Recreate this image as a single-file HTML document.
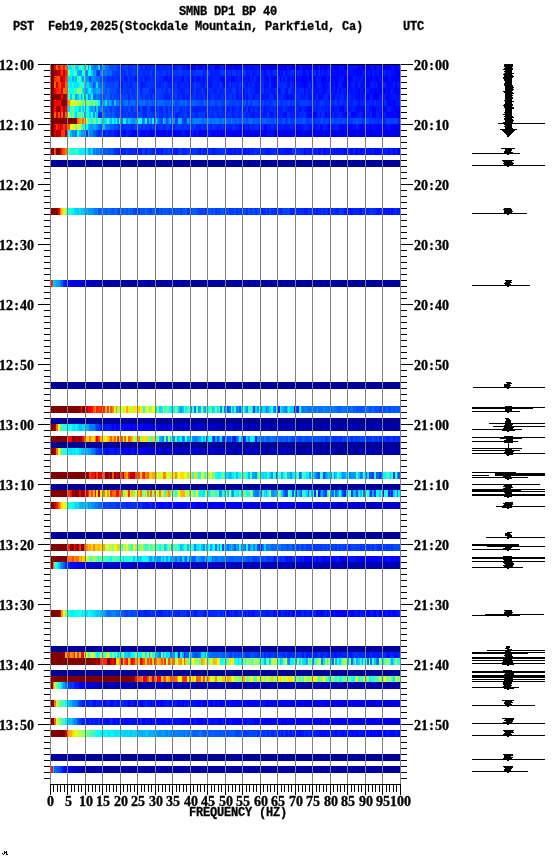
<!DOCTYPE html><html><head><meta charset="utf-8"><style>
html,body{margin:0;padding:0;background:#fff;width:552px;height:864px;overflow:hidden;position:relative}
.t{position:absolute;font-family:"Liberation Serif",serif;font-weight:bold;font-size:14px;line-height:13px;white-space:pre;color:#000;will-change:transform;-webkit-text-stroke:0.35px #000}
.t span{display:inline-block;width:7px;text-align:center}
.h{position:absolute;font-family:"Liberation Mono",monospace;font-weight:bold;font-size:12px;letter-spacing:-0.2px;line-height:13px;white-space:pre;color:#000;will-change:transform;-webkit-text-stroke:0.3px #000}
.r{position:absolute;left:51px;width:349px;height:7px}
.g{position:absolute;width:1px;background:#808080}
.k{position:absolute;height:1px;background:#000}
.v{position:absolute;width:1px;background:#000}
</style></head><body>
<div class="r" style="top:64px;background:linear-gradient(90deg,#800000 0 3.49px,#f10000 0 5.24px,#ff6300 0 6.98px,#ff0800 0 8.73px,#ff2a00 0 10.47px,#ff6600 0 12.21px,#ff0e00 0 13.96px,#ff6a00 0 15.71px,#f0ff0f 0 17.45px,#00f0ff 0 19.20px,#00ebff 0 20.94px,#24ffdb 0 22.69px,#69ff96 0 24.43px,#00d5ff 0 26.18px,#00dfff 0 27.92px,#26ffd9 0 29.67px,#5bffa4 0 31.41px,#09fff6 0 33.16px,#00dbff 0 34.90px,#43ffbc 0 36.65px,#0082ff 0 38.39px,#17ffe8 0 40.14px,#009cff 0 41.88px,#0076ff 0 43.62px,#0066ff 0 45.37px,#0081ff 0 47.12px,#00daff 0 48.86px,#0053ff 0 50.61px,#0098ff 0 52.35px,#009bff 0 54.10px,#0072ff 0 57.59px,#0055ff 0 59.33px,#004dff 0 61.08px,#004cff 0 62.82px,#0058ff 0 64.56px,#0045ff 0 66.31px,#0038ff 0 68.06px,#003cff 0 69.80px,#0035ff 0 71.55px,#002eff 0 73.29px,#0042ff 0 75.04px,#003dff 0 76.78px,#0028ff 0 78.53px,#0035ff 0 80.27px,#0032ff 0 82.02px,#0040ff 0 83.76px,#0039ff 0 85.51px,#0025ff 0 87.25px,#0042ff 0 89.00px,#001cff 0 90.74px,#0028ff 0 92.48px,#0035ff 0 94.23px,#001aff 0 95.98px,#0028ff 0 97.72px,#0014ff 0 99.47px,#002dff 0 101.21px,#0030ff 0 102.96px,#0027ff 0 104.70px,#0033ff 0 106.45px,#001aff 0 108.19px,#0029ff 0 109.94px,#0024ff 0 111.68px,#0023ff 0 113.43px,#001cff 0 115.17px,#002cff 0 116.92px,#002fff 0 118.66px,#001aff 0 120.41px,#0021ff 0 122.15px,#0006ff 0 123.90px,#0021ff 0 125.64px,#001dff 0 127.39px,#002bff 0 129.13px,#0023ff 0 130.88px,#000bff 0 132.62px,#000eff 0 134.37px,#0019ff 0 136.11px,#0000fc 0 137.86px,#000eff 0 139.60px,#0001ff 0 141.34px,#0000fd 0 143.09px,#0000f9 0 144.84px,#0017ff 0 146.58px,#0000fa 0 148.33px,#0000fe 0 150.07px,#0005ff 0 151.81px,#001aff 0 153.56px,#0000f7 0 155.31px,#0008ff 0 157.05px,#000cff 0 158.80px,#001aff 0 160.54px,#0017ff 0 162.28px,#0019ff 0 164.03px,#0000ff 0 165.78px,#0006ff 0 167.52px,#0003ff 0 169.27px,#0019ff 0 171.01px,#001cff 0 172.76px,#0000f9 0 174.50px,#0000fa 0 176.25px,#0000fc 0 179.74px,#0008ff 0 181.48px,#000cff 0 183.23px,#0000fd 0 184.97px,#0000f2 0 186.72px,#0005ff 0 188.46px,#0003ff 0 190.21px,#000bff 0 191.95px,#001bff 0 193.70px,#0010ff 0 195.44px,#0008ff 0 197.19px,#000dff 0 198.93px,#000fff 0 200.68px,#0000f4 0 202.42px,#0018ff 0 204.17px,#0013ff 0 205.91px,#0017ff 0 207.66px,#0014ff 0 209.40px,#0003ff 0 212.89px,#0000f5 0 214.64px,#000dff 0 216.38px,#0000f3 0 219.87px,#0000f9 0 221.62px,#0000f7 0 223.36px,#0000ff 0 225.11px,#0000f2 0 226.85px,#0000f0 0 228.60px,#0000f6 0 230.34px,#0000f4 0 232.09px,#0000ff 0 233.83px,#0000f1 0 235.58px,#0016ff 0 237.32px,#000aff 0 239.07px,#0000f6 0 240.81px,#0000fa 0 242.56px,#0000fe 0 244.30px,#0000ff 0 246.05px,#0000f4 0 247.79px,#0014ff 0 249.54px,#001aff 0 251.28px,#0003ff 0 253.03px,#0004ff 0 254.77px,#0000f2 0 256.52px,#0000f3 0 258.26px,#0000fd 0 260.00px,#0000fa 0 261.75px,#0012ff 0 263.50px,#0000f5 0 265.24px,#0000ef 0 266.99px,#0017ff 0 268.73px,#0005ff 0 270.48px,#0000f4 0 272.22px,#0006ff 0 273.97px,#0000ef 0 275.71px,#0005ff 0 277.46px,#0018ff 0 279.20px,#0013ff 0 280.94px,#000cff 0 282.69px,#0000f8 0 284.44px,#0000fd 0 286.18px,#0000f4 0 287.93px,#000fff 0 289.67px,#0004ff 0 291.42px,#000fff 0 293.16px,#0000fb 0 294.91px,#0000f6 0 296.65px,#0010ff 0 298.40px,#0017ff 0 300.14px,#0011ff 0 301.88px,#000fff 0 303.63px,#0010ff 0 305.38px,#000cff 0 307.12px,#0000f5 0 308.87px,#0003ff 0 310.61px,#0000fb 0 312.36px,#0000ed 0 315.85px,#0000f7 0 317.59px,#0000f6 0 319.34px,#000aff 0 321.08px,#0015ff 0 322.83px,#0000fe 0 324.57px,#0014ff 0 326.31px,#0016ff 0 328.06px,#0014ff 0 329.81px,#0000fa 0 331.55px,#0000f4 0 335.04px,#0000f3 0 338.53px,#0006ff 0 340.28px,#0011ff 0 342.02px,#000fff 0 343.77px,#0000fe 0 345.51px,#0007ff 0 347.25px,#000dff 0 349.00px)"></div>
<div class="r" style="top:70px;background:linear-gradient(90deg,#800000 0 3.49px,#8c0000 0 5.24px,#a90000 0 6.98px,#b40000 0 8.73px,#ee0000 0 10.47px,#ff2e00 0 12.21px,#ba0000 0 13.96px,#ff1900 0 15.71px,#ffcf00 0 17.45px,#83ff7c 0 19.20px,#09fff6 0 20.94px,#01fffe 0 22.69px,#62ff9d 0 24.43px,#2dffd2 0 26.18px,#00b6ff 0 27.92px,#00a4ff 0 29.67px,#009fff 0 31.41px,#2bffd4 0 33.16px,#0efff1 0 34.90px,#0082ff 0 36.65px,#00feff 0 38.39px,#14ffeb 0 40.14px,#00caff 0 41.88px,#0085ff 0 43.62px,#00a2ff 0 45.37px,#0047ff 0 47.12px,#0026ff 0 48.86px,#0090ff 0 50.61px,#007aff 0 52.35px,#006fff 0 54.10px,#007aff 0 55.84px,#005fff 0 57.59px,#006cff 0 59.33px,#0064ff 0 61.08px,#0044ff 0 62.82px,#0040ff 0 64.56px,#003bff 0 66.31px,#0033ff 0 68.06px,#003cff 0 69.80px,#002eff 0 71.55px,#0034ff 0 73.29px,#0028ff 0 75.04px,#0048ff 0 76.78px,#0030ff 0 78.53px,#0035ff 0 80.27px,#003aff 0 82.02px,#0047ff 0 83.76px,#0032ff 0 85.51px,#0047ff 0 87.25px,#0035ff 0 89.00px,#0036ff 0 90.74px,#0035ff 0 92.48px,#0020ff 0 94.23px,#0031ff 0 95.98px,#0026ff 0 97.72px,#001eff 0 99.47px,#0040ff 0 101.21px,#0025ff 0 102.96px,#0031ff 0 104.70px,#003cff 0 106.45px,#0034ff 0 108.19px,#002aff 0 109.94px,#0032ff 0 111.68px,#0033ff 0 113.43px,#003dff 0 115.17px,#0020ff 0 116.92px,#0033ff 0 118.66px,#0025ff 0 120.41px,#0026ff 0 122.15px,#003bff 0 123.90px,#002fff 0 125.64px,#0031ff 0 127.39px,#0039ff 0 129.13px,#0040ff 0 130.88px,#002bff 0 132.62px,#0032ff 0 134.37px,#002dff 0 137.86px,#0035ff 0 139.60px,#002aff 0 141.34px,#002eff 0 143.09px,#002bff 0 144.84px,#003eff 0 146.58px,#0034ff 0 148.33px,#003bff 0 150.07px,#003dff 0 151.81px,#0020ff 0 153.56px,#002dff 0 155.31px,#003dff 0 157.05px,#0038ff 0 158.80px,#001aff 0 160.54px,#0019ff 0 162.28px,#0026ff 0 164.03px,#0016ff 0 165.78px,#001dff 0 167.52px,#0016ff 0 169.27px,#002fff 0 171.01px,#0033ff 0 172.76px,#0038ff 0 174.50px,#0018ff 0 176.25px,#0030ff 0 177.99px,#002dff 0 179.74px,#0017ff 0 181.48px,#0036ff 0 183.23px,#0039ff 0 184.97px,#0019ff 0 186.72px,#0038ff 0 188.46px,#0020ff 0 190.21px,#0024ff 0 191.95px,#0039ff 0 193.70px,#0032ff 0 195.44px,#0015ff 0 197.19px,#0020ff 0 198.93px,#0023ff 0 200.68px,#001cff 0 202.42px,#0015ff 0 204.17px,#001aff 0 205.91px,#002bff 0 207.66px,#000dff 0 209.40px,#0023ff 0 211.15px,#001eff 0 212.89px,#000cff 0 214.64px,#0019ff 0 216.38px,#0025ff 0 218.12px,#0020ff 0 219.87px,#000dff 0 221.62px,#0034ff 0 223.36px,#002bff 0 225.11px,#0032ff 0 226.85px,#000dff 0 228.60px,#0014ff 0 230.34px,#000aff 0 232.09px,#0029ff 0 233.83px,#0013ff 0 235.58px,#000dff 0 237.32px,#0019ff 0 239.07px,#002eff 0 240.81px,#0029ff 0 242.56px,#0011ff 0 244.30px,#000cff 0 246.05px,#002dff 0 247.79px,#001eff 0 249.54px,#0023ff 0 251.28px,#0009ff 0 253.03px,#0007ff 0 254.77px,#0021ff 0 256.52px,#0016ff 0 258.26px,#0007ff 0 260.00px,#002bff 0 261.75px,#001eff 0 263.50px,#0025ff 0 265.24px,#0006ff 0 266.99px,#0027ff 0 268.73px,#0005ff 0 270.48px,#0026ff 0 272.22px,#0015ff 0 273.97px,#0010ff 0 275.71px,#0018ff 0 277.46px,#0028ff 0 279.20px,#000cff 0 280.94px,#0005ff 0 282.69px,#0016ff 0 284.44px,#000aff 0 286.18px,#0004ff 0 287.93px,#0006ff 0 289.67px,#0001ff 0 291.42px,#0007ff 0 293.16px,#000bff 0 296.65px,#001eff 0 298.40px,#0009ff 0 300.14px,#0012ff 0 301.88px,#0004ff 0 303.63px,#000bff 0 305.38px,#0000fc 0 307.12px,#0006ff 0 308.87px,#0000fb 0 310.61px,#001aff 0 312.36px,#0012ff 0 314.10px,#0003ff 0 315.85px,#000eff 0 317.59px,#0022ff 0 319.34px,#0000fd 0 321.08px,#001cff 0 322.83px,#000bff 0 324.57px,#000eff 0 326.31px,#001cff 0 328.06px,#0009ff 0 329.81px,#000dff 0 331.55px,#0015ff 0 333.30px,#0021ff 0 335.04px,#0006ff 0 336.79px,#001aff 0 338.53px,#0015ff 0 340.28px,#0011ff 0 342.02px,#0007ff 0 343.77px,#0004ff 0 345.51px,#0000f7 0 347.25px,#0000fa 0 349.00px)"></div>
<div class="r" style="top:76px;background:linear-gradient(90deg,#800000 0 3.49px,#ff2b00 0 5.24px,#ff4000 0 6.98px,#ff5300 0 8.73px,#c10000 0 10.47px,#be0000 0 12.21px,#e80000 0 13.96px,#ff3800 0 15.71px,#a1ff5e 0 17.45px,#00d7ff 0 19.20px,#00f1ff 0 20.94px,#00b0ff 0 22.69px,#00e2ff 0 24.43px,#00b8ff 0 26.18px,#3bffc4 0 27.92px,#37ffc8 0 29.67px,#00ddff 0 31.41px,#009bff 0 33.16px,#23ffdc 0 34.90px,#0096ff 0 36.65px,#0094ff 0 38.39px,#0042ff 0 40.14px,#0081ff 0 41.88px,#0088ff 0 43.62px,#0082ff 0 45.37px,#0069ff 0 47.12px,#006bff 0 48.86px,#004aff 0 50.61px,#004bff 0 52.35px,#003fff 0 54.10px,#0047ff 0 55.84px,#0033ff 0 57.59px,#002dff 0 59.33px,#0034ff 0 61.08px,#002cff 0 62.82px,#0036ff 0 64.56px,#002fff 0 66.31px,#0033ff 0 68.06px,#002bff 0 69.80px,#002dff 0 71.55px,#0033ff 0 73.29px,#001eff 0 75.04px,#001bff 0 76.78px,#0037ff 0 78.53px,#0014ff 0 80.27px,#002cff 0 82.02px,#0028ff 0 83.76px,#000eff 0 85.51px,#0030ff 0 87.25px,#0032ff 0 89.00px,#0026ff 0 90.74px,#002bff 0 92.48px,#002eff 0 94.23px,#0011ff 0 95.98px,#0021ff 0 97.72px,#0020ff 0 99.47px,#002eff 0 101.21px,#002cff 0 102.96px,#002dff 0 104.70px,#0023ff 0 106.45px,#002fff 0 108.19px,#0026ff 0 109.94px,#0027ff 0 111.68px,#0013ff 0 113.43px,#000aff 0 115.17px,#000eff 0 116.92px,#0018ff 0 118.66px,#000cff 0 120.41px,#002bff 0 122.15px,#001fff 0 123.90px,#0022ff 0 127.39px,#0024ff 0 129.13px,#001bff 0 130.88px,#0007ff 0 132.62px,#0028ff 0 134.37px,#0026ff 0 136.11px,#001bff 0 137.86px,#001cff 0 139.60px,#0021ff 0 141.34px,#0008ff 0 143.09px,#0024ff 0 144.84px,#000fff 0 146.58px,#0008ff 0 148.33px,#0010ff 0 150.07px,#0023ff 0 151.81px,#000dff 0 153.56px,#0023ff 0 155.31px,#002dff 0 157.05px,#0018ff 0 158.80px,#0013ff 0 160.54px,#0017ff 0 162.28px,#001fff 0 164.03px,#0023ff 0 165.78px,#001cff 0 167.52px,#001dff 0 169.27px,#0005ff 0 171.01px,#0008ff 0 172.76px,#000cff 0 174.50px,#0020ff 0 176.25px,#000eff 0 177.99px,#0019ff 0 179.74px,#0001ff 0 181.48px,#0003ff 0 183.23px,#000bff 0 184.97px,#001cff 0 186.72px,#001dff 0 188.46px,#001cff 0 190.21px,#000bff 0 191.95px,#0015ff 0 193.70px,#0012ff 0 197.19px,#0003ff 0 198.93px,#0024ff 0 200.68px,#0006ff 0 202.42px,#0027ff 0 204.17px,#0025ff 0 205.91px,#0000fd 0 207.66px,#0010ff 0 209.40px,#001fff 0 211.15px,#0025ff 0 212.89px,#000fff 0 214.64px,#0007ff 0 216.38px,#0004ff 0 218.12px,#0023ff 0 219.87px,#0004ff 0 221.62px,#0014ff 0 223.36px,#0001ff 0 225.11px,#0011ff 0 226.85px,#0023ff 0 228.60px,#0000ff 0 230.34px,#001dff 0 232.09px,#000fff 0 233.83px,#001fff 0 235.58px,#0017ff 0 237.32px,#0003ff 0 239.07px,#001fff 0 240.81px,#000dff 0 242.56px,#0000f8 0 244.30px,#0000f7 0 246.05px,#000dff 0 247.79px,#000bff 0 249.54px,#0004ff 0 251.28px,#0000fc 0 253.03px,#0006ff 0 254.77px,#0004ff 0 256.52px,#001aff 0 258.26px,#0000f5 0 260.00px,#0016ff 0 261.75px,#0019ff 0 263.50px,#0000fa 0 265.24px,#001dff 0 266.99px,#0013ff 0 268.73px,#001bff 0 270.48px,#0001ff 0 272.22px,#0004ff 0 273.97px,#0005ff 0 275.71px,#001eff 0 277.46px,#000dff 0 279.20px,#0003ff 0 280.94px,#0006ff 0 282.69px,#0000fe 0 284.44px,#0000f4 0 286.18px,#0000f6 0 287.93px,#0016ff 0 289.67px,#0000fd 0 291.42px,#001aff 0 293.16px,#0000fb 0 294.91px,#0000fc 0 296.65px,#0007ff 0 298.40px,#0000f8 0 300.14px,#0001ff 0 301.88px,#0019ff 0 303.63px,#0016ff 0 305.38px,#0013ff 0 307.12px,#000bff 0 308.87px,#0017ff 0 312.36px,#0007ff 0 314.10px,#000eff 0 315.85px,#0000f0 0 317.59px,#000eff 0 319.34px,#0002ff 0 321.08px,#000eff 0 322.83px,#0009ff 0 324.57px,#0000f9 0 326.31px,#0000ef 0 328.06px,#0015ff 0 329.81px,#0000f2 0 331.55px,#0001ff 0 333.30px,#0000fa 0 335.04px,#0000f8 0 336.79px,#000cff 0 338.53px,#0015ff 0 340.28px,#0000f6 0 342.02px,#0007ff 0 343.77px,#0000f7 0 345.51px,#0003ff 0 347.25px,#0000fb 0 349.00px)"></div>
<div class="r" style="top:82px;background:linear-gradient(90deg,#800000 0 3.49px,#ff5f00 0 5.24px,#de0000 0 6.98px,#ff3800 0 8.73px,#ff7700 0 10.47px,#f90000 0 12.21px,#f00000 0 13.96px,#ff6500 0 15.71px,#94ff6b 0 17.45px,#09fff6 0 19.20px,#00ebff 0 20.94px,#14ffeb 0 22.69px,#00d8ff 0 24.43px,#00ecff 0 26.18px,#00e6ff 0 27.92px,#1affe5 0 29.67px,#4fffb0 0 31.41px,#2bffd4 0 33.16px,#00deff 0 34.90px,#00d0ff 0 36.65px,#00d7ff 0 38.39px,#00abff 0 40.14px,#0095ff 0 41.88px,#0050ff 0 43.62px,#006cff 0 45.37px,#00e4ff 0 47.12px,#006aff 0 48.86px,#006cff 0 50.61px,#0065ff 0 52.35px,#006aff 0 54.10px,#004aff 0 55.84px,#0047ff 0 57.59px,#0041ff 0 59.33px,#0043ff 0 61.08px,#0040ff 0 62.82px,#0050ff 0 64.56px,#0047ff 0 66.31px,#0043ff 0 68.06px,#001aff 0 71.55px,#0036ff 0 73.29px,#003eff 0 75.04px,#002cff 0 76.78px,#0030ff 0 78.53px,#0017ff 0 80.27px,#0028ff 0 82.02px,#003eff 0 83.76px,#003aff 0 85.51px,#003bff 0 87.25px,#0040ff 0 89.00px,#0021ff 0 90.74px,#001aff 0 92.48px,#001cff 0 94.23px,#002cff 0 95.98px,#0032ff 0 97.72px,#003dff 0 99.47px,#0033ff 0 101.21px,#0030ff 0 102.96px,#0035ff 0 104.70px,#0027ff 0 106.45px,#002bff 0 108.19px,#0015ff 0 109.94px,#0035ff 0 111.68px,#001dff 0 113.43px,#003aff 0 115.17px,#002eff 0 116.92px,#001fff 0 118.66px,#0018ff 0 120.41px,#001dff 0 122.15px,#002dff 0 123.90px,#002fff 0 125.64px,#0016ff 0 127.39px,#0014ff 0 129.13px,#0027ff 0 130.88px,#0029ff 0 132.62px,#0021ff 0 134.37px,#001aff 0 136.11px,#002aff 0 137.86px,#0010ff 0 139.60px,#001cff 0 141.34px,#0023ff 0 143.09px,#0038ff 0 144.84px,#002aff 0 146.58px,#0034ff 0 148.33px,#0023ff 0 150.07px,#0018ff 0 153.56px,#0037ff 0 155.31px,#002bff 0 157.05px,#001aff 0 158.80px,#000eff 0 160.54px,#0022ff 0 162.28px,#0029ff 0 164.03px,#001eff 0 165.78px,#0017ff 0 167.52px,#0028ff 0 169.27px,#0033ff 0 171.01px,#0015ff 0 172.76px,#000dff 0 174.50px,#0019ff 0 176.25px,#001dff 0 177.99px,#0028ff 0 179.74px,#0013ff 0 181.48px,#002cff 0 183.23px,#0029ff 0 184.97px,#001fff 0 186.72px,#0012ff 0 188.46px,#0032ff 0 190.21px,#0016ff 0 191.95px,#002cff 0 193.70px,#0012ff 0 197.19px,#0028ff 0 198.93px,#0015ff 0 200.68px,#0030ff 0 202.42px,#001dff 0 204.17px,#000fff 0 205.91px,#0011ff 0 207.66px,#0019ff 0 209.40px,#0023ff 0 211.15px,#002fff 0 212.89px,#000cff 0 214.64px,#0017ff 0 216.38px,#000fff 0 218.12px,#002fff 0 219.87px,#000bff 0 221.62px,#0007ff 0 225.11px,#0015ff 0 226.85px,#002bff 0 228.60px,#002aff 0 230.34px,#0023ff 0 232.09px,#002eff 0 233.83px,#002bff 0 235.58px,#0011ff 0 237.32px,#000bff 0 239.07px,#002bff 0 240.81px,#0022ff 0 242.56px,#0004ff 0 244.30px,#001eff 0 246.05px,#0012ff 0 249.54px,#0010ff 0 251.28px,#0009ff 0 253.03px,#0001ff 0 254.77px,#000dff 0 256.52px,#0010ff 0 258.26px,#0029ff 0 260.00px,#0005ff 0 261.75px,#0029ff 0 263.50px,#0009ff 0 265.24px,#000fff 0 266.99px,#0022ff 0 270.48px,#0011ff 0 272.22px,#0001ff 0 273.97px,#0013ff 0 275.71px,#000eff 0 277.46px,#0025ff 0 279.20px,#0006ff 0 280.94px,#000dff 0 282.69px,#0023ff 0 284.44px,#0000fd 0 286.18px,#000eff 0 287.93px,#001fff 0 289.67px,#001dff 0 291.42px,#0000fd 0 293.16px,#0000fc 0 294.91px,#0000fd 0 296.65px,#0023ff 0 298.40px,#0006ff 0 300.14px,#001bff 0 301.88px,#0021ff 0 303.63px,#0009ff 0 305.38px,#0006ff 0 307.12px,#0023ff 0 308.87px,#0014ff 0 310.61px,#0005ff 0 312.36px,#0018ff 0 314.10px,#0007ff 0 315.85px,#0005ff 0 317.59px,#0000f8 0 319.34px,#0019ff 0 321.08px,#001fff 0 322.83px,#0013ff 0 324.57px,#0020ff 0 326.31px,#0000f8 0 328.06px,#0001ff 0 329.81px,#000bff 0 331.55px,#0020ff 0 333.30px,#001fff 0 335.04px,#0007ff 0 336.79px,#0001ff 0 338.53px,#0008ff 0 340.28px,#000bff 0 342.02px,#001dff 0 343.77px,#0000fc 0 345.51px,#0017ff 0 347.25px,#0014ff 0 349.00px)"></div>
<div class="r" style="top:88px;background:linear-gradient(90deg,#800000 0 3.49px,#e60000 0 5.24px,#ff2400 0 6.98px,#ff2b00 0 8.73px,#ff2900 0 10.47px,#dc0000 0 12.21px,#ff6c00 0 13.96px,#ff5b00 0 15.71px,#ffba00 0 17.45px,#44ffbb 0 19.20px,#14ffeb 0 20.94px,#02fffd 0 22.69px,#5bffa4 0 24.43px,#22ffdd 0 26.18px,#95ff6a 0 27.92px,#76ff89 0 29.67px,#7eff81 0 31.41px,#00e2ff 0 33.16px,#00b2ff 0 34.90px,#00a5ff 0 36.65px,#00e4ff 0 38.39px,#00feff 0 40.14px,#00bbff 0 41.88px,#0081ff 0 43.62px,#0095ff 0 45.37px,#00adff 0 47.12px,#00a8ff 0 48.86px,#0081ff 0 50.61px,#0078ff 0 52.35px,#006cff 0 54.10px,#0050ff 0 55.84px,#0069ff 0 57.59px,#004dff 0 59.33px,#0054ff 0 61.08px,#0047ff 0 62.82px,#0051ff 0 64.56px,#0035ff 0 66.31px,#0033ff 0 68.06px,#002dff 0 69.80px,#0029ff 0 71.55px,#0048ff 0 73.29px,#003bff 0 75.04px,#0030ff 0 76.78px,#0032ff 0 78.53px,#004bff 0 80.27px,#0036ff 0 82.02px,#002aff 0 83.76px,#0043ff 0 85.51px,#003cff 0 87.25px,#004aff 0 89.00px,#0024ff 0 90.74px,#0033ff 0 92.48px,#0042ff 0 95.98px,#0045ff 0 97.72px,#0020ff 0 99.47px,#002aff 0 101.21px,#0023ff 0 102.96px,#0025ff 0 104.70px,#0046ff 0 106.45px,#0035ff 0 108.19px,#0044ff 0 109.94px,#002cff 0 111.68px,#0040ff 0 113.43px,#002fff 0 115.17px,#0026ff 0 116.92px,#003cff 0 118.66px,#0043ff 0 120.41px,#001fff 0 122.15px,#0033ff 0 123.90px,#0034ff 0 125.64px,#0023ff 0 127.39px,#0029ff 0 129.13px,#001fff 0 130.88px,#0021ff 0 132.62px,#0023ff 0 134.37px,#0031ff 0 136.11px,#0033ff 0 137.86px,#0020ff 0 139.60px,#0018ff 0 141.34px,#0025ff 0 143.09px,#0033ff 0 144.84px,#001eff 0 146.58px,#0023ff 0 148.33px,#001eff 0 150.07px,#0037ff 0 151.81px,#002cff 0 153.56px,#0018ff 0 155.31px,#0019ff 0 157.05px,#0025ff 0 158.80px,#002bff 0 160.54px,#002fff 0 162.28px,#0017ff 0 164.03px,#001aff 0 165.78px,#0030ff 0 167.52px,#0024ff 0 169.27px,#001eff 0 171.01px,#001fff 0 172.76px,#003aff 0 174.50px,#001fff 0 176.25px,#0029ff 0 177.99px,#0020ff 0 179.74px,#0022ff 0 181.48px,#0035ff 0 183.23px,#003aff 0 184.97px,#001fff 0 186.72px,#0018ff 0 188.46px,#002eff 0 190.21px,#0018ff 0 191.95px,#000fff 0 193.70px,#0035ff 0 195.44px,#0020ff 0 197.19px,#0031ff 0 198.93px,#001fff 0 200.68px,#0033ff 0 202.42px,#0020ff 0 204.17px,#0013ff 0 205.91px,#000dff 0 207.66px,#0023ff 0 209.40px,#0027ff 0 211.15px,#0032ff 0 212.89px,#000fff 0 214.64px,#0025ff 0 216.38px,#001aff 0 218.12px,#0020ff 0 219.87px,#0010ff 0 221.62px,#0016ff 0 223.36px,#0020ff 0 225.11px,#0030ff 0 226.85px,#000dff 0 228.60px,#001dff 0 230.34px,#002aff 0 232.09px,#0031ff 0 233.83px,#0010ff 0 235.58px,#000dff 0 237.32px,#002fff 0 239.07px,#0030ff 0 240.81px,#001bff 0 242.56px,#0009ff 0 244.30px,#002dff 0 246.05px,#0016ff 0 247.79px,#002cff 0 249.54px,#001fff 0 251.28px,#0028ff 0 253.03px,#000bff 0 254.77px,#0026ff 0 256.52px,#000dff 0 258.26px,#0015ff 0 260.00px,#0027ff 0 261.75px,#0026ff 0 263.50px,#000bff 0 265.24px,#000cff 0 266.99px,#0013ff 0 268.73px,#0018ff 0 270.48px,#0012ff 0 272.22px,#0007ff 0 273.97px,#000cff 0 275.71px,#0020ff 0 277.46px,#0027ff 0 279.20px,#0002ff 0 280.94px,#0018ff 0 282.69px,#0020ff 0 284.44px,#0001ff 0 286.18px,#0023ff 0 287.93px,#0004ff 0 289.67px,#0018ff 0 291.42px,#0016ff 0 293.16px,#0019ff 0 294.91px,#000bff 0 296.65px,#000fff 0 298.40px,#0016ff 0 300.14px,#000fff 0 301.88px,#0019ff 0 303.63px,#000fff 0 307.12px,#0000fc 0 308.87px,#0016ff 0 310.61px,#0010ff 0 312.36px,#0005ff 0 314.10px,#001bff 0 317.59px,#000dff 0 319.34px,#0001ff 0 321.08px,#000dff 0 322.83px,#0000fd 0 326.31px,#000bff 0 328.06px,#0000fb 0 329.81px,#000bff 0 331.55px,#000dff 0 333.30px,#0000f8 0 335.04px,#0012ff 0 336.79px,#0000f9 0 338.53px,#0016ff 0 340.28px,#0017ff 0 342.02px,#000cff 0 343.77px,#0000f7 0 345.51px,#000bff 0 347.25px,#0005ff 0 349.00px)"></div>
<div class="r" style="top:94px;background:linear-gradient(90deg,#800000 0 6.98px,#880000 0 8.73px,#800000 0 10.47px,#f50000 0 12.21px,#800000 0 13.96px,#bd0000 0 15.71px,#ffa200 0 17.45px,#65ff9a 0 19.20px,#00caff 0 20.94px,#3effc1 0 22.69px,#52ffad 0 24.43px,#00a1ff 0 26.18px,#00d1ff 0 27.92px,#1affe5 0 29.67px,#009dff 0 31.41px,#27ffd8 0 33.16px,#00a5ff 0 34.90px,#04fffb 0 36.65px,#0074ff 0 38.39px,#00afff 0 40.14px,#00f5ff 0 41.88px,#005eff 0 43.62px,#005dff 0 45.37px,#0081ff 0 47.12px,#006dff 0 48.86px,#0056ff 0 50.61px,#0052ff 0 52.35px,#004dff 0 54.10px,#006aff 0 55.84px,#005cff 0 57.59px,#0061ff 0 59.33px,#003eff 0 61.08px,#0054ff 0 62.82px,#0034ff 0 64.56px,#0041ff 0 66.31px,#0042ff 0 68.06px,#0032ff 0 69.80px,#0048ff 0 71.55px,#003aff 0 73.29px,#003bff 0 75.04px,#0047ff 0 76.78px,#0026ff 0 78.53px,#004bff 0 80.27px,#003cff 0 82.02px,#0031ff 0 83.76px,#0042ff 0 85.51px,#002bff 0 87.25px,#004aff 0 89.00px,#0038ff 0 90.74px,#002eff 0 92.48px,#003fff 0 94.23px,#0031ff 0 95.98px,#0026ff 0 97.72px,#003eff 0 99.47px,#0020ff 0 101.21px,#0040ff 0 102.96px,#0028ff 0 104.70px,#0038ff 0 106.45px,#0046ff 0 108.19px,#0035ff 0 109.94px,#0038ff 0 111.68px,#0029ff 0 113.43px,#001cff 0 115.17px,#001dff 0 116.92px,#0021ff 0 118.66px,#0035ff 0 120.41px,#002dff 0 122.15px,#0030ff 0 123.90px,#0040ff 0 125.64px,#001fff 0 127.39px,#0023ff 0 129.13px,#0035ff 0 130.88px,#001aff 0 132.62px,#0018ff 0 134.37px,#0027ff 0 136.11px,#001cff 0 137.86px,#0027ff 0 139.60px,#0021ff 0 141.34px,#0030ff 0 144.84px,#001fff 0 146.58px,#0030ff 0 148.33px,#002aff 0 150.07px,#001bff 0 151.81px,#003dff 0 153.56px,#001fff 0 155.31px,#001bff 0 157.05px,#0018ff 0 158.80px,#002fff 0 160.54px,#0039ff 0 162.28px,#0035ff 0 164.03px,#0024ff 0 165.78px,#001eff 0 167.52px,#0013ff 0 169.27px,#002eff 0 171.01px,#002aff 0 172.76px,#0021ff 0 174.50px,#002dff 0 176.25px,#0024ff 0 177.99px,#0039ff 0 179.74px,#0030ff 0 181.48px,#001bff 0 183.23px,#0036ff 0 184.97px,#0012ff 0 186.72px,#0026ff 0 188.46px,#0020ff 0 190.21px,#0019ff 0 191.95px,#0011ff 0 193.70px,#002fff 0 195.44px,#000fff 0 197.19px,#0025ff 0 198.93px,#0035ff 0 200.68px,#0013ff 0 202.42px,#0015ff 0 204.17px,#0026ff 0 205.91px,#0022ff 0 207.66px,#0027ff 0 209.40px,#002eff 0 211.15px,#0013ff 0 212.89px,#0018ff 0 216.38px,#000dff 0 218.12px,#0030ff 0 219.87px,#002bff 0 221.62px,#0028ff 0 223.36px,#000aff 0 225.11px,#002dff 0 226.85px,#0028ff 0 228.60px,#001cff 0 230.34px,#0028ff 0 232.09px,#001bff 0 233.83px,#0011ff 0 235.58px,#000cff 0 237.32px,#0011ff 0 239.07px,#0009ff 0 240.81px,#0015ff 0 242.56px,#0026ff 0 244.30px,#0023ff 0 246.05px,#002aff 0 247.79px,#0024ff 0 249.54px,#0010ff 0 251.28px,#001cff 0 253.03px,#0017ff 0 254.77px,#0026ff 0 256.52px,#001aff 0 258.26px,#000fff 0 260.00px,#001fff 0 261.75px,#002cff 0 263.50px,#000cff 0 265.24px,#0028ff 0 266.99px,#0003ff 0 268.73px,#000dff 0 270.48px,#000cff 0 272.22px,#0021ff 0 273.97px,#0029ff 0 275.71px,#0021ff 0 277.46px,#000eff 0 279.20px,#0026ff 0 280.94px,#000eff 0 282.69px,#000aff 0 284.44px,#0026ff 0 286.18px,#001aff 0 287.93px,#001cff 0 289.67px,#001bff 0 291.42px,#0028ff 0 293.16px,#0012ff 0 294.91px,#0021ff 0 296.65px,#001bff 0 298.40px,#0022ff 0 300.14px,#000fff 0 301.88px,#001bff 0 303.63px,#0014ff 0 305.38px,#0009ff 0 307.12px,#0005ff 0 308.87px,#0016ff 0 310.61px,#0000fd 0 312.36px,#0021ff 0 314.10px,#0001ff 0 315.85px,#0000fa 0 317.59px,#0000fe 0 319.34px,#0021ff 0 321.08px,#0008ff 0 322.83px,#0000fe 0 324.57px,#0000f9 0 328.06px,#0016ff 0 329.81px,#0013ff 0 331.55px,#0015ff 0 333.30px,#0017ff 0 335.04px,#0000f9 0 336.79px,#0010ff 0 338.53px,#0006ff 0 340.28px,#0019ff 0 343.77px,#001cff 0 345.51px,#0000f7 0 347.25px,#001aff 0 349.00px)"></div>
<div class="r" style="top:100px;background:linear-gradient(90deg,#800000 0 3.49px,#ff0000 0 5.24px,#ec0000 0 6.98px,#fe0000 0 8.73px,#ff0f00 0 10.47px,#800000 0 13.96px,#980000 0 15.71px,#e90000 0 17.45px,#ff8300 0 19.20px,#ffec00 0 20.94px,#c7ff38 0 22.69px,#a0ff5f 0 24.43px,#ffed00 0 26.18px,#9cff63 0 27.92px,#aaff55 0 29.67px,#b5ff4a 0 31.41px,#5dffa2 0 33.16px,#83ff7c 0 34.90px,#76ff89 0 36.65px,#b9ff46 0 38.39px,#61ff9e 0 40.14px,#3cffc3 0 41.88px,#9eff61 0 43.62px,#27ffd8 0 45.37px,#4fffb0 0 47.12px,#06fff9 0 48.86px,#0075ff 0 50.61px,#00a9ff 0 52.35px,#00a6ff 0 54.10px,#00e0ff 0 55.84px,#0085ff 0 57.59px,#00c3ff 0 59.33px,#009aff 0 61.08px,#0054ff 0 62.82px,#00caff 0 64.56px,#006aff 0 66.31px,#0081ff 0 68.06px,#005dff 0 69.80px,#0055ff 0 71.55px,#005dff 0 73.29px,#0075ff 0 75.04px,#007dff 0 76.78px,#0053ff 0 78.53px,#0067ff 0 82.02px,#0073ff 0 83.76px,#0059ff 0 85.51px,#0065ff 0 87.25px,#005fff 0 89.00px,#0073ff 0 90.74px,#005aff 0 92.48px,#0076ff 0 94.23px,#005aff 0 95.98px,#0056ff 0 97.72px,#006aff 0 99.47px,#0061ff 0 101.21px,#0050ff 0 102.96px,#0066ff 0 104.70px,#004eff 0 106.45px,#006bff 0 108.19px,#0067ff 0 109.94px,#006aff 0 111.68px,#0063ff 0 113.43px,#0057ff 0 115.17px,#0058ff 0 118.66px,#006cff 0 120.41px,#0049ff 0 122.15px,#006bff 0 123.90px,#0046ff 0 125.64px,#004dff 0 127.39px,#004fff 0 129.13px,#0069ff 0 130.88px,#0058ff 0 132.62px,#0052ff 0 134.37px,#0067ff 0 136.11px,#004bff 0 137.86px,#0054ff 0 139.60px,#0056ff 0 141.34px,#005fff 0 144.84px,#005aff 0 146.58px,#004cff 0 148.33px,#004bff 0 150.07px,#0043ff 0 151.81px,#0060ff 0 153.56px,#0058ff 0 155.31px,#005aff 0 157.05px,#0042ff 0 158.80px,#004cff 0 160.54px,#005aff 0 162.28px,#0051ff 0 164.03px,#003eff 0 165.78px,#004bff 0 167.52px,#005dff 0 169.27px,#0041ff 0 171.01px,#003eff 0 172.76px,#0042ff 0 174.50px,#0053ff 0 176.25px,#0058ff 0 177.99px,#003aff 0 181.48px,#003dff 0 183.23px,#0040ff 0 184.97px,#0048ff 0 186.72px,#0038ff 0 188.46px,#003fff 0 190.21px,#0038ff 0 191.95px,#0059ff 0 193.70px,#004eff 0 195.44px,#0033ff 0 197.19px,#0057ff 0 198.93px,#0032ff 0 200.68px,#003dff 0 202.42px,#0056ff 0 204.17px,#004dff 0 205.91px,#004aff 0 207.66px,#003dff 0 209.40px,#0032ff 0 211.15px,#0045ff 0 212.89px,#002eff 0 214.64px,#0031ff 0 216.38px,#0038ff 0 218.12px,#0029ff 0 219.87px,#0038ff 0 221.62px,#0048ff 0 223.36px,#0043ff 0 225.11px,#003bff 0 226.85px,#0040ff 0 228.60px,#0038ff 0 230.34px,#002aff 0 232.09px,#003dff 0 233.83px,#0034ff 0 235.58px,#0041ff 0 237.32px,#0048ff 0 239.07px,#0033ff 0 240.81px,#0039ff 0 242.56px,#0040ff 0 244.30px,#0031ff 0 246.05px,#0028ff 0 247.79px,#003dff 0 249.54px,#0043ff 0 251.28px,#003eff 0 253.03px,#003aff 0 254.77px,#0040ff 0 256.52px,#0038ff 0 258.26px,#0036ff 0 260.00px,#002eff 0 261.75px,#0027ff 0 263.50px,#0034ff 0 265.24px,#001dff 0 266.99px,#002aff 0 268.73px,#0039ff 0 270.48px,#0035ff 0 272.22px,#0031ff 0 273.97px,#0021ff 0 275.71px,#0028ff 0 279.20px,#002fff 0 280.94px,#0025ff 0 282.69px,#0030ff 0 284.44px,#003aff 0 286.18px,#001aff 0 287.93px,#002eff 0 289.67px,#0032ff 0 291.42px,#0021ff 0 293.16px,#0025ff 0 294.91px,#0039ff 0 296.65px,#0011ff 0 298.40px,#0026ff 0 300.14px,#0015ff 0 301.88px,#002fff 0 303.63px,#0035ff 0 305.38px,#0022ff 0 307.12px,#0010ff 0 308.87px,#0024ff 0 310.61px,#0022ff 0 312.36px,#0029ff 0 314.10px,#001fff 0 315.85px,#0024ff 0 317.59px,#002cff 0 319.34px,#001eff 0 321.08px,#0019ff 0 322.83px,#002fff 0 324.57px,#000fff 0 326.31px,#0023ff 0 328.06px,#0016ff 0 329.81px,#0025ff 0 331.55px,#000aff 0 333.30px,#002eff 0 335.04px,#0012ff 0 336.79px,#0005ff 0 338.53px,#000eff 0 340.28px,#0013ff 0 342.02px,#0002ff 0 343.77px,#0012ff 0 347.25px,#001dff 0 349.00px)"></div>
<div class="r" style="top:106px;background:linear-gradient(90deg,#800000 0 3.49px,#ff1200 0 5.24px,#ac0000 0 6.98px,#850000 0 8.73px,#d60000 0 10.47px,#ff1300 0 12.21px,#a00000 0 13.96px,#f00000 0 15.71px,#c9ff36 0 17.45px,#00dfff 0 19.20px,#57ffa8 0 20.94px,#56ffa9 0 22.69px,#2dffd2 0 24.43px,#05fffa 0 26.18px,#10ffef 0 27.92px,#00c6ff 0 29.67px,#50ffaf 0 31.41px,#00d0ff 0 33.16px,#01fffe 0 34.90px,#18ffe7 0 36.65px,#0bfff4 0 38.39px,#00b9ff 0 40.14px,#008bff 0 41.88px,#00b0ff 0 43.62px,#0051ff 0 45.37px,#00cfff 0 47.12px,#0064ff 0 48.86px,#0083ff 0 50.61px,#0060ff 0 54.10px,#0055ff 0 55.84px,#0058ff 0 57.59px,#0049ff 0 59.33px,#003cff 0 61.08px,#0055ff 0 62.82px,#003eff 0 64.56px,#0037ff 0 66.31px,#0035ff 0 68.06px,#0037ff 0 69.80px,#0035ff 0 71.55px,#003dff 0 73.29px,#003eff 0 75.04px,#0031ff 0 76.78px,#0049ff 0 78.53px,#0045ff 0 80.27px,#0023ff 0 82.02px,#0044ff 0 83.76px,#0047ff 0 85.51px,#0041ff 0 87.25px,#0026ff 0 89.00px,#0043ff 0 90.74px,#003aff 0 92.48px,#0020ff 0 94.23px,#001fff 0 95.98px,#0047ff 0 97.72px,#003aff 0 99.47px,#0028ff 0 101.21px,#0022ff 0 102.96px,#0023ff 0 104.70px,#0027ff 0 106.45px,#003eff 0 108.19px,#002bff 0 109.94px,#0023ff 0 111.68px,#0042ff 0 113.43px,#003dff 0 115.17px,#0022ff 0 116.92px,#0041ff 0 118.66px,#0034ff 0 120.41px,#003bff 0 122.15px,#0036ff 0 123.90px,#0040ff 0 125.64px,#003bff 0 127.39px,#003dff 0 129.13px,#0021ff 0 130.88px,#0036ff 0 132.62px,#002fff 0 134.37px,#0038ff 0 136.11px,#002aff 0 137.86px,#003dff 0 139.60px,#002fff 0 141.34px,#0022ff 0 143.09px,#0021ff 0 144.84px,#001cff 0 146.58px,#002bff 0 148.33px,#0018ff 0 150.07px,#0029ff 0 151.81px,#001bff 0 153.56px,#002aff 0 157.05px,#002bff 0 158.80px,#0039ff 0 160.54px,#0014ff 0 162.28px,#0037ff 0 164.03px,#0027ff 0 165.78px,#002bff 0 167.52px,#002fff 0 169.27px,#0036ff 0 171.01px,#0022ff 0 172.76px,#0024ff 0 174.50px,#003aff 0 176.25px,#0014ff 0 177.99px,#002cff 0 181.48px,#0012ff 0 183.23px,#002aff 0 184.97px,#002dff 0 186.72px,#0037ff 0 188.46px,#001dff 0 190.21px,#0039ff 0 191.95px,#0024ff 0 193.70px,#0023ff 0 195.44px,#0034ff 0 197.19px,#000fff 0 198.93px,#002cff 0 200.68px,#0028ff 0 202.42px,#001bff 0 204.17px,#0031ff 0 205.91px,#001cff 0 207.66px,#0020ff 0 209.40px,#0022ff 0 211.15px,#002cff 0 212.89px,#0014ff 0 214.64px,#001dff 0 218.12px,#0022ff 0 219.87px,#002dff 0 221.62px,#0016ff 0 223.36px,#002dff 0 225.11px,#001aff 0 226.85px,#001eff 0 228.60px,#0014ff 0 230.34px,#001eff 0 232.09px,#0031ff 0 233.83px,#0023ff 0 235.58px,#0029ff 0 237.32px,#0015ff 0 239.07px,#0014ff 0 240.81px,#0013ff 0 242.56px,#001fff 0 244.30px,#0021ff 0 246.05px,#0027ff 0 247.79px,#0007ff 0 249.54px,#0024ff 0 251.28px,#002aff 0 253.03px,#001cff 0 254.77px,#0006ff 0 256.52px,#0011ff 0 258.26px,#0004ff 0 260.00px,#000bff 0 261.75px,#002aff 0 263.50px,#001dff 0 265.24px,#001eff 0 266.99px,#0024ff 0 268.73px,#0029ff 0 270.48px,#001cff 0 275.71px,#001eff 0 277.46px,#001aff 0 279.20px,#001dff 0 280.94px,#0009ff 0 282.69px,#001cff 0 284.44px,#0013ff 0 286.18px,#0020ff 0 287.93px,#0003ff 0 289.67px,#0006ff 0 291.42px,#0000ff 0 293.16px,#001fff 0 294.91px,#0024ff 0 296.65px,#0019ff 0 298.40px,#000dff 0 300.14px,#0020ff 0 301.88px,#001eff 0 303.63px,#0014ff 0 305.38px,#0007ff 0 307.12px,#0009ff 0 308.87px,#000dff 0 310.61px,#0009ff 0 312.36px,#000dff 0 314.10px,#0016ff 0 315.85px,#0022ff 0 317.59px,#0000fb 0 319.34px,#0012ff 0 321.08px,#0000fa 0 322.83px,#0000fd 0 324.57px,#001bff 0 326.31px,#0011ff 0 328.06px,#001fff 0 329.81px,#000bff 0 331.55px,#0000f7 0 333.30px,#0008ff 0 335.04px,#0010ff 0 336.79px,#001fff 0 338.53px,#0020ff 0 340.28px,#000aff 0 342.02px,#0007ff 0 343.77px,#0000f9 0 345.51px,#0011ff 0 347.25px,#0000fd 0 349.00px)"></div>
<div class="r" style="top:112px;background:linear-gradient(90deg,#800000 0 3.49px,#ff5c00 0 5.24px,#d90000 0 6.98px,#ff4c00 0 8.73px,#a80000 0 10.47px,#ff5800 0 12.21px,#c10000 0 13.96px,#ff5600 0 15.71px,#daff25 0 17.45px,#bcff43 0 19.20px,#32ffcd 0 20.94px,#76ff89 0 22.69px,#01fffe 0 24.43px,#00dcff 0 26.18px,#61ff9e 0 27.92px,#4cffb3 0 29.67px,#5effa1 0 31.41px,#3cffc3 0 33.16px,#00b2ff 0 34.90px,#0ffff0 0 36.65px,#11ffee 0 38.39px,#00d0ff 0 40.14px,#1fffe0 0 41.88px,#008aff 0 43.62px,#08fff7 0 45.37px,#00c8ff 0 47.12px,#002fff 0 48.86px,#0021ff 0 50.61px,#007aff 0 52.35px,#007bff 0 54.10px,#0056ff 0 55.84px,#005aff 0 57.59px,#0066ff 0 59.33px,#0048ff 0 61.08px,#005fff 0 62.82px,#004aff 0 64.56px,#0032ff 0 66.31px,#0039ff 0 68.06px,#003cff 0 69.80px,#0035ff 0 71.55px,#003fff 0 73.29px,#0028ff 0 75.04px,#0044ff 0 76.78px,#0031ff 0 78.53px,#003dff 0 80.27px,#003cff 0 82.02px,#0032ff 0 83.76px,#0031ff 0 85.51px,#0041ff 0 87.25px,#0048ff 0 89.00px,#0041ff 0 90.74px,#0037ff 0 92.48px,#002bff 0 94.23px,#0021ff 0 95.98px,#0048ff 0 97.72px,#003cff 0 99.47px,#0041ff 0 101.21px,#002cff 0 102.96px,#0037ff 0 104.70px,#0046ff 0 106.45px,#0040ff 0 108.19px,#0036ff 0 109.94px,#0029ff 0 111.68px,#002eff 0 113.43px,#0041ff 0 115.17px,#002bff 0 116.92px,#0038ff 0 118.66px,#0034ff 0 120.41px,#0040ff 0 122.15px,#003cff 0 123.90px,#0026ff 0 125.64px,#001aff 0 127.39px,#0024ff 0 129.13px,#002bff 0 130.88px,#0031ff 0 132.62px,#003bff 0 134.37px,#003eff 0 136.11px,#001aff 0 137.86px,#003bff 0 139.60px,#003aff 0 141.34px,#003cff 0 143.09px,#002fff 0 144.84px,#0022ff 0 146.58px,#003aff 0 148.33px,#0038ff 0 150.07px,#0033ff 0 151.81px,#003cff 0 153.56px,#0024ff 0 155.31px,#0018ff 0 157.05px,#002cff 0 158.80px,#0036ff 0 160.54px,#001cff 0 162.28px,#0033ff 0 164.03px,#003bff 0 165.78px,#001dff 0 167.52px,#002cff 0 169.27px,#002fff 0 171.01px,#0026ff 0 172.76px,#001aff 0 174.50px,#001cff 0 176.25px,#0031ff 0 177.99px,#0032ff 0 179.74px,#0024ff 0 181.48px,#0014ff 0 183.23px,#0032ff 0 184.97px,#0030ff 0 186.72px,#0019ff 0 188.46px,#0028ff 0 190.21px,#0035ff 0 191.95px,#0034ff 0 193.70px,#0024ff 0 195.44px,#0022ff 0 197.19px,#0027ff 0 198.93px,#0015ff 0 204.17px,#002aff 0 205.91px,#001cff 0 207.66px,#0024ff 0 209.40px,#001dff 0 211.15px,#0021ff 0 212.89px,#0011ff 0 214.64px,#000dff 0 216.38px,#0035ff 0 218.12px,#001aff 0 219.87px,#000fff 0 221.62px,#0025ff 0 223.36px,#002bff 0 225.11px,#0010ff 0 226.85px,#0022ff 0 228.60px,#0017ff 0 230.34px,#001eff 0 232.09px,#0009ff 0 235.58px,#0031ff 0 237.32px,#002cff 0 239.07px,#001bff 0 240.81px,#001fff 0 242.56px,#0011ff 0 244.30px,#0027ff 0 246.05px,#0018ff 0 247.79px,#002eff 0 249.54px,#0026ff 0 251.28px,#0028ff 0 253.03px,#002dff 0 254.77px,#000fff 0 256.52px,#0006ff 0 258.26px,#000cff 0 260.00px,#000bff 0 261.75px,#0007ff 0 263.50px,#0005ff 0 265.24px,#001aff 0 266.99px,#0027ff 0 268.73px,#0015ff 0 270.48px,#002aff 0 272.22px,#0028ff 0 273.97px,#0004ff 0 275.71px,#001aff 0 277.46px,#0011ff 0 279.20px,#0005ff 0 280.94px,#0029ff 0 282.69px,#000bff 0 284.44px,#0017ff 0 286.18px,#001aff 0 287.93px,#0027ff 0 289.67px,#001bff 0 291.42px,#000fff 0 293.16px,#0011ff 0 294.91px,#0004ff 0 296.65px,#0026ff 0 298.40px,#0027ff 0 300.14px,#0006ff 0 301.88px,#0000fd 0 303.63px,#0007ff 0 305.38px,#000bff 0 307.12px,#0022ff 0 310.61px,#001fff 0 312.36px,#0000fc 0 314.10px,#001cff 0 315.85px,#0018ff 0 317.59px,#0015ff 0 319.34px,#0024ff 0 321.08px,#0000fb 0 322.83px,#0000fe 0 324.57px,#0019ff 0 326.31px,#0020ff 0 328.06px,#0015ff 0 329.81px,#0005ff 0 331.55px,#0011ff 0 333.30px,#0018ff 0 335.04px,#0000fb 0 336.79px,#0005ff 0 338.53px,#0001ff 0 340.28px,#0000fb 0 342.02px,#000aff 0 343.77px,#0000fc 0 345.51px,#0000ff 0 347.25px,#0000fa 0 349.00px)"></div>
<div class="r" style="top:118px;background:linear-gradient(90deg,#800000 0 26.18px,#ff6700 0 27.92px,#ff9600 0 29.67px,#ffb900 0 31.41px,#ff6700 0 33.16px,#ffbc00 0 34.90px,#a8ff57 0 36.65px,#3cffc3 0 38.39px,#3fffc0 0 40.14px,#13ffec 0 41.88px,#87ff78 0 43.62px,#5cffa3 0 45.37px,#00feff 0 47.12px,#81ff7e 0 48.86px,#00feff 0 50.61px,#11ffee 0 52.35px,#00d6ff 0 54.10px,#00e6ff 0 55.84px,#50ffaf 0 57.59px,#00e5ff 0 59.33px,#00bdff 0 61.08px,#00f6ff 0 62.82px,#00cdff 0 64.56px,#39ffc6 0 66.31px,#0097ff 0 68.06px,#3affc5 0 69.80px,#0082ff 0 71.55px,#25ffda 0 73.29px,#00f5ff 0 75.04px,#0098ff 0 76.78px,#00caff 0 78.53px,#00a2ff 0 80.27px,#009aff 0 82.02px,#008cff 0 83.76px,#00aaff 0 85.51px,#23ffdc 0 87.25px,#21ffde 0 89.00px,#11ffee 0 90.74px,#006bff 0 92.48px,#008eff 0 94.23px,#03fffc 0 95.98px,#005bff 0 97.72px,#00dcff 0 99.47px,#0084ff 0 101.21px,#09fff6 0 102.96px,#0049ff 0 104.70px,#00e1ff 0 106.45px,#0083ff 0 108.19px,#0059ff 0 109.94px,#003cff 0 111.68px,#00dcff 0 113.43px,#009dff 0 115.17px,#0058ff 0 116.92px,#0086ff 0 118.66px,#00e1ff 0 120.41px,#0057ff 0 122.15px,#0099ff 0 123.90px,#0042ff 0 125.64px,#004aff 0 127.39px,#00bcff 0 129.13px,#00b0ff 0 130.88px,#004aff 0 132.62px,#0032ff 0 136.11px,#0097ff 0 137.86px,#0080ff 0 139.60px,#0054ff 0 141.34px,#0073ff 0 143.09px,#0083ff 0 144.84px,#0086ff 0 146.58px,#0089ff 0 148.33px,#007fff 0 150.07px,#006dff 0 151.81px,#0067ff 0 153.56px,#0082ff 0 155.31px,#0073ff 0 157.05px,#007fff 0 158.80px,#0062ff 0 160.54px,#0081ff 0 162.28px,#006cff 0 164.03px,#0080ff 0 167.52px,#0070ff 0 169.27px,#005aff 0 171.01px,#007fff 0 172.76px,#006cff 0 174.50px,#007cff 0 176.25px,#0061ff 0 177.99px,#005cff 0 179.74px,#0077ff 0 181.48px,#0062ff 0 183.23px,#0058ff 0 184.97px,#0060ff 0 186.72px,#0069ff 0 188.46px,#004fff 0 190.21px,#0063ff 0 191.95px,#005fff 0 193.70px,#0061ff 0 195.44px,#004fff 0 197.19px,#0068ff 0 198.93px,#006bff 0 200.68px,#006cff 0 202.42px,#0054ff 0 204.17px,#0063ff 0 205.91px,#0054ff 0 207.66px,#0063ff 0 209.40px,#0045ff 0 211.15px,#0066ff 0 212.89px,#0069ff 0 214.64px,#0054ff 0 219.87px,#0053ff 0 221.62px,#003cff 0 223.36px,#0063ff 0 225.11px,#0043ff 0 226.85px,#0040ff 0 228.60px,#003cff 0 230.34px,#0041ff 0 232.09px,#0059ff 0 233.83px,#0037ff 0 235.58px,#003aff 0 237.32px,#0053ff 0 239.07px,#003dff 0 240.81px,#0035ff 0 242.56px,#004eff 0 244.30px,#004cff 0 246.05px,#004aff 0 247.79px,#0051ff 0 249.54px,#0037ff 0 251.28px,#0057ff 0 253.03px,#0050ff 0 254.77px,#0034ff 0 256.52px,#0036ff 0 258.26px,#0046ff 0 261.75px,#003cff 0 263.50px,#0035ff 0 265.24px,#0041ff 0 266.99px,#0035ff 0 268.73px,#0048ff 0 270.48px,#0053ff 0 272.22px,#0034ff 0 273.97px,#0046ff 0 275.71px,#004dff 0 277.46px,#0034ff 0 279.20px,#004fff 0 280.94px,#0054ff 0 282.69px,#003cff 0 284.44px,#003dff 0 286.18px,#004fff 0 287.93px,#0041ff 0 289.67px,#003bff 0 291.42px,#0052ff 0 293.16px,#004aff 0 294.91px,#0037ff 0 296.65px,#0033ff 0 298.40px,#0037ff 0 300.14px,#003aff 0 301.88px,#0051ff 0 303.63px,#0049ff 0 305.38px,#004eff 0 307.12px,#0049ff 0 308.87px,#004aff 0 310.61px,#0028ff 0 312.36px,#003bff 0 314.10px,#004eff 0 315.85px,#004cff 0 317.59px,#002fff 0 319.34px,#0036ff 0 321.08px,#003eff 0 322.83px,#0033ff 0 324.57px,#0039ff 0 326.31px,#0025ff 0 328.06px,#0034ff 0 329.81px,#0037ff 0 331.55px,#0022ff 0 333.30px,#0027ff 0 335.04px,#004aff 0 336.79px,#0041ff 0 338.53px,#0048ff 0 340.28px,#003aff 0 342.02px,#0041ff 0 343.77px,#0044ff 0 347.25px,#001fff 0 349.00px)"></div>
<div class="r" style="top:124px;background:linear-gradient(90deg,#800000 0 3.49px,#d80000 0 5.24px,#ff2b00 0 6.98px,#f80000 0 8.73px,#b00000 0 10.47px,#ef0000 0 12.21px,#ff3b00 0 13.96px,#ff0900 0 15.71px,#ff6f00 0 17.45px,#ff5d00 0 19.20px,#fffd00 0 20.94px,#e6ff19 0 22.69px,#fff400 0 24.43px,#81ff7e 0 26.18px,#baff45 0 27.92px,#ddff22 0 29.67px,#63ff9c 0 31.41px,#0ffff0 0 33.16px,#13ffec 0 34.90px,#11ffee 0 36.65px,#00b6ff 0 38.39px,#00a3ff 0 40.14px,#0095ff 0 41.88px,#00a7ff 0 43.62px,#00aeff 0 45.37px,#0088ff 0 47.12px,#0071ff 0 48.86px,#0044ff 0 50.61px,#0091ff 0 52.35px,#00c2ff 0 54.10px,#007cff 0 55.84px,#0073ff 0 57.59px,#006eff 0 59.33px,#0053ff 0 61.08px,#0061ff 0 62.82px,#004fff 0 64.56px,#004aff 0 66.31px,#0045ff 0 68.06px,#0037ff 0 69.80px,#0030ff 0 71.55px,#002cff 0 73.29px,#002bff 0 75.04px,#0037ff 0 76.78px,#0031ff 0 78.53px,#003aff 0 80.27px,#0021ff 0 82.02px,#002fff 0 83.76px,#0044ff 0 85.51px,#002aff 0 87.25px,#0037ff 0 89.00px,#0034ff 0 90.74px,#002aff 0 92.48px,#0048ff 0 94.23px,#002aff 0 95.98px,#003eff 0 97.72px,#0024ff 0 99.47px,#001fff 0 101.21px,#0041ff 0 102.96px,#002fff 0 104.70px,#001eff 0 106.45px,#002cff 0 108.19px,#002eff 0 109.94px,#003aff 0 111.68px,#001fff 0 113.43px,#0023ff 0 115.17px,#0042ff 0 116.92px,#0038ff 0 118.66px,#001fff 0 120.41px,#0027ff 0 123.90px,#0034ff 0 125.64px,#0032ff 0 127.39px,#003bff 0 129.13px,#003aff 0 130.88px,#002cff 0 132.62px,#0035ff 0 137.86px,#0029ff 0 139.60px,#0036ff 0 141.34px,#0032ff 0 143.09px,#003bff 0 144.84px,#0019ff 0 146.58px,#0038ff 0 148.33px,#0013ff 0 150.07px,#0033ff 0 151.81px,#002bff 0 153.56px,#0027ff 0 155.31px,#003aff 0 157.05px,#0029ff 0 158.80px,#0022ff 0 160.54px,#0032ff 0 162.28px,#0035ff 0 164.03px,#0029ff 0 165.78px,#001fff 0 167.52px,#0022ff 0 171.01px,#002dff 0 172.76px,#001aff 0 174.50px,#001eff 0 176.25px,#0025ff 0 177.99px,#001dff 0 179.74px,#001aff 0 181.48px,#002eff 0 183.23px,#0030ff 0 184.97px,#0021ff 0 186.72px,#001eff 0 188.46px,#0013ff 0 190.21px,#0017ff 0 191.95px,#0010ff 0 193.70px,#0022ff 0 197.19px,#000dff 0 198.93px,#0030ff 0 200.68px,#0016ff 0 202.42px,#002cff 0 204.17px,#002bff 0 205.91px,#0030ff 0 207.66px,#0010ff 0 209.40px,#0019ff 0 211.15px,#002dff 0 212.89px,#0006ff 0 214.64px,#0008ff 0 216.38px,#001dff 0 218.12px,#001aff 0 219.87px,#002cff 0 221.62px,#0025ff 0 223.36px,#001bff 0 225.11px,#002eff 0 226.85px,#0019ff 0 230.34px,#001fff 0 232.09px,#0013ff 0 233.83px,#0011ff 0 235.58px,#001bff 0 237.32px,#0010ff 0 239.07px,#0029ff 0 240.81px,#001dff 0 242.56px,#0016ff 0 244.30px,#0004ff 0 246.05px,#000fff 0 247.79px,#0010ff 0 249.54px,#0016ff 0 251.28px,#0017ff 0 253.03px,#0023ff 0 254.77px,#0026ff 0 256.52px,#0012ff 0 258.26px,#000fff 0 260.00px,#0017ff 0 261.75px,#0026ff 0 263.50px,#000aff 0 265.24px,#0012ff 0 266.99px,#001eff 0 268.73px,#0002ff 0 270.48px,#0008ff 0 272.22px,#0024ff 0 273.97px,#001dff 0 275.71px,#000fff 0 277.46px,#0000fd 0 279.20px,#001fff 0 280.94px,#0016ff 0 282.69px,#001bff 0 284.44px,#0022ff 0 286.18px,#001dff 0 287.93px,#0009ff 0 289.67px,#0000fc 0 291.42px,#0002ff 0 293.16px,#000cff 0 294.91px,#000bff 0 296.65px,#0000fc 0 298.40px,#0000fb 0 300.14px,#000fff 0 301.88px,#000eff 0 303.63px,#0003ff 0 305.38px,#001eff 0 307.12px,#000eff 0 308.87px,#0000f3 0 310.61px,#0004ff 0 312.36px,#0013ff 0 314.10px,#0000fe 0 315.85px,#000fff 0 317.59px,#0000f0 0 319.34px,#0000fc 0 321.08px,#0014ff 0 322.83px,#0009ff 0 324.57px,#000cff 0 326.31px,#0000f6 0 328.06px,#0004ff 0 329.81px,#0006ff 0 331.55px,#0000f8 0 333.30px,#0009ff 0 335.04px,#0004ff 0 336.79px,#0017ff 0 338.53px,#0005ff 0 340.28px,#0000fd 0 342.02px,#0000f0 0 343.77px,#0000f1 0 345.51px,#000cff 0 347.25px,#0000ee 0 349.00px)"></div>
<div class="r" style="top:130px;background:linear-gradient(90deg,#800000 0 3.49px,#d70000 0 5.24px,#9c0000 0 6.98px,#c50000 0 8.73px,#9f0000 0 10.47px,#ff3200 0 12.21px,#ff3c00 0 13.96px,#a60000 0 15.71px,#b5ff4a 0 17.45px,#0bfff4 0 19.20px,#00bcff 0 20.94px,#0091ff 0 22.69px,#009cff 0 24.43px,#0074ff 0 26.18px,#0bfff4 0 27.92px,#00c4ff 0 29.67px,#008fff 0 31.41px,#009bff 0 33.16px,#0088ff 0 34.90px,#003aff 0 36.65px,#00d1ff 0 38.39px,#007cff 0 40.14px,#007fff 0 41.88px,#005dff 0 43.62px,#0058ff 0 45.37px,#003bff 0 47.12px,#0026ff 0 48.86px,#003fff 0 50.61px,#0032ff 0 52.35px,#0019ff 0 54.10px,#0030ff 0 55.84px,#002bff 0 57.59px,#0013ff 0 59.33px,#001eff 0 61.08px,#002bff 0 62.82px,#0015ff 0 64.56px,#0026ff 0 66.31px,#0006ff 0 68.06px,#000bff 0 69.80px,#0018ff 0 71.55px,#0003ff 0 73.29px,#0007ff 0 75.04px,#001eff 0 76.78px,#000eff 0 78.53px,#001aff 0 80.27px,#0003ff 0 82.02px,#0000ff 0 83.76px,#0007ff 0 85.51px,#0000ff 0 87.25px,#0021ff 0 89.00px,#0004ff 0 90.74px,#000fff 0 92.48px,#0000fb 0 94.23px,#000dff 0 95.98px,#0007ff 0 99.47px,#0000f8 0 101.21px,#0000fa 0 102.96px,#0019ff 0 104.70px,#0004ff 0 106.45px,#0000ff 0 108.19px,#0000fc 0 109.94px,#0001ff 0 111.68px,#0000fe 0 113.43px,#0000f5 0 115.17px,#0010ff 0 116.92px,#0002ff 0 118.66px,#0000f9 0 120.41px,#0011ff 0 122.15px,#0000f6 0 123.90px,#0000fd 0 125.64px,#0016ff 0 127.39px,#0000f7 0 129.13px,#0005ff 0 130.88px,#0016ff 0 132.62px,#0014ff 0 134.37px,#0000f7 0 136.11px,#0000ff 0 137.86px,#0010ff 0 139.60px,#0001ff 0 141.34px,#0019ff 0 143.09px,#0000f8 0 144.84px,#0019ff 0 146.58px,#0006ff 0 148.33px,#0000f9 0 150.07px,#0003ff 0 151.81px,#0000f4 0 153.56px,#000dff 0 155.31px,#0000f9 0 157.05px,#0015ff 0 158.80px,#0007ff 0 160.54px,#0000fd 0 162.28px,#0000f8 0 164.03px,#0008ff 0 165.78px,#0000f6 0 167.52px,#0012ff 0 169.27px,#0000f1 0 171.01px,#0003ff 0 172.76px,#0004ff 0 174.50px,#0000f7 0 176.25px,#000dff 0 177.99px,#0000fb 0 179.74px,#0008ff 0 181.48px,#0004ff 0 183.23px,#0000f8 0 184.97px,#0000fb 0 186.72px,#0000ee 0 188.46px,#0000f1 0 190.21px,#000fff 0 191.95px,#0000f7 0 193.70px,#0006ff 0 195.44px,#0000ed 0 197.19px,#0001ff 0 198.93px,#0000f8 0 200.68px,#0000fd 0 202.42px,#0000f5 0 204.17px,#0000eb 0 205.91px,#0000f5 0 207.66px,#0000f1 0 209.40px,#0000ec 0 211.15px,#0006ff 0 212.89px,#0000f3 0 214.64px,#0000f8 0 216.38px,#000eff 0 218.12px,#0008ff 0 219.87px,#000cff 0 221.62px,#000bff 0 223.36px,#0000eb 0 225.11px,#0000f1 0 226.85px,#0000e6 0 228.60px,#0002ff 0 232.09px,#0000f3 0 233.83px,#0000f5 0 235.58px,#0001ff 0 237.32px,#0002ff 0 239.07px,#0000ee 0 240.81px,#0008ff 0 242.56px,#0000f2 0 244.30px,#0000fd 0 246.05px,#0000ea 0 247.79px,#0000e7 0 249.54px,#000aff 0 251.28px,#0002ff 0 253.03px,#0001ff 0 254.77px,#0000e3 0 258.26px,#0000e8 0 260.00px,#0000e9 0 261.75px,#0000ed 0 263.50px,#0000f0 0 265.24px,#0000e2 0 266.99px,#0000ed 0 268.73px,#0000fb 0 270.48px,#0000e7 0 272.22px,#0004ff 0 273.97px,#0000f7 0 275.71px,#0000fd 0 277.46px,#0000e9 0 279.20px,#0000f1 0 280.94px,#0000fb 0 282.69px,#0000ed 0 284.44px,#0000de 0 286.18px,#0002ff 0 287.93px,#0000fe 0 289.67px,#0000e9 0 291.42px,#0000de 0 293.16px,#0002ff 0 294.91px,#0000f6 0 296.65px,#0000de 0 298.40px,#0000e6 0 300.14px,#0000e0 0 301.88px,#0000fd 0 303.63px,#0000e4 0 305.38px,#0003ff 0 307.12px,#0000fa 0 308.87px,#0000de 0 310.61px,#0000f8 0 312.36px,#0000eb 0 314.10px,#0000f9 0 315.85px,#0000fd 0 317.59px,#0000e5 0 319.34px,#0000dd 0 321.08px,#0002ff 0 322.83px,#0000eb 0 324.57px,#0001ff 0 326.31px,#0000f6 0 328.06px,#0000f7 0 329.81px,#0000fb 0 331.55px,#0000f2 0 333.30px,#0000ea 0 335.04px,#0000d9 0 336.79px,#0000f4 0 338.53px,#0000e9 0 340.28px,#0000ec 0 342.02px,#0000fe 0 343.77px,#0000db 0 345.51px,#0000f6 0 347.25px,#0000d7 0 349.00px)"></div>
<div class="r" style="top:148px;background:linear-gradient(90deg,#800000 0 3.49px,#ff3a00 0 5.24px,#800000 0 8.73px,#cd0000 0 10.47px,#ff2300 0 12.21px,#ff5200 0 13.96px,#ff7600 0 15.71px,#68ff97 0 17.45px,#4fffb0 0 19.20px,#28ffd7 0 20.94px,#27ffd8 0 22.69px,#0afff5 0 24.43px,#36ffc9 0 26.18px,#26ffd9 0 27.92px,#00efff 0 29.67px,#00e4ff 0 31.41px,#00f3ff 0 33.16px,#00e0ff 0 34.90px,#03fffc 0 36.65px,#00bcff 0 38.39px,#00a9ff 0 40.14px,#00d5ff 0 41.88px,#007eff 0 43.62px,#009aff 0 45.37px,#0076ff 0 47.12px,#0086ff 0 48.86px,#006dff 0 50.61px,#006bff 0 52.35px,#004dff 0 54.10px,#005dff 0 55.84px,#0055ff 0 57.59px,#004aff 0 59.33px,#0052ff 0 61.08px,#0050ff 0 62.82px,#002dff 0 64.56px,#002fff 0 66.31px,#002dff 0 68.06px,#0022ff 0 69.80px,#001bff 0 71.55px,#0024ff 0 73.29px,#0020ff 0 75.04px,#0036ff 0 76.78px,#002bff 0 78.53px,#001cff 0 80.27px,#0025ff 0 82.02px,#002bff 0 83.76px,#0026ff 0 85.51px,#001eff 0 87.25px,#001aff 0 89.00px,#0017ff 0 90.74px,#0040ff 0 92.48px,#0036ff 0 94.23px,#0019ff 0 95.98px,#0034ff 0 97.72px,#003fff 0 99.47px,#002dff 0 101.21px,#001aff 0 102.96px,#002aff 0 104.70px,#0027ff 0 106.45px,#001dff 0 108.19px,#002bff 0 109.94px,#0014ff 0 111.68px,#003bff 0 113.43px,#002fff 0 115.17px,#002eff 0 116.92px,#003bff 0 118.66px,#002fff 0 120.41px,#001eff 0 122.15px,#001dff 0 123.90px,#0018ff 0 125.64px,#0014ff 0 127.39px,#0033ff 0 129.13px,#0036ff 0 130.88px,#001eff 0 132.62px,#001aff 0 134.37px,#002dff 0 136.11px,#0035ff 0 137.86px,#0038ff 0 139.60px,#0018ff 0 141.34px,#0032ff 0 143.09px,#0034ff 0 144.84px,#0030ff 0 146.58px,#001eff 0 148.33px,#0018ff 0 150.07px,#0033ff 0 151.81px,#001dff 0 153.56px,#001fff 0 155.31px,#0027ff 0 157.05px,#001fff 0 158.80px,#0032ff 0 160.54px,#0019ff 0 162.28px,#0010ff 0 164.03px,#0026ff 0 165.78px,#0029ff 0 167.52px,#0031ff 0 169.27px,#002cff 0 171.01px,#0034ff 0 172.76px,#0035ff 0 174.50px,#0022ff 0 177.99px,#0013ff 0 179.74px,#0019ff 0 181.48px,#0025ff 0 183.23px,#0010ff 0 184.97px,#0029ff 0 186.72px,#0013ff 0 188.46px,#001eff 0 190.21px,#0034ff 0 191.95px,#000fff 0 193.70px,#000dff 0 195.44px,#001dff 0 197.19px,#0013ff 0 198.93px,#0029ff 0 200.68px,#000aff 0 202.42px,#002eff 0 205.91px,#002bff 0 207.66px,#001bff 0 209.40px,#0015ff 0 211.15px,#0025ff 0 212.89px,#001fff 0 214.64px,#001bff 0 216.38px,#0017ff 0 218.12px,#001bff 0 219.87px,#0024ff 0 221.62px,#002bff 0 223.36px,#002eff 0 225.11px,#000fff 0 226.85px,#0014ff 0 228.60px,#001aff 0 230.34px,#001fff 0 232.09px,#0016ff 0 233.83px,#000fff 0 235.58px,#000aff 0 237.32px,#0014ff 0 239.07px,#001aff 0 240.81px,#002fff 0 242.56px,#002cff 0 244.30px,#002aff 0 246.05px,#002fff 0 247.79px,#002eff 0 249.54px,#001fff 0 251.28px,#0027ff 0 253.03px,#0007ff 0 254.77px,#0021ff 0 256.52px,#001eff 0 258.26px,#0011ff 0 260.00px,#001cff 0 261.75px,#002cff 0 263.50px,#0018ff 0 265.24px,#001fff 0 266.99px,#0010ff 0 268.73px,#0011ff 0 270.48px,#0028ff 0 272.22px,#0004ff 0 273.97px,#000aff 0 275.71px,#001fff 0 277.46px,#0015ff 0 279.20px,#0005ff 0 280.94px,#001dff 0 282.69px,#0011ff 0 284.44px,#001aff 0 286.18px,#0013ff 0 287.93px,#0017ff 0 289.67px,#0018ff 0 291.42px,#0011ff 0 293.16px,#0005ff 0 294.91px,#0008ff 0 296.65px,#0025ff 0 298.40px,#0017ff 0 300.14px,#0004ff 0 301.88px,#0024ff 0 303.63px,#000aff 0 305.38px,#0003ff 0 307.12px,#0015ff 0 308.87px,#0009ff 0 310.61px,#0013ff 0 312.36px,#0016ff 0 314.10px,#0007ff 0 315.85px,#0016ff 0 317.59px,#0002ff 0 319.34px,#0013ff 0 321.08px,#0016ff 0 322.83px,#0000ff 0 324.57px,#000eff 0 326.31px,#0000ff 0 328.06px,#000fff 0 329.81px,#0021ff 0 331.55px,#0013ff 0 333.30px,#001aff 0 335.04px,#001cff 0 336.79px,#0000ff 0 338.53px,#0025ff 0 340.28px,#001aff 0 342.02px,#0000fe 0 343.77px,#001eff 0 345.51px,#000bff 0 347.25px,#0001ff 0 349.00px)"></div>
<div class="r" style="top:160px;background:linear-gradient(90deg,#0000a1 0 1.75px,#00009a 0 3.49px,#00009d 0 5.24px,#000093 0 6.98px,#00009e 0 8.73px,#000092 0 10.47px,#000095 0 12.21px,#000097 0 13.96px,#000091 0 15.71px,#00009b 0 17.45px,#000094 0 19.20px,#000096 0 20.94px,#00009c 0 22.69px,#000098 0 24.43px,#00009f 0 26.18px,#00009b 0 27.92px,#00009f 0 29.67px,#00009a 0 31.41px,#0000a0 0 33.16px,#00009f 0 34.90px,#000094 0 36.65px,#00009d 0 38.39px,#000096 0 40.14px,#00009d 0 41.88px,#00009c 0 43.62px,#00009e 0 45.37px,#000093 0 47.12px,#000097 0 48.86px,#00009d 0 50.61px,#0000a0 0 52.35px,#00009d 0 54.10px,#000092 0 55.84px,#00009b 0 57.59px,#000092 0 59.33px,#00009a 0 61.08px,#00009e 0 62.82px,#000093 0 64.56px,#0000a0 0 66.31px,#00009c 0 68.06px,#000095 0 69.80px,#000094 0 71.55px,#000098 0 73.29px,#00009f 0 75.04px,#00009a 0 76.78px,#000093 0 78.53px,#000091 0 80.27px,#000093 0 82.02px,#00009e 0 83.76px,#000094 0 85.51px,#00009a 0 87.25px,#000096 0 89.00px,#00009c 0 90.74px,#000097 0 92.48px,#000093 0 94.23px,#00009f 0 95.98px,#00009a 0 97.72px,#00009c 0 99.47px,#00009e 0 101.21px,#0000a0 0 102.96px,#000091 0 104.70px,#000096 0 106.45px,#000093 0 108.19px,#000099 0 109.94px,#00009f 0 111.68px,#00009e 0 113.43px,#000091 0 115.17px,#000094 0 116.92px,#00009e 0 118.66px,#00009c 0 120.41px,#000097 0 122.15px,#000099 0 123.90px,#000093 0 125.64px,#00009f 0 127.39px,#000097 0 129.13px,#00009f 0 130.88px,#00009b 0 132.62px,#000092 0 134.37px,#000096 0 136.11px,#000094 0 137.86px,#00009f 0 139.60px,#00009a 0 141.34px,#000092 0 143.09px,#000094 0 144.84px,#000097 0 146.58px,#000098 0 148.33px,#00009a 0 150.07px,#000097 0 153.56px,#000091 0 155.31px,#00009a 0 157.05px,#000096 0 158.80px,#000091 0 160.54px,#000098 0 162.28px,#0000a1 0 164.03px,#000092 0 165.78px,#000093 0 167.52px,#00009c 0 169.27px,#000095 0 172.76px,#000099 0 174.50px,#000095 0 176.25px,#00009a 0 177.99px,#000099 0 179.74px,#0000a0 0 181.48px,#0000a1 0 183.23px,#000091 0 184.97px,#00009a 0 186.72px,#00009d 0 188.46px,#00009f 0 190.21px,#00009d 0 191.95px,#00009b 0 195.44px,#000097 0 197.19px,#000095 0 198.93px,#00009e 0 200.68px,#00009f 0 202.42px,#0000a0 0 204.17px,#00009c 0 205.91px,#000096 0 207.66px,#00009d 0 211.15px,#000099 0 212.89px,#00009b 0 214.64px,#000097 0 216.38px,#00009a 0 218.12px,#000097 0 219.87px,#000092 0 221.62px,#000096 0 225.11px,#0000a1 0 226.85px,#000099 0 228.60px,#000097 0 230.34px,#000095 0 233.83px,#000097 0 235.58px,#000093 0 237.32px,#000091 0 239.07px,#00009f 0 240.81px,#000098 0 244.30px,#00009a 0 246.05px,#000096 0 247.79px,#000094 0 249.54px,#000092 0 251.28px,#000096 0 254.77px,#00009d 0 256.52px,#00009a 0 258.26px,#0000a0 0 260.00px,#000096 0 261.75px,#0000a0 0 263.50px,#00009a 0 265.24px,#000092 0 266.99px,#000094 0 268.73px,#00009a 0 270.48px,#0000a1 0 272.22px,#000097 0 273.97px,#00009d 0 275.71px,#000098 0 277.46px,#00009f 0 279.20px,#000092 0 280.94px,#000099 0 282.69px,#0000a0 0 284.44px,#000095 0 287.93px,#000091 0 289.67px,#000094 0 291.42px,#000095 0 293.16px,#00009c 0 294.91px,#000094 0 296.65px,#000097 0 298.40px,#000094 0 300.14px,#00009b 0 301.88px,#00009f 0 303.63px,#00009b 0 305.38px,#000094 0 307.12px,#00009d 0 308.87px,#0000a1 0 310.61px,#00009b 0 312.36px,#000092 0 314.10px,#00009e 0 315.85px,#00009f 0 317.59px,#000096 0 319.34px,#000093 0 321.08px,#000094 0 322.83px,#00009a 0 324.57px,#00009f 0 326.31px,#00009b 0 328.06px,#0000a0 0 329.81px,#000094 0 331.55px,#000096 0 333.30px,#00009d 0 335.04px,#00009b 0 336.79px,#000097 0 338.53px,#00009c 0 340.28px,#000096 0 342.02px,#000092 0 343.77px,#000098 0 345.51px,#000092 0 347.25px,#00009b 0 349.00px)"></div>
<div class="r" style="top:208px;background:linear-gradient(90deg,#800000 0 6.98px,#f20000 0 8.73px,#ff7f00 0 10.47px,#ffc400 0 12.21px,#d1ff2e 0 13.96px,#9eff61 0 15.71px,#19ffe6 0 17.45px,#17ffe8 0 19.20px,#12ffed 0 20.94px,#00f4ff 0 22.69px,#00deff 0 24.43px,#00d6ff 0 26.18px,#00cbff 0 27.92px,#00dfff 0 29.67px,#00b4ff 0 31.41px,#00ceff 0 33.16px,#00b1ff 0 34.90px,#00adff 0 36.65px,#00a6ff 0 38.39px,#009aff 0 40.14px,#0095ff 0 41.88px,#0089ff 0 43.62px,#0073ff 0 45.37px,#007bff 0 47.12px,#005cff 0 48.86px,#006aff 0 50.61px,#006bff 0 52.35px,#006cff 0 54.10px,#0057ff 0 55.84px,#006bff 0 57.59px,#0073ff 0 59.33px,#005cff 0 61.08px,#0054ff 0 62.82px,#005eff 0 64.56px,#0070ff 0 66.31px,#004dff 0 68.06px,#0047ff 0 69.80px,#005bff 0 71.55px,#0062ff 0 73.29px,#0067ff 0 75.04px,#0055ff 0 76.78px,#006fff 0 78.53px,#004eff 0 80.27px,#0064ff 0 82.02px,#0047ff 0 83.76px,#0044ff 0 85.51px,#0048ff 0 87.25px,#0045ff 0 89.00px,#0057ff 0 90.74px,#0059ff 0 92.48px,#0049ff 0 94.23px,#0069ff 0 95.98px,#0050ff 0 97.72px,#0046ff 0 99.47px,#0047ff 0 101.21px,#005eff 0 102.96px,#0066ff 0 104.70px,#0045ff 0 106.45px,#003fff 0 108.19px,#005eff 0 109.94px,#0047ff 0 111.68px,#0066ff 0 113.43px,#0051ff 0 115.17px,#0057ff 0 116.92px,#004aff 0 118.66px,#005dff 0 120.41px,#004eff 0 122.15px,#0048ff 0 123.90px,#0060ff 0 125.64px,#003eff 0 127.39px,#0058ff 0 129.13px,#003bff 0 130.88px,#0053ff 0 132.62px,#0049ff 0 134.37px,#005cff 0 136.11px,#0039ff 0 137.86px,#004eff 0 139.60px,#0047ff 0 141.34px,#005cff 0 143.09px,#005dff 0 144.84px,#004fff 0 146.58px,#003eff 0 148.33px,#003fff 0 151.81px,#0045ff 0 153.56px,#003cff 0 155.31px,#003bff 0 157.05px,#0052ff 0 158.80px,#004dff 0 160.54px,#003eff 0 162.28px,#005bff 0 164.03px,#0039ff 0 165.78px,#0048ff 0 167.52px,#0036ff 0 169.27px,#0053ff 0 172.76px,#0039ff 0 174.50px,#004dff 0 176.25px,#0050ff 0 177.99px,#0039ff 0 179.74px,#003aff 0 181.48px,#0041ff 0 183.23px,#0051ff 0 184.97px,#0032ff 0 186.72px,#0048ff 0 188.46px,#0044ff 0 190.21px,#003dff 0 191.95px,#0042ff 0 193.70px,#004fff 0 195.44px,#0032ff 0 197.19px,#004eff 0 198.93px,#0037ff 0 200.68px,#0048ff 0 202.42px,#004cff 0 204.17px,#002eff 0 205.91px,#004bff 0 207.66px,#0050ff 0 209.40px,#0032ff 0 211.15px,#0026ff 0 212.89px,#0029ff 0 214.64px,#004dff 0 216.38px,#0024ff 0 218.12px,#004aff 0 219.87px,#0029ff 0 221.62px,#0042ff 0 223.36px,#0026ff 0 225.11px,#0029ff 0 226.85px,#003eff 0 228.60px,#0025ff 0 230.34px,#002fff 0 232.09px,#0047ff 0 233.83px,#003eff 0 235.58px,#0044ff 0 237.32px,#0048ff 0 239.07px,#0020ff 0 240.81px,#0028ff 0 242.56px,#003fff 0 244.30px,#003aff 0 246.05px,#001eff 0 247.79px,#0032ff 0 249.54px,#0026ff 0 251.28px,#002eff 0 253.03px,#001fff 0 254.77px,#001bff 0 256.52px,#0044ff 0 258.26px,#0027ff 0 260.00px,#003fff 0 261.75px,#001eff 0 263.50px,#002dff 0 265.24px,#001eff 0 266.99px,#002aff 0 268.73px,#001fff 0 270.48px,#0034ff 0 272.22px,#001dff 0 273.97px,#0035ff 0 275.71px,#002bff 0 277.46px,#001aff 0 279.20px,#0024ff 0 280.94px,#0029ff 0 282.69px,#003bff 0 284.44px,#0022ff 0 286.18px,#001cff 0 287.93px,#003cff 0 289.67px,#0038ff 0 291.42px,#0031ff 0 293.16px,#001dff 0 294.91px,#0018ff 0 296.65px,#001cff 0 298.40px,#0013ff 0 300.14px,#0012ff 0 301.88px,#0025ff 0 303.63px,#0020ff 0 305.38px,#0026ff 0 307.12px,#001dff 0 308.87px,#000eff 0 310.61px,#002aff 0 312.36px,#0029ff 0 314.10px,#0023ff 0 317.59px,#0029ff 0 319.34px,#0035ff 0 321.08px,#0030ff 0 322.83px,#0029ff 0 324.57px,#001bff 0 326.31px,#0017ff 0 328.06px,#001bff 0 329.81px,#0032ff 0 331.55px,#0019ff 0 333.30px,#0018ff 0 335.04px,#0019ff 0 336.79px,#000dff 0 338.53px,#0031ff 0 340.28px,#0006ff 0 342.02px,#0020ff 0 343.77px,#002dff 0 345.51px,#0010ff 0 347.25px,#001eff 0 349.00px)"></div>
<div class="r" style="top:280px;background:linear-gradient(90deg,#ff1e00 0 1.75px,#00d4ff 0 3.49px,#00b9ff 0 5.24px,#009dff 0 6.98px,#009bff 0 8.73px,#007dff 0 10.47px,#0060ff 0 12.21px,#0023ff 0 13.96px,#0017ff 0 15.71px,#0000f3 0 17.45px,#0000f9 0 19.20px,#0000f1 0 20.94px,#0000e6 0 22.69px,#0000f7 0 24.43px,#0000d3 0 26.18px,#0000e7 0 27.92px,#0000e6 0 29.67px,#0000d6 0 31.41px,#0000d5 0 33.16px,#0000dd 0 34.90px,#0000c0 0 36.65px,#0000c9 0 38.39px,#0000c8 0 40.14px,#0000b8 0 41.88px,#0000bf 0 43.62px,#0000b0 0 47.12px,#0000ae 0 50.61px,#0000a2 0 52.35px,#0000ac 0 54.10px,#0000aa 0 55.84px,#00009f 0 57.59px,#0000ac 0 59.33px,#0000a0 0 61.08px,#0000b5 0 62.82px,#0000a7 0 64.56px,#0000af 0 66.31px,#0000a8 0 68.06px,#0000a7 0 69.80px,#00009e 0 71.55px,#00009c 0 73.29px,#0000b5 0 75.04px,#0000a8 0 80.27px,#0000b1 0 82.02px,#00009f 0 83.76px,#00009c 0 85.51px,#0000b2 0 87.25px,#0000a6 0 89.00px,#0000ab 0 90.74px,#0000b2 0 92.48px,#0000b4 0 94.23px,#0000b3 0 95.98px,#000098 0 97.72px,#0000a3 0 99.47px,#0000b1 0 102.96px,#00009a 0 104.70px,#00009b 0 106.45px,#00009e 0 108.19px,#000099 0 109.94px,#0000a2 0 111.68px,#0000b0 0 113.43px,#0000a7 0 115.17px,#0000a4 0 116.92px,#000099 0 118.66px,#0000a2 0 120.41px,#0000b6 0 122.15px,#0000ac 0 123.90px,#0000a4 0 125.64px,#0000a5 0 127.39px,#0000af 0 129.13px,#0000ae 0 130.88px,#00009a 0 132.62px,#0000ab 0 134.37px,#0000a1 0 136.11px,#0000a6 0 137.86px,#00009d 0 139.60px,#0000a1 0 141.34px,#0000a0 0 143.09px,#0000a1 0 144.84px,#000095 0 146.58px,#00009b 0 148.33px,#0000a7 0 150.07px,#000096 0 151.81px,#00009a 0 153.56px,#0000ac 0 155.31px,#00009d 0 157.05px,#00009f 0 158.80px,#00009c 0 160.54px,#0000af 0 162.28px,#000097 0 164.03px,#0000a9 0 165.78px,#0000b0 0 167.52px,#00009b 0 169.27px,#0000a2 0 171.01px,#0000ae 0 172.76px,#0000a8 0 174.50px,#0000a0 0 176.25px,#000095 0 177.99px,#0000a2 0 179.74px,#00009f 0 181.48px,#0000ab 0 183.23px,#00009d 0 184.97px,#0000a1 0 186.72px,#0000a8 0 188.46px,#0000ae 0 190.21px,#00009f 0 191.95px,#0000a0 0 193.70px,#0000a6 0 195.44px,#0000b1 0 197.19px,#000099 0 198.93px,#0000b3 0 200.68px,#0000aa 0 202.42px,#00009f 0 204.17px,#0000a8 0 205.91px,#00009d 0 207.66px,#000095 0 209.40px,#0000ab 0 211.15px,#00009f 0 212.89px,#0000a4 0 214.64px,#0000a3 0 216.38px,#0000b0 0 218.12px,#0000ab 0 219.87px,#000093 0 221.62px,#0000a5 0 223.36px,#0000a1 0 226.85px,#0000ad 0 228.60px,#00009f 0 230.34px,#0000a1 0 232.09px,#0000af 0 233.83px,#0000a0 0 235.58px,#0000a2 0 239.07px,#0000ac 0 240.81px,#0000a7 0 242.56px,#0000aa 0 244.30px,#00009e 0 246.05px,#000093 0 247.79px,#0000a7 0 249.54px,#0000a3 0 251.28px,#0000aa 0 254.77px,#000095 0 256.52px,#000098 0 258.26px,#000093 0 260.00px,#0000ab 0 261.75px,#000094 0 265.24px,#0000a9 0 266.99px,#0000a3 0 268.73px,#000092 0 270.48px,#0000a7 0 272.22px,#0000a8 0 273.97px,#0000a0 0 275.71px,#000092 0 277.46px,#0000a7 0 279.20px,#00009e 0 280.94px,#0000a3 0 282.69px,#0000b1 0 284.44px,#0000ab 0 286.18px,#0000ac 0 287.93px,#000095 0 289.67px,#00009b 0 291.42px,#0000a1 0 293.16px,#000090 0 294.91px,#0000b0 0 296.65px,#000098 0 300.14px,#00009a 0 301.88px,#000098 0 303.63px,#0000ab 0 305.38px,#0000a1 0 307.12px,#0000a0 0 308.87px,#00009d 0 310.61px,#000091 0 312.36px,#000099 0 314.10px,#0000ab 0 315.85px,#0000a9 0 317.59px,#0000ab 0 319.34px,#000097 0 321.08px,#000095 0 322.83px,#000090 0 324.57px,#0000a0 0 326.31px,#00009b 0 328.06px,#00009e 0 331.55px,#0000a1 0 333.30px,#00009a 0 335.04px,#0000a8 0 336.79px,#000095 0 338.53px,#0000ac 0 340.28px,#0000a0 0 342.02px,#000090 0 343.77px,#000098 0 345.51px,#00009f 0 347.25px,#00009b 0 349.00px)"></div>
<div class="r" style="top:382px;background:linear-gradient(90deg,#00009a 0 1.75px,#000096 0 3.49px,#000095 0 5.24px,#00009e 0 6.98px,#000096 0 8.73px,#00009c 0 10.47px,#00009e 0 12.21px,#00009b 0 13.96px,#000098 0 15.71px,#0000a0 0 17.45px,#000098 0 19.20px,#00009f 0 20.94px,#000092 0 22.69px,#000098 0 24.43px,#00009b 0 26.18px,#000092 0 27.92px,#00009f 0 29.67px,#000092 0 31.41px,#00009b 0 33.16px,#000094 0 34.90px,#0000a0 0 36.65px,#00009a 0 38.39px,#00009e 0 40.14px,#000099 0 41.88px,#00009c 0 45.37px,#000096 0 47.12px,#000094 0 48.86px,#00009f 0 50.61px,#000093 0 52.35px,#0000a0 0 54.10px,#000094 0 55.84px,#000092 0 59.33px,#00009e 0 61.08px,#0000a0 0 62.82px,#000098 0 64.56px,#00009c 0 66.31px,#000095 0 68.06px,#0000a0 0 69.80px,#00009c 0 71.55px,#000093 0 73.29px,#000092 0 75.04px,#00009c 0 76.78px,#000092 0 78.53px,#00009e 0 80.27px,#000096 0 82.02px,#000095 0 83.76px,#00009a 0 85.51px,#000096 0 87.25px,#00009a 0 89.00px,#000093 0 90.74px,#0000a0 0 92.48px,#000096 0 94.23px,#00009f 0 95.98px,#000093 0 97.72px,#00009e 0 99.47px,#0000a1 0 101.21px,#000097 0 102.96px,#000091 0 104.70px,#000097 0 106.45px,#00009b 0 108.19px,#000094 0 109.94px,#00009a 0 111.68px,#000092 0 113.43px,#000098 0 115.17px,#00009d 0 116.92px,#000098 0 118.66px,#00009c 0 120.41px,#000093 0 122.15px,#00009e 0 123.90px,#000093 0 125.64px,#0000a0 0 127.39px,#0000a1 0 129.13px,#0000a0 0 130.88px,#000099 0 132.62px,#000096 0 134.37px,#000097 0 136.11px,#00009d 0 137.86px,#000099 0 139.60px,#0000a0 0 141.34px,#000092 0 143.09px,#000099 0 144.84px,#00009f 0 146.58px,#00009b 0 148.33px,#00009a 0 150.07px,#000092 0 151.81px,#000093 0 153.56px,#000095 0 155.31px,#00009f 0 158.80px,#000095 0 160.54px,#0000a0 0 162.28px,#000091 0 164.03px,#00009b 0 165.78px,#0000a1 0 167.52px,#000096 0 169.27px,#0000a0 0 171.01px,#00009c 0 172.76px,#000092 0 174.50px,#000096 0 176.25px,#000098 0 177.99px,#000095 0 179.74px,#00009d 0 181.48px,#000094 0 183.23px,#00009e 0 184.97px,#000096 0 186.72px,#000092 0 188.46px,#00009a 0 190.21px,#000092 0 191.95px,#00009a 0 193.70px,#00009e 0 195.44px,#00009b 0 197.19px,#000098 0 198.93px,#000091 0 200.68px,#000099 0 202.42px,#000092 0 204.17px,#00009b 0 205.91px,#000093 0 207.66px,#00009a 0 209.40px,#000097 0 212.89px,#00009c 0 214.64px,#000094 0 218.12px,#0000a0 0 219.87px,#000096 0 221.62px,#00009f 0 225.11px,#000099 0 226.85px,#000093 0 228.60px,#000092 0 230.34px,#00009f 0 232.09px,#000093 0 233.83px,#000099 0 235.58px,#00009a 0 237.32px,#000093 0 239.07px,#000098 0 240.81px,#000094 0 242.56px,#00009a 0 244.30px,#000099 0 246.05px,#000097 0 247.79px,#000094 0 249.54px,#000097 0 251.28px,#000094 0 253.03px,#000093 0 254.77px,#000095 0 256.52px,#00009f 0 258.26px,#000099 0 260.00px,#00009f 0 261.75px,#000091 0 263.50px,#0000a0 0 265.24px,#000099 0 266.99px,#00009e 0 268.73px,#00009a 0 270.48px,#00009c 0 272.22px,#000095 0 273.97px,#00009d 0 275.71px,#000093 0 277.46px,#000095 0 279.20px,#000091 0 280.94px,#000097 0 282.69px,#000099 0 284.44px,#000096 0 286.18px,#00009f 0 287.93px,#000092 0 289.67px,#00009a 0 291.42px,#000095 0 293.16px,#00009b 0 294.91px,#00009e 0 296.65px,#00009c 0 298.40px,#000092 0 300.14px,#000095 0 301.88px,#00009b 0 303.63px,#0000a1 0 305.38px,#000092 0 307.12px,#00009b 0 308.87px,#00009c 0 310.61px,#00009e 0 312.36px,#000096 0 314.10px,#00009e 0 315.85px,#000098 0 317.59px,#0000a0 0 319.34px,#000091 0 321.08px,#0000a0 0 322.83px,#000098 0 324.57px,#000097 0 326.31px,#000092 0 328.06px,#000095 0 329.81px,#00009d 0 331.55px,#00009c 0 333.30px,#000093 0 335.04px,#000096 0 336.79px,#000093 0 338.53px,#000094 0 342.02px,#000096 0 343.77px,#0000a1 0 347.25px,#00009e 0 349.00px)"></div>
<div class="r" style="top:406px;background:linear-gradient(90deg,#800000 0 26.18px,#860000 0 27.92px,#910000 0 29.67px,#ff0900 0 31.41px,#800000 0 34.90px,#c50000 0 36.65px,#ff0000 0 38.39px,#f10000 0 40.14px,#ff0600 0 41.88px,#ff4f00 0 43.62px,#ff8800 0 45.37px,#ff2000 0 47.12px,#ff3700 0 48.86px,#ff2900 0 50.61px,#ffdc00 0 52.35px,#ff2300 0 54.10px,#ffab00 0 55.84px,#ff3b00 0 57.59px,#c5ff3a 0 59.33px,#ff4900 0 61.08px,#ff8800 0 62.82px,#cfff30 0 64.56px,#ff8d00 0 66.31px,#b5ff4a 0 68.06px,#a2ff5d 0 69.80px,#e8ff17 0 71.55px,#a1ff5e 0 73.29px,#e6ff19 0 75.04px,#ffa400 0 76.78px,#ffec00 0 78.53px,#ffeb00 0 80.27px,#b0ff4f 0 82.02px,#ffe100 0 83.76px,#ffe500 0 85.51px,#f3ff0c 0 87.25px,#ffc500 0 89.00px,#ffed00 0 90.74px,#8fff70 0 92.48px,#2bffd4 0 94.23px,#cbff34 0 95.98px,#fbff04 0 97.72px,#63ff9c 0 99.47px,#a8ff57 0 101.21px,#e9ff16 0 102.96px,#d6ff29 0 104.70px,#00e5ff 0 106.45px,#6bff94 0 108.19px,#00d7ff 0 109.94px,#00e9ff 0 111.68px,#b0ff4f 0 113.43px,#33ffcc 0 115.17px,#61ff9e 0 116.92px,#2dffd2 0 118.66px,#00ffff 0 120.41px,#00d2ff 0 122.15px,#00f3ff 0 123.90px,#7eff81 0 125.64px,#39ffc6 0 127.39px,#00d6ff 0 129.13px,#0098ff 0 130.88px,#00ccff 0 132.62px,#49ffb6 0 134.37px,#00faff 0 136.11px,#39ffc6 0 137.86px,#62ff9d 0 139.60px,#0095ff 0 141.34px,#39ffc6 0 143.09px,#0079ff 0 144.84px,#5effa1 0 146.58px,#009fff 0 148.33px,#00b7ff 0 150.07px,#7fff80 0 151.81px,#00cdff 0 153.56px,#00a2ff 0 155.31px,#65ff9a 0 157.05px,#10ffef 0 158.80px,#62ff9d 0 160.54px,#00ccff 0 162.28px,#00e8ff 0 164.03px,#6dff92 0 165.78px,#00e6ff 0 167.52px,#73ff8c 0 169.27px,#0085ff 0 171.01px,#40ffbf 0 172.76px,#0079ff 0 174.50px,#00e2ff 0 176.25px,#0045ff 0 177.99px,#0076ff 0 179.74px,#57ffa8 0 181.48px,#00c4ff 0 183.23px,#2bffd4 0 184.97px,#0084ff 0 186.72px,#009fff 0 188.46px,#0053ff 0 190.21px,#00d6ff 0 191.95px,#30ffcf 0 193.70px,#00c6ff 0 195.44px,#009cff 0 197.19px,#3dffc2 0 198.93px,#30ffcf 0 200.68px,#00eaff 0 202.42px,#003bff 0 204.17px,#00daff 0 205.91px,#00a3ff 0 207.66px,#39ffc6 0 209.40px,#0086ff 0 211.15px,#00dcff 0 212.89px,#00d1ff 0 214.64px,#0084ff 0 216.38px,#00adff 0 218.12px,#00d8ff 0 219.87px,#1bffe4 0 221.62px,#009fff 0 223.36px,#0076ff 0 225.11px,#29ffd6 0 226.85px,#0017ff 0 228.60px,#00faff 0 230.34px,#00cbff 0 232.09px,#00a4ff 0 233.83px,#0082ff 0 235.58px,#00d9ff 0 237.32px,#01fffe 0 239.07px,#00ceff 0 240.81px,#00d2ff 0 242.56px,#0000fd 0 244.30px,#0051ff 0 246.05px,#0017ff 0 247.79px,#06fff9 0 249.54px,#008fff 0 251.28px,#006fff 0 253.03px,#0081ff 0 254.77px,#007fff 0 256.52px,#0068ff 0 258.26px,#0076ff 0 260.00px,#0084ff 0 261.75px,#007fff 0 263.50px,#006eff 0 265.24px,#0082ff 0 266.99px,#006dff 0 268.73px,#0077ff 0 270.48px,#0071ff 0 272.22px,#0088ff 0 273.97px,#0079ff 0 275.71px,#007eff 0 277.46px,#0078ff 0 279.20px,#006bff 0 280.94px,#0082ff 0 282.69px,#0077ff 0 284.44px,#0075ff 0 286.18px,#0063ff 0 287.93px,#005dff 0 289.67px,#006eff 0 291.42px,#0077ff 0 293.16px,#0075ff 0 294.91px,#0061ff 0 296.65px,#0057ff 0 298.40px,#0067ff 0 300.14px,#0075ff 0 301.88px,#0056ff 0 303.63px,#006dff 0 305.38px,#0054ff 0 307.12px,#0059ff 0 308.87px,#004eff 0 310.61px,#0057ff 0 312.36px,#005aff 0 314.10px,#0072ff 0 315.85px,#0071ff 0 317.59px,#004fff 0 319.34px,#0053ff 0 321.08px,#006dff 0 322.83px,#004dff 0 324.57px,#0051ff 0 326.31px,#0055ff 0 328.06px,#0046ff 0 329.81px,#004cff 0 331.55px,#0050ff 0 333.30px,#004fff 0 335.04px,#0067ff 0 336.79px,#0048ff 0 338.53px,#0045ff 0 340.28px,#0062ff 0 342.02px,#004eff 0 343.77px,#005dff 0 345.51px,#0054ff 0 347.25px,#0059ff 0 349.00px)"></div>
<div class="r" style="top:418px;background:linear-gradient(90deg,#000096 0 1.75px,#000093 0 3.49px,#00009d 0 5.24px,#000099 0 6.98px,#00009a 0 8.73px,#00009c 0 10.47px,#00009d 0 12.21px,#000095 0 13.96px,#000097 0 15.71px,#0000a0 0 17.45px,#000099 0 19.20px,#000096 0 20.94px,#00009b 0 22.69px,#000095 0 24.43px,#00009d 0 26.18px,#000092 0 27.92px,#00009e 0 29.67px,#00009a 0 31.41px,#000097 0 33.16px,#0000a0 0 34.90px,#000095 0 38.39px,#000092 0 40.14px,#00009a 0 41.88px,#00009d 0 43.62px,#00009c 0 45.37px,#000098 0 47.12px,#00009e 0 48.86px,#000093 0 50.61px,#000096 0 52.35px,#00009b 0 54.10px,#0000a1 0 55.84px,#00009b 0 57.59px,#00009c 0 59.33px,#00009d 0 61.08px,#000097 0 62.82px,#0000a0 0 64.56px,#00009d 0 66.31px,#000096 0 68.06px,#000097 0 69.80px,#00009e 0 71.55px,#000097 0 73.29px,#000094 0 75.04px,#00009f 0 76.78px,#00009a 0 78.53px,#000099 0 80.27px,#00009c 0 82.02px,#0000a0 0 83.76px,#000093 0 85.51px,#000096 0 87.25px,#000092 0 89.00px,#000098 0 90.74px,#000099 0 92.48px,#00009f 0 94.23px,#00009c 0 95.98px,#00009a 0 97.72px,#000097 0 99.47px,#00009a 0 101.21px,#000095 0 102.96px,#00009f 0 104.70px,#00009e 0 106.45px,#00009f 0 108.19px,#000093 0 109.94px,#00009c 0 111.68px,#00009d 0 113.43px,#000099 0 115.17px,#0000a0 0 118.66px,#00009d 0 120.41px,#00009e 0 122.15px,#00009b 0 123.90px,#00009f 0 125.64px,#000093 0 127.39px,#00009c 0 130.88px,#00009b 0 132.62px,#000095 0 134.37px,#000092 0 136.11px,#00009b 0 137.86px,#00009e 0 139.60px,#000095 0 141.34px,#000094 0 144.84px,#000092 0 146.58px,#00009c 0 148.33px,#0000a1 0 150.07px,#00009e 0 151.81px,#000097 0 153.56px,#00009c 0 155.31px,#000092 0 157.05px,#00009f 0 158.80px,#000096 0 160.54px,#000091 0 162.28px,#00009b 0 164.03px,#000093 0 165.78px,#000095 0 167.52px,#000092 0 169.27px,#000098 0 171.01px,#00009a 0 172.76px,#00009e 0 174.50px,#000091 0 176.25px,#00009e 0 177.99px,#000093 0 179.74px,#000095 0 181.48px,#00009b 0 183.23px,#000096 0 186.72px,#00009a 0 188.46px,#000094 0 190.21px,#00009e 0 191.95px,#000094 0 193.70px,#00009f 0 195.44px,#00009e 0 197.19px,#00009a 0 198.93px,#000091 0 200.68px,#00009e 0 202.42px,#000091 0 204.17px,#000099 0 205.91px,#000098 0 207.66px,#000092 0 209.40px,#00009b 0 211.15px,#00009d 0 212.89px,#00009a 0 214.64px,#000097 0 216.38px,#000099 0 218.12px,#00009a 0 219.87px,#000095 0 221.62px,#00009f 0 223.36px,#0000a1 0 225.11px,#00009e 0 226.85px,#0000a1 0 228.60px,#000096 0 230.34px,#0000a1 0 232.09px,#000092 0 233.83px,#000099 0 235.58px,#000093 0 237.32px,#000098 0 239.07px,#00009c 0 242.56px,#000098 0 244.30px,#000096 0 246.05px,#000094 0 247.79px,#000097 0 249.54px,#000095 0 251.28px,#000094 0 253.03px,#00009d 0 254.77px,#000099 0 256.52px,#000098 0 258.26px,#000094 0 260.00px,#00009c 0 261.75px,#000094 0 263.50px,#000095 0 265.24px,#00009a 0 266.99px,#00009c 0 268.73px,#0000a1 0 270.48px,#00009d 0 272.22px,#0000a0 0 275.71px,#00009d 0 279.20px,#000092 0 280.94px,#000094 0 282.69px,#000091 0 284.44px,#00009f 0 286.18px,#00009d 0 287.93px,#00009b 0 289.67px,#000095 0 291.42px,#000097 0 293.16px,#000094 0 294.91px,#00009b 0 296.65px,#0000a1 0 298.40px,#000096 0 300.14px,#000092 0 301.88px,#000094 0 303.63px,#000097 0 305.38px,#0000a0 0 307.12px,#00009e 0 308.87px,#000098 0 310.61px,#000093 0 315.85px,#00009e 0 317.59px,#000099 0 319.34px,#0000a1 0 321.08px,#0000a0 0 322.83px,#00009e 0 324.57px,#000099 0 326.31px,#00009e 0 328.06px,#000093 0 331.55px,#00009a 0 333.30px,#000099 0 335.04px,#000094 0 336.79px,#000095 0 338.53px,#000091 0 340.28px,#0000a0 0 342.02px,#00009c 0 343.77px,#0000a0 0 345.51px,#0000a1 0 347.25px,#000098 0 349.00px)"></div>
<div class="r" style="top:424px;background:linear-gradient(90deg,#800000 0 3.49px,#9b0000 0 5.24px,#ff6b00 0 6.98px,#d5ff2a 0 8.73px,#74ff8b 0 10.47px,#36ffc9 0 12.21px,#39ffc6 0 13.96px,#17ffe8 0 15.71px,#00e9ff 0 17.45px,#16ffe9 0 19.20px,#0dfff2 0 20.94px,#00f0ff 0 22.69px,#00cfff 0 24.43px,#01fffe 0 26.18px,#00e2ff 0 27.92px,#00beff 0 29.67px,#00c8ff 0 31.41px,#00d5ff 0 33.16px,#00e0ff 0 34.90px,#00b4ff 0 36.65px,#00acff 0 38.39px,#007eff 0 40.14px,#0075ff 0 41.88px,#007fff 0 43.62px,#0057ff 0 45.37px,#0039ff 0 47.12px,#003cff 0 48.86px,#0017ff 0 50.61px,#000cff 0 52.35px,#0015ff 0 54.10px,#0019ff 0 55.84px,#001aff 0 57.59px,#001bff 0 59.33px,#000eff 0 61.08px,#0000fb 0 62.82px,#0017ff 0 64.56px,#0000f7 0 66.31px,#0008ff 0 68.06px,#0004ff 0 69.80px,#000eff 0 73.29px,#0000f7 0 75.04px,#0007ff 0 76.78px,#0008ff 0 78.53px,#0000fc 0 80.27px,#0000ec 0 82.02px,#000cff 0 83.76px,#0000fc 0 85.51px,#0000e3 0 87.25px,#0000e9 0 89.00px,#0008ff 0 90.74px,#0000e5 0 92.48px,#0000eb 0 94.23px,#0000fa 0 95.98px,#0000f9 0 97.72px,#0000f0 0 99.47px,#0000f2 0 101.21px,#0000d3 0 102.96px,#0000d4 0 104.70px,#0000f7 0 106.45px,#0000ee 0 108.19px,#0000cc 0 109.94px,#0000cb 0 111.68px,#0000d1 0 113.43px,#0000ed 0 115.17px,#0000cd 0 116.92px,#0000de 0 118.66px,#0000e8 0 120.41px,#0000da 0 122.15px,#0000e4 0 123.90px,#0000c7 0 125.64px,#0000c2 0 127.39px,#0000bb 0 129.13px,#0000da 0 130.88px,#0000be 0 132.62px,#0000e2 0 134.37px,#0000d7 0 136.11px,#0000c0 0 137.86px,#0000da 0 139.60px,#0000be 0 141.34px,#0000cc 0 143.09px,#0000bb 0 144.84px,#0000d7 0 146.58px,#0000db 0 148.33px,#0000dc 0 150.07px,#0000b4 0 151.81px,#0000d8 0 153.56px,#0000cb 0 155.31px,#0000d6 0 157.05px,#0000c8 0 158.80px,#0000cc 0 160.54px,#0000ca 0 162.28px,#0000d3 0 164.03px,#0000b3 0 165.78px,#0000b2 0 167.52px,#0000c6 0 169.27px,#0000bb 0 171.01px,#0000bf 0 172.76px,#0000ae 0 174.50px,#0000cd 0 176.25px,#0000ae 0 177.99px,#0000cf 0 179.74px,#0000ce 0 181.48px,#0000bf 0 183.23px,#0000b0 0 184.97px,#0000c6 0 186.72px,#0000b3 0 188.46px,#0000bb 0 190.21px,#0000ad 0 191.95px,#0000d2 0 193.70px,#0000bf 0 195.44px,#0000b6 0 197.19px,#0000ab 0 198.93px,#0000c5 0 200.68px,#0000ca 0 202.42px,#0000c9 0 204.17px,#0000a9 0 205.91px,#0000b4 0 207.66px,#0000b1 0 209.40px,#0000c4 0 211.15px,#0000a9 0 212.89px,#0000bc 0 214.64px,#0000cb 0 216.38px,#0000c2 0 218.12px,#0000a1 0 219.87px,#0000a3 0 221.62px,#0000a5 0 223.36px,#0000bd 0 225.11px,#0000b8 0 226.85px,#0000b4 0 228.60px,#0000b1 0 230.34px,#0000af 0 232.09px,#0000b7 0 233.83px,#0000b8 0 235.58px,#0000c3 0 237.32px,#0000ba 0 239.07px,#0000bd 0 240.81px,#0000c1 0 242.56px,#0000bd 0 244.30px,#0000b8 0 246.05px,#00009a 0 247.79px,#0000b5 0 249.54px,#0000bc 0 251.28px,#0000aa 0 253.03px,#0000bd 0 254.77px,#00009f 0 256.52px,#0000c0 0 258.26px,#0000aa 0 260.00px,#0000b6 0 261.75px,#0000a2 0 263.50px,#0000a4 0 265.24px,#0000a6 0 266.99px,#0000a5 0 268.73px,#00009b 0 270.48px,#0000aa 0 272.22px,#0000c1 0 273.97px,#0000b3 0 275.71px,#0000be 0 277.46px,#0000b7 0 279.20px,#0000ba 0 280.94px,#0000c1 0 282.69px,#0000b6 0 284.44px,#0000a2 0 286.18px,#0000a1 0 287.93px,#0000a8 0 289.67px,#000097 0 291.42px,#0000a0 0 293.16px,#0000bb 0 294.91px,#0000bd 0 296.65px,#0000a4 0 298.40px,#0000b6 0 301.88px,#0000bb 0 303.63px,#0000b7 0 305.38px,#0000ac 0 307.12px,#00009a 0 308.87px,#0000b8 0 310.61px,#0000a2 0 312.36px,#0000b0 0 314.10px,#0000a4 0 315.85px,#0000ac 0 317.59px,#0000be 0 319.34px,#00009b 0 321.08px,#0000ab 0 322.83px,#0000b0 0 324.57px,#0000ab 0 326.31px,#0000bc 0 328.06px,#0000a5 0 329.81px,#0000bb 0 331.55px,#0000b1 0 333.30px,#0000bd 0 335.04px,#000098 0 336.79px,#00009d 0 338.53px,#0000a0 0 340.28px,#0000ba 0 342.02px,#000094 0 343.77px,#00009e 0 345.51px,#0000b2 0 347.25px,#0000bd 0 349.00px)"></div>
<div class="r" style="top:436px;background:linear-gradient(90deg,#800000 0 17.45px,#ff0b00 0 19.20px,#ff0000 0 20.94px,#800000 0 22.69px,#940000 0 24.43px,#a70000 0 26.18px,#970000 0 27.92px,#ab0000 0 29.67px,#920000 0 31.41px,#ff0900 0 33.16px,#ff5600 0 34.90px,#ffce00 0 36.65px,#ffe300 0 38.39px,#ff8200 0 40.14px,#ffc800 0 41.88px,#ffd500 0 43.62px,#ff6b00 0 45.37px,#e30000 0 47.12px,#ff3c00 0 48.86px,#ffbb00 0 50.61px,#ff2f00 0 52.35px,#ffe200 0 54.10px,#fffe00 0 55.84px,#ffc700 0 57.59px,#ffae00 0 59.33px,#ff6000 0 61.08px,#ffae00 0 62.82px,#ff6000 0 64.56px,#dfff20 0 66.31px,#ff2e00 0 68.06px,#ffe100 0 69.80px,#ff5700 0 71.55px,#b6ff49 0 73.29px,#ff6300 0 75.04px,#e4ff1b 0 76.78px,#ff6800 0 78.53px,#ff7d00 0 80.27px,#ffaa00 0 82.02px,#dbff24 0 83.76px,#86ff79 0 85.51px,#b5ff4a 0 87.25px,#ff7d00 0 89.00px,#a0ff5f 0 90.74px,#ffd100 0 92.48px,#ffec00 0 94.23px,#ffdc00 0 95.98px,#8fff70 0 97.72px,#7eff81 0 99.47px,#54ffab 0 101.21px,#ffca00 0 102.96px,#61ff9e 0 104.70px,#8cff73 0 106.45px,#50ffaf 0 108.19px,#00c7ff 0 109.94px,#0095ff 0 111.68px,#0084ff 0 113.43px,#78ff87 0 115.17px,#00a0ff 0 116.92px,#92ff6d 0 118.66px,#00deff 0 120.41px,#45ffba 0 122.15px,#0096ff 0 123.90px,#53ffac 0 125.64px,#00b1ff 0 127.39px,#00d0ff 0 129.13px,#00fbff 0 130.88px,#007fff 0 132.62px,#00a4ff 0 134.37px,#43ffbc 0 136.11px,#00a8ff 0 137.86px,#00c1ff 0 139.60px,#30ffcf 0 141.34px,#008dff 0 143.09px,#0081ff 0 144.84px,#0086ff 0 146.58px,#00b3ff 0 148.33px,#00abff 0 150.07px,#00f9ff 0 151.81px,#00c4ff 0 153.56px,#37ffc8 0 155.31px,#0042ff 0 157.05px,#00f3ff 0 158.80px,#24ffdb 0 160.54px,#006fff 0 162.28px,#0030ff 0 164.03px,#00a5ff 0 165.78px,#0043ff 0 167.52px,#00a5ff 0 169.27px,#00ecff 0 171.01px,#0033ff 0 172.76px,#0037ff 0 174.50px,#009eff 0 176.25px,#0042ff 0 177.99px,#004fff 0 179.74px,#008bff 0 181.48px,#002aff 0 183.23px,#0019ff 0 184.97px,#006dff 0 186.72px,#008bff 0 188.46px,#13ffec 0 190.21px,#00a0ff 0 191.95px,#0010ff 0 193.70px,#003aff 0 195.44px,#00d2ff 0 197.19px,#009aff 0 198.93px,#00f3ff 0 200.68px,#0dfff2 0 202.42px,#00ebff 0 204.17px,#000dff 0 205.91px,#0091ff 0 207.66px,#007dff 0 209.40px,#006fff 0 211.15px,#006aff 0 212.89px,#0085ff 0 214.64px,#0067ff 0 216.38px,#0060ff 0 218.12px,#0066ff 0 219.87px,#007fff 0 221.62px,#006aff 0 223.36px,#0073ff 0 225.11px,#0055ff 0 226.85px,#0063ff 0 228.60px,#005cff 0 230.34px,#0055ff 0 232.09px,#0066ff 0 233.83px,#0057ff 0 235.58px,#004bff 0 237.32px,#006eff 0 239.07px,#0056ff 0 240.81px,#0047ff 0 242.56px,#003eff 0 244.30px,#0057ff 0 246.05px,#0050ff 0 247.79px,#0039ff 0 249.54px,#004bff 0 251.28px,#0056ff 0 253.03px,#004dff 0 254.77px,#003fff 0 256.52px,#004aff 0 258.26px,#004eff 0 260.00px,#004fff 0 261.75px,#0039ff 0 263.50px,#0055ff 0 265.24px,#005aff 0 266.99px,#0051ff 0 268.73px,#0055ff 0 270.48px,#0040ff 0 272.22px,#0056ff 0 273.97px,#0037ff 0 275.71px,#0038ff 0 277.46px,#0048ff 0 279.20px,#0054ff 0 280.94px,#0031ff 0 282.69px,#0036ff 0 284.44px,#002eff 0 286.18px,#003eff 0 287.93px,#0031ff 0 289.67px,#0033ff 0 291.42px,#004aff 0 293.16px,#0042ff 0 294.91px,#0051ff 0 296.65px,#0039ff 0 298.40px,#0045ff 0 300.14px,#0028ff 0 301.88px,#004fff 0 303.63px,#0030ff 0 305.38px,#003aff 0 307.12px,#003bff 0 308.87px,#004dff 0 310.61px,#0039ff 0 312.36px,#004eff 0 314.10px,#003dff 0 315.85px,#002cff 0 317.59px,#0045ff 0 319.34px,#002aff 0 321.08px,#004bff 0 322.83px,#0034ff 0 324.57px,#0029ff 0 326.31px,#0048ff 0 328.06px,#002cff 0 329.81px,#0030ff 0 331.55px,#002cff 0 333.30px,#003aff 0 335.04px,#001eff 0 336.79px,#002cff 0 338.53px,#0022ff 0 340.28px,#003eff 0 342.02px,#001bff 0 343.77px,#0034ff 0 345.51px,#0024ff 0 347.25px,#002cff 0 349.00px)"></div>
<div class="r" style="top:442px;background:linear-gradient(90deg,#00009a 0 1.75px,#00009c 0 3.49px,#000093 0 5.24px,#000095 0 6.98px,#000093 0 8.73px,#0000a1 0 10.47px,#000093 0 13.96px,#000099 0 15.71px,#00009a 0 17.45px,#00009f 0 19.20px,#000092 0 20.94px,#000095 0 22.69px,#000094 0 24.43px,#00009a 0 26.18px,#000098 0 29.67px,#00009f 0 31.41px,#00009c 0 33.16px,#00009f 0 34.90px,#0000a0 0 36.65px,#000095 0 38.39px,#0000a0 0 40.14px,#000097 0 41.88px,#000092 0 43.62px,#0000a0 0 45.37px,#000093 0 47.12px,#000091 0 48.86px,#000096 0 52.35px,#0000a1 0 54.10px,#00009f 0 55.84px,#000098 0 57.59px,#000099 0 59.33px,#00009f 0 61.08px,#00009e 0 62.82px,#00009c 0 64.56px,#000099 0 66.31px,#000093 0 68.06px,#000095 0 69.80px,#00009c 0 71.55px,#00009a 0 73.29px,#00009e 0 75.04px,#0000a0 0 76.78px,#0000a1 0 78.53px,#000094 0 80.27px,#000092 0 82.02px,#00009f 0 83.76px,#00009a 0 85.51px,#000094 0 87.25px,#00009c 0 89.00px,#000095 0 92.48px,#000097 0 94.23px,#000099 0 95.98px,#00009c 0 97.72px,#000092 0 99.47px,#00009d 0 101.21px,#00009b 0 102.96px,#000099 0 104.70px,#00009c 0 106.45px,#00009e 0 108.19px,#000091 0 109.94px,#000099 0 111.68px,#00009c 0 115.17px,#00009b 0 116.92px,#000094 0 118.66px,#0000a0 0 120.41px,#00009e 0 122.15px,#000095 0 123.90px,#000098 0 125.64px,#0000a0 0 127.39px,#000094 0 129.13px,#000098 0 130.88px,#0000a1 0 132.62px,#0000a0 0 134.37px,#000095 0 136.11px,#00009d 0 137.86px,#000097 0 139.60px,#00009c 0 141.34px,#00009d 0 143.09px,#000093 0 144.84px,#000094 0 148.33px,#000095 0 150.07px,#000091 0 151.81px,#000093 0 153.56px,#000097 0 155.31px,#000098 0 157.05px,#000092 0 158.80px,#00009a 0 160.54px,#0000a0 0 162.28px,#00009a 0 164.03px,#000097 0 165.78px,#00009c 0 167.52px,#000098 0 169.27px,#000094 0 171.01px,#000099 0 172.76px,#000091 0 174.50px,#00009c 0 176.25px,#000093 0 177.99px,#000097 0 179.74px,#0000a1 0 181.48px,#00009d 0 183.23px,#00009e 0 184.97px,#00009b 0 188.46px,#00009c 0 190.21px,#0000a1 0 191.95px,#000094 0 193.70px,#00009d 0 195.44px,#000096 0 197.19px,#000095 0 198.93px,#00009e 0 200.68px,#00009b 0 202.42px,#00009f 0 205.91px,#00009a 0 207.66px,#000094 0 209.40px,#000091 0 211.15px,#00009a 0 212.89px,#00009d 0 214.64px,#000095 0 216.38px,#000092 0 218.12px,#000091 0 219.87px,#000094 0 221.62px,#00009c 0 223.36px,#000091 0 225.11px,#000095 0 228.60px,#00009c 0 230.34px,#0000a1 0 232.09px,#000091 0 233.83px,#000093 0 235.58px,#0000a0 0 237.32px,#0000a1 0 239.07px,#000093 0 240.81px,#000096 0 242.56px,#000099 0 244.30px,#000096 0 246.05px,#000098 0 247.79px,#000099 0 249.54px,#000095 0 251.28px,#000092 0 254.77px,#000093 0 256.52px,#000092 0 258.26px,#00009b 0 260.00px,#00009c 0 261.75px,#000095 0 263.50px,#00009e 0 265.24px,#00009d 0 266.99px,#000096 0 268.73px,#000099 0 270.48px,#000094 0 272.22px,#0000a0 0 273.97px,#00009a 0 275.71px,#000092 0 277.46px,#000093 0 279.20px,#00009c 0 280.94px,#000097 0 282.69px,#00009d 0 284.44px,#000095 0 286.18px,#00009e 0 289.67px,#000092 0 291.42px,#00009a 0 293.16px,#000094 0 294.91px,#00009c 0 296.65px,#00009e 0 300.14px,#000095 0 301.88px,#000092 0 303.63px,#00009c 0 305.38px,#00009a 0 307.12px,#000093 0 308.87px,#000094 0 310.61px,#00009a 0 312.36px,#000093 0 314.10px,#00009b 0 315.85px,#000095 0 319.34px,#000098 0 321.08px,#00009a 0 322.83px,#00009d 0 324.57px,#000091 0 326.31px,#00009d 0 328.06px,#000094 0 329.81px,#000096 0 331.55px,#00009b 0 333.30px,#00009c 0 335.04px,#00009b 0 336.79px,#0000a0 0 338.53px,#000094 0 340.28px,#000096 0 342.02px,#00009c 0 343.77px,#000095 0 345.51px,#000093 0 347.25px,#000095 0 349.00px)"></div>
<div class="r" style="top:448px;background:linear-gradient(90deg,#800000 0 3.49px,#a50000 0 5.24px,#ff6b00 0 6.98px,#fbff04 0 8.73px,#8bff74 0 10.47px,#3fffc0 0 12.21px,#3effc1 0 13.96px,#09fff6 0 15.71px,#0ffff0 0 17.45px,#00ebff 0 19.20px,#00e3ff 0 20.94px,#00f3ff 0 22.69px,#00dbff 0 24.43px,#00fbff 0 26.18px,#00f2ff 0 27.92px,#00d8ff 0 29.67px,#00c5ff 0 31.41px,#00baff 0 33.16px,#00c7ff 0 34.90px,#00b6ff 0 36.65px,#009cff 0 40.14px,#0081ff 0 41.88px,#0079ff 0 43.62px,#004bff 0 45.37px,#0038ff 0 47.12px,#0033ff 0 48.86px,#0026ff 0 50.61px,#000fff 0 52.35px,#001eff 0 54.10px,#000aff 0 55.84px,#000cff 0 57.59px,#0011ff 0 59.33px,#001aff 0 62.82px,#0008ff 0 64.56px,#0009ff 0 66.31px,#001cff 0 68.06px,#001aff 0 69.80px,#000bff 0 71.55px,#0000f3 0 73.29px,#0001ff 0 75.04px,#0007ff 0 76.78px,#0000f5 0 78.53px,#0000e9 0 80.27px,#0010ff 0 82.02px,#000cff 0 83.76px,#0000e8 0 85.51px,#0000f4 0 87.25px,#0000f9 0 89.00px,#0000ea 0 90.74px,#0000de 0 92.48px,#0000fa 0 94.23px,#0000f9 0 95.98px,#0000e9 0 97.72px,#0000d8 0 99.47px,#0000e4 0 101.21px,#0000d5 0 102.96px,#0000f8 0 104.70px,#0000d0 0 106.45px,#0000d8 0 108.19px,#0000eb 0 109.94px,#0000cf 0 111.68px,#0000cc 0 113.43px,#0000c8 0 115.17px,#0000cb 0 116.92px,#0000d9 0 118.66px,#0000e4 0 120.41px,#0000c6 0 122.15px,#0000c4 0 123.90px,#0000dc 0 125.64px,#0000cd 0 127.39px,#0000c9 0 129.13px,#0000bf 0 130.88px,#0000c4 0 132.62px,#0000e2 0 134.37px,#0000be 0 136.11px,#0000c3 0 137.86px,#0000d7 0 139.60px,#0000dd 0 143.09px,#0000ca 0 144.84px,#0000de 0 146.58px,#0000cf 0 148.33px,#0000c1 0 150.07px,#0000c8 0 151.81px,#0000d2 0 155.31px,#0000b8 0 157.05px,#0000ba 0 158.80px,#0000da 0 160.54px,#0000b6 0 162.28px,#0000d3 0 164.03px,#0000bf 0 165.78px,#0000ba 0 169.27px,#0000c3 0 171.01px,#0000d8 0 172.76px,#0000b4 0 174.50px,#0000d1 0 176.25px,#0000ba 0 177.99px,#0000b4 0 179.74px,#0000cb 0 181.48px,#0000ba 0 183.23px,#0000b3 0 184.97px,#0000bc 0 186.72px,#0000cd 0 188.46px,#0000ce 0 190.21px,#0000c1 0 191.95px,#0000a9 0 193.70px,#0000c8 0 195.44px,#0000c1 0 197.19px,#0000cd 0 198.93px,#0000cf 0 200.68px,#0000b4 0 202.42px,#0000c9 0 204.17px,#0000c7 0 205.91px,#0000b0 0 207.66px,#0000b3 0 211.15px,#0000b2 0 214.64px,#0000a6 0 216.38px,#0000ab 0 218.12px,#0000c7 0 219.87px,#0000b2 0 221.62px,#0000bb 0 223.36px,#0000c5 0 225.11px,#0000bf 0 226.85px,#0000a9 0 228.60px,#0000c5 0 230.34px,#0000bf 0 232.09px,#0000c7 0 233.83px,#0000bb 0 235.58px,#0000bc 0 237.32px,#0000be 0 239.07px,#0000a6 0 240.81px,#0000b6 0 242.56px,#0000aa 0 244.30px,#0000bd 0 246.05px,#00009e 0 247.79px,#0000af 0 249.54px,#0000a6 0 251.28px,#0000bb 0 253.03px,#0000a7 0 254.77px,#0000bc 0 258.26px,#0000bd 0 260.00px,#00009d 0 261.75px,#0000bf 0 263.50px,#0000b7 0 265.24px,#0000b4 0 266.99px,#0000b3 0 268.73px,#000099 0 270.48px,#0000bc 0 272.22px,#0000ae 0 273.97px,#0000aa 0 275.71px,#0000a5 0 277.46px,#0000b8 0 280.94px,#0000bb 0 282.69px,#0000a0 0 284.44px,#0000a5 0 286.18px,#0000a1 0 287.93px,#00009a 0 289.67px,#0000a4 0 291.42px,#000097 0 293.16px,#0000b8 0 294.91px,#00009f 0 296.65px,#000099 0 298.40px,#000098 0 300.14px,#0000b5 0 301.88px,#00009e 0 303.63px,#0000a9 0 305.38px,#0000a6 0 307.12px,#0000b7 0 308.87px,#0000be 0 310.61px,#0000a2 0 312.36px,#0000b0 0 314.10px,#0000bb 0 315.85px,#0000a9 0 317.59px,#0000bb 0 319.34px,#0000b4 0 321.08px,#0000a2 0 322.83px,#0000b9 0 324.57px,#0000ad 0 326.31px,#000099 0 328.06px,#0000ad 0 329.81px,#0000b7 0 331.55px,#0000aa 0 333.30px,#0000a8 0 335.04px,#0000a5 0 336.79px,#0000b9 0 338.53px,#0000b0 0 340.28px,#00009c 0 342.02px,#0000a3 0 345.51px,#0000bc 0 347.25px,#0000b1 0 349.00px)"></div>
<div class="r" style="top:472px;background:linear-gradient(90deg,#800000 0 33.16px,#820000 0 34.90px,#940000 0 36.65px,#800000 0 38.39px,#ff2f00 0 40.14px,#ff1400 0 41.88px,#ff0e00 0 43.62px,#980000 0 45.37px,#ff3c00 0 47.12px,#d30000 0 48.86px,#e30000 0 50.61px,#b30000 0 52.35px,#ff5100 0 54.10px,#800000 0 57.59px,#db0000 0 59.33px,#990000 0 61.08px,#ff4f00 0 62.82px,#800000 0 64.56px,#e70000 0 66.31px,#ab0000 0 68.06px,#8e0000 0 69.80px,#ff2b00 0 71.55px,#8d0000 0 73.29px,#ff6900 0 75.04px,#ffa700 0 76.78px,#ff2300 0 78.53px,#b50000 0 80.27px,#bd0000 0 82.02px,#b50000 0 83.76px,#ff4100 0 85.51px,#cc0000 0 87.25px,#ff4200 0 89.00px,#ffc500 0 90.74px,#ff3e00 0 92.48px,#ff1300 0 94.23px,#ff8b00 0 95.98px,#ff5f00 0 97.72px,#ffcc00 0 99.47px,#ffcf00 0 101.21px,#ffad00 0 102.96px,#ff9900 0 104.70px,#ffaf00 0 106.45px,#d8ff27 0 108.19px,#b6ff49 0 109.94px,#ffef00 0 111.68px,#ff8900 0 113.43px,#ff8800 0 115.17px,#d7ff28 0 116.92px,#d4ff2b 0 118.66px,#ffe600 0 120.41px,#abff54 0 122.15px,#ffde00 0 123.90px,#ff8e00 0 125.64px,#99ff66 0 127.39px,#fffd00 0 129.13px,#ffde00 0 132.62px,#fff200 0 134.37px,#fffb00 0 136.11px,#7aff85 0 137.86px,#ffe700 0 139.60px,#ffd400 0 141.34px,#24ffdb 0 143.09px,#ffd900 0 144.84px,#8bff74 0 146.58px,#1dffe2 0 148.33px,#12ffed 0 150.07px,#e2ff1d 0 151.81px,#b9ff46 0 153.56px,#16ffe9 0 155.31px,#6eff91 0 157.05px,#9dff62 0 158.80px,#fffe00 0 160.54px,#38ffc7 0 162.28px,#b1ff4e 0 164.03px,#12ffed 0 165.78px,#00fdff 0 167.52px,#00edff 0 169.27px,#31ffce 0 171.01px,#68ff97 0 172.76px,#06fff9 0 174.50px,#00d6ff 0 176.25px,#00e0ff 0 177.99px,#00b3ff 0 179.74px,#00d1ff 0 181.48px,#00f2ff 0 183.23px,#29ffd6 0 184.97px,#00c7ff 0 186.72px,#1dffe2 0 188.46px,#0ffff0 0 190.21px,#a9ff56 0 191.95px,#18ffe7 0 193.70px,#9cff63 0 195.44px,#0ffff0 0 197.19px,#00bbff 0 198.93px,#2effd1 0 200.68px,#00a7ff 0 202.42px,#00acff 0 204.17px,#008dff 0 205.91px,#45ffba 0 207.66px,#90ff6f 0 209.40px,#00e8ff 0 211.15px,#00d7ff 0 212.89px,#00e9ff 0 214.64px,#00d2ff 0 216.38px,#34ffcb 0 218.12px,#00d9ff 0 219.87px,#0090ff 0 221.62px,#60ff9f 0 223.36px,#08fff7 0 225.11px,#005eff 0 226.85px,#55ffaa 0 228.60px,#2fffd0 0 230.34px,#00beff 0 232.09px,#0dfff2 0 233.83px,#60ff9f 0 235.58px,#00c5ff 0 237.32px,#00cbff 0 239.07px,#00a2ff 0 240.81px,#00ebff 0 242.56px,#09fff6 0 244.30px,#1cffe3 0 246.05px,#59ffa6 0 247.79px,#0069ff 0 249.54px,#00a9ff 0 251.28px,#38ffc7 0 253.03px,#26ffd9 0 254.77px,#00eaff 0 256.52px,#04fffb 0 258.26px,#009fff 0 260.00px,#51ffae 0 261.75px,#00dbff 0 263.50px,#00b0ff 0 265.24px,#006fff 0 266.99px,#005aff 0 268.73px,#41ffbe 0 270.48px,#24ffdb 0 272.22px,#003fff 0 273.97px,#0095ff 0 275.71px,#00c3ff 0 277.46px,#00c7ff 0 279.20px,#009fff 0 280.94px,#3cffc3 0 282.69px,#009aff 0 284.44px,#00cfff 0 286.18px,#45ffba 0 287.93px,#00eeff 0 289.67px,#00beff 0 291.42px,#0093ff 0 293.16px,#00a2ff 0 294.91px,#00e3ff 0 296.65px,#17ffe8 0 298.40px,#007bff 0 300.14px,#009bff 0 301.88px,#00a0ff 0 303.63px,#0098ff 0 305.38px,#3affc5 0 307.12px,#00caff 0 308.87px,#007dff 0 310.61px,#008dff 0 312.36px,#1dffe2 0 314.10px,#0059ff 0 315.85px,#00f4ff 0 317.59px,#002fff 0 319.34px,#0061ff 0 321.08px,#0039ff 0 322.83px,#15ffea 0 324.57px,#0052ff 0 326.31px,#0069ff 0 328.06px,#0037ff 0 329.81px,#0073ff 0 331.55px,#00fcff 0 333.30px,#00f8ff 0 335.04px,#30ffcf 0 336.79px,#3affc5 0 338.53px,#00c4ff 0 340.28px,#32ffcd 0 342.02px,#003cff 0 343.77px,#32ffcd 0 345.51px,#00a0ff 0 347.25px,#0059ff 0 349.00px)"></div>
<div class="r" style="top:484px;background:linear-gradient(90deg,#00009d 0 1.75px,#00009f 0 3.49px,#000097 0 5.24px,#000092 0 6.98px,#00009f 0 8.73px,#00009d 0 10.47px,#00009b 0 12.21px,#0000a1 0 13.96px,#000091 0 15.71px,#000092 0 17.45px,#000093 0 19.20px,#000091 0 20.94px,#00009c 0 22.69px,#00009b 0 24.43px,#000093 0 27.92px,#000094 0 29.67px,#00009b 0 31.41px,#00009c 0 33.16px,#0000a1 0 34.90px,#000097 0 36.65px,#0000a1 0 38.39px,#000098 0 40.14px,#000097 0 41.88px,#000095 0 45.37px,#0000a1 0 48.86px,#00009c 0 50.61px,#000094 0 54.10px,#000093 0 55.84px,#000097 0 57.59px,#00009d 0 59.33px,#000092 0 61.08px,#000099 0 62.82px,#00009c 0 64.56px,#000091 0 66.31px,#000098 0 68.06px,#00009e 0 69.80px,#00009a 0 71.55px,#000098 0 73.29px,#00009f 0 75.04px,#00009b 0 76.78px,#000096 0 78.53px,#000097 0 80.27px,#0000a0 0 82.02px,#00009f 0 83.76px,#0000a0 0 85.51px,#00009a 0 87.25px,#000093 0 89.00px,#000094 0 90.74px,#000097 0 92.48px,#00009c 0 94.23px,#000091 0 95.98px,#00009e 0 99.47px,#000099 0 101.21px,#000091 0 102.96px,#00009e 0 104.70px,#000098 0 106.45px,#00009c 0 108.19px,#00009a 0 109.94px,#00009d 0 111.68px,#000098 0 113.43px,#0000a1 0 115.17px,#0000a0 0 118.66px,#00009b 0 120.41px,#000096 0 122.15px,#000097 0 123.90px,#000095 0 125.64px,#0000a0 0 127.39px,#00009e 0 132.62px,#0000a1 0 134.37px,#00009c 0 136.11px,#000096 0 137.86px,#00009d 0 139.60px,#000095 0 141.34px,#00009b 0 143.09px,#000093 0 144.84px,#00009f 0 146.58px,#000099 0 148.33px,#000095 0 150.07px,#0000a0 0 151.81px,#000092 0 153.56px,#0000a0 0 155.31px,#00009d 0 157.05px,#000093 0 158.80px,#00009d 0 160.54px,#00009a 0 162.28px,#0000a0 0 164.03px,#00009a 0 165.78px,#000098 0 167.52px,#0000a0 0 169.27px,#000092 0 171.01px,#00009e 0 172.76px,#000093 0 174.50px,#000095 0 176.25px,#000093 0 177.99px,#00009f 0 179.74px,#000098 0 181.48px,#00009d 0 183.23px,#000095 0 184.97px,#00009d 0 186.72px,#00009b 0 188.46px,#000092 0 190.21px,#000099 0 191.95px,#00009d 0 193.70px,#000094 0 195.44px,#00009c 0 197.19px,#000095 0 198.93px,#000097 0 200.68px,#0000a0 0 204.17px,#0000a1 0 205.91px,#000098 0 207.66px,#00009a 0 209.40px,#00009e 0 211.15px,#00009d 0 212.89px,#000098 0 214.64px,#00009f 0 216.38px,#000097 0 218.12px,#0000a0 0 219.87px,#000099 0 221.62px,#000093 0 223.36px,#00009d 0 225.11px,#000093 0 226.85px,#00009c 0 228.60px,#000092 0 230.34px,#0000a1 0 232.09px,#00009a 0 233.83px,#00009d 0 235.58px,#000093 0 237.32px,#00009b 0 239.07px,#000097 0 240.81px,#000095 0 242.56px,#00009e 0 244.30px,#000091 0 246.05px,#000099 0 247.79px,#000092 0 249.54px,#00009f 0 253.03px,#000091 0 254.77px,#000098 0 258.26px,#00009d 0 261.75px,#000096 0 263.50px,#0000a0 0 265.24px,#000094 0 266.99px,#000093 0 268.73px,#00009e 0 270.48px,#000093 0 272.22px,#000094 0 273.97px,#000099 0 275.71px,#000096 0 277.46px,#000094 0 279.20px,#0000a0 0 280.94px,#000099 0 282.69px,#00009e 0 284.44px,#000095 0 286.18px,#0000a0 0 287.93px,#000094 0 289.67px,#0000a0 0 291.42px,#00009b 0 293.16px,#0000a1 0 294.91px,#00009d 0 296.65px,#00009b 0 298.40px,#00009a 0 300.14px,#00009f 0 301.88px,#000098 0 303.63px,#000092 0 305.38px,#0000a0 0 307.12px,#00009e 0 308.87px,#00009c 0 310.61px,#00009d 0 312.36px,#000095 0 314.10px,#000098 0 315.85px,#00009e 0 317.59px,#0000a1 0 319.34px,#0000a0 0 321.08px,#000093 0 322.83px,#00009c 0 324.57px,#00009a 0 326.31px,#000097 0 328.06px,#000094 0 329.81px,#000093 0 331.55px,#000099 0 335.04px,#000095 0 336.79px,#000097 0 338.53px,#00009a 0 340.28px,#00009d 0 342.02px,#00009a 0 343.77px,#000093 0 345.51px,#00009f 0 347.25px,#000097 0 349.00px)"></div>
<div class="r" style="top:490px;background:linear-gradient(90deg,#800000 0 15.71px,#ff0800 0 17.45px,#ff3d00 0 19.20px,#ff0600 0 20.94px,#8d0000 0 22.69px,#a80000 0 24.43px,#800000 0 26.18px,#820000 0 27.92px,#f90000 0 29.67px,#800000 0 31.41px,#9e0000 0 33.16px,#c60000 0 34.90px,#e00000 0 36.65px,#ff2a00 0 38.39px,#ff9d00 0 40.14px,#ff4a00 0 41.88px,#ffbb00 0 43.62px,#ce0000 0 45.37px,#ffd800 0 47.12px,#d50000 0 48.86px,#ddff22 0 50.61px,#c6ff39 0 52.35px,#ff7a00 0 54.10px,#fffa00 0 55.84px,#ff9200 0 57.59px,#dcff23 0 59.33px,#ff2400 0 61.08px,#ff6500 0 62.82px,#ff6400 0 64.56px,#ff1100 0 66.31px,#fc0000 0 68.06px,#ff7200 0 69.80px,#ff6b00 0 71.55px,#8fff70 0 73.29px,#9bff64 0 75.04px,#ffe000 0 76.78px,#ff2200 0 78.53px,#ebff14 0 80.27px,#ffbc00 0 82.02px,#75ff8a 0 83.76px,#fffc00 0 85.51px,#ff5200 0 87.25px,#ffc800 0 89.00px,#ff7800 0 90.74px,#5effa1 0 92.48px,#9dff62 0 94.23px,#90ff6f 0 95.98px,#ff8900 0 97.72px,#6aff95 0 99.47px,#ff6f00 0 101.21px,#9cff63 0 102.96px,#ff8b00 0 104.70px,#ebff14 0 106.45px,#a2ff5d 0 108.19px,#ff7a00 0 109.94px,#b5ff4a 0 111.68px,#ffe500 0 113.43px,#32ffcd 0 115.17px,#ffbf00 0 116.92px,#ff8d00 0 118.66px,#33ffcc 0 120.41px,#ffec00 0 122.15px,#63ff9c 0 123.90px,#32ffcd 0 125.64px,#7cff83 0 127.39px,#e2ff1d 0 129.13px,#ffb700 0 130.88px,#ffad00 0 132.62px,#ffb100 0 134.37px,#c4ff3b 0 136.11px,#caff35 0 137.86px,#15ffea 0 139.60px,#dcff23 0 141.34px,#99ff66 0 143.09px,#50ffaf 0 144.84px,#fff000 0 146.58px,#22ffdd 0 148.33px,#00f4ff 0 150.07px,#00f6ff 0 151.81px,#00eeff 0 153.56px,#89ff76 0 155.31px,#d1ff2e 0 157.05px,#00e6ff 0 158.80px,#5effa1 0 160.54px,#73ff8c 0 162.28px,#6aff95 0 164.03px,#31ffce 0 165.78px,#5bffa4 0 167.52px,#0098ff 0 169.27px,#00a4ff 0 171.01px,#23ffdc 0 172.76px,#00dbff 0 174.50px,#93ff6c 0 176.25px,#00d5ff 0 177.99px,#a3ff5c 0 179.74px,#00ceff 0 181.48px,#0096ff 0 183.23px,#1fffe0 0 184.97px,#00fcff 0 186.72px,#00e7ff 0 188.46px,#80ff7f 0 190.21px,#00b9ff 0 191.95px,#59ffa6 0 193.70px,#92ff6d 0 195.44px,#06fff9 0 197.19px,#16ffe9 0 198.93px,#abff54 0 200.68px,#36ffc9 0 202.42px,#009aff 0 204.17px,#0070ff 0 205.91px,#0072ff 0 207.66px,#00caff 0 209.40px,#0070ff 0 211.15px,#38ffc7 0 212.89px,#00e4ff 0 214.64px,#00b8ff 0 216.38px,#00ffff 0 218.12px,#96ff69 0 219.87px,#009aff 0 221.62px,#0078ff 0 223.36px,#00acff 0 225.11px,#00b0ff 0 226.85px,#81ff7e 0 228.60px,#36ffc9 0 230.34px,#00cfff 0 232.09px,#006eff 0 233.83px,#0041ff 0 235.58px,#005aff 0 237.32px,#5dffa2 0 239.07px,#13ffec 0 240.81px,#005fff 0 242.56px,#06fff9 0 244.30px,#0038ff 0 246.05px,#00d6ff 0 247.79px,#0096ff 0 249.54px,#0042ff 0 251.28px,#28ffd7 0 253.03px,#1effe1 0 254.77px,#00d3ff 0 256.52px,#0057ff 0 258.26px,#0cfff3 0 260.00px,#00b6ff 0 261.75px,#08fff7 0 263.50px,#003aff 0 265.24px,#5dffa2 0 266.99px,#0019ff 0 268.73px,#0067ff 0 270.48px,#00a6ff 0 272.22px,#005dff 0 273.97px,#0035ff 0 275.71px,#0dfff2 0 277.46px,#7aff85 0 279.20px,#008cff 0 280.94px,#0073ff 0 282.69px,#05fffa 0 284.44px,#0062ff 0 286.18px,#00a2ff 0 287.93px,#0afff5 0 289.67px,#00acff 0 291.42px,#0048ff 0 293.16px,#0029ff 0 294.91px,#00d2ff 0 296.65px,#73ff8c 0 298.40px,#59ffa6 0 300.14px,#0032ff 0 301.88px,#00c1ff 0 303.63px,#00bcff 0 305.38px,#0052ff 0 307.12px,#00fcff 0 308.87px,#00bdff 0 310.61px,#2effd1 0 312.36px,#0073ff 0 314.10px,#5affa5 0 315.85px,#2effd1 0 317.59px,#00b2ff 0 319.34px,#003bff 0 321.08px,#00b5ff 0 322.83px,#0034ff 0 324.57px,#00fcff 0 326.31px,#01fffe 0 328.06px,#00d5ff 0 329.81px,#64ff9b 0 331.55px,#0014ff 0 333.30px,#05fffa 0 335.04px,#24ffdb 0 336.79px,#002bff 0 338.53px,#0076ff 0 340.28px,#0015ff 0 342.02px,#00d2ff 0 343.77px,#05fffa 0 345.51px,#007dff 0 347.25px,#00f9ff 0 349.00px)"></div>
<div class="r" style="top:502px;background:linear-gradient(90deg,#800000 0 3.49px,#ba0000 0 5.24px,#ff1000 0 6.98px,#ff5f00 0 8.73px,#ffac00 0 10.47px,#ffe300 0 12.21px,#ffff00 0 13.96px,#caff35 0 15.71px,#41ffbe 0 17.45px,#01fffe 0 19.20px,#19ffe6 0 20.94px,#07fff8 0 22.69px,#00deff 0 24.43px,#00e1ff 0 26.18px,#00e5ff 0 27.92px,#00b9ff 0 29.67px,#00b1ff 0 31.41px,#00b6ff 0 33.16px,#00c5ff 0 34.90px,#00c0ff 0 36.65px,#0094ff 0 38.39px,#00a7ff 0 40.14px,#0096ff 0 41.88px,#008dff 0 43.62px,#0077ff 0 45.37px,#007dff 0 47.12px,#0065ff 0 48.86px,#0067ff 0 50.61px,#004fff 0 52.35px,#003dff 0 54.10px,#0049ff 0 55.84px,#0045ff 0 57.59px,#003dff 0 61.08px,#0041ff 0 62.82px,#0042ff 0 64.56px,#0031ff 0 68.06px,#0039ff 0 69.80px,#0037ff 0 71.55px,#0031ff 0 73.29px,#003aff 0 75.04px,#0023ff 0 76.78px,#0030ff 0 78.53px,#0023ff 0 80.27px,#0036ff 0 82.02px,#0031ff 0 83.76px,#0033ff 0 85.51px,#0026ff 0 87.25px,#0018ff 0 89.00px,#0033ff 0 90.74px,#0020ff 0 92.48px,#0018ff 0 94.23px,#0012ff 0 95.98px,#0015ff 0 97.72px,#0020ff 0 99.47px,#0023ff 0 101.21px,#0013ff 0 102.96px,#001bff 0 104.70px,#0003ff 0 106.45px,#000cff 0 108.19px,#0006ff 0 109.94px,#0001ff 0 111.68px,#0002ff 0 113.43px,#0011ff 0 115.17px,#000eff 0 116.92px,#0000f4 0 120.41px,#000aff 0 122.15px,#0003ff 0 123.90px,#0002ff 0 125.64px,#0000ff 0 127.39px,#0002ff 0 129.13px,#0000ef 0 130.88px,#0000e6 0 132.62px,#0000f2 0 134.37px,#0000e4 0 136.11px,#000cff 0 137.86px,#0000f8 0 139.60px,#0000fd 0 141.34px,#000bff 0 143.09px,#0003ff 0 144.84px,#0000e9 0 146.58px,#0000ee 0 148.33px,#0000e4 0 150.07px,#0001ff 0 151.81px,#0000fd 0 153.56px,#0000f2 0 155.31px,#0000ed 0 157.05px,#0000e8 0 158.80px,#0000f1 0 160.54px,#0000fa 0 162.28px,#0003ff 0 164.03px,#0000ff 0 165.78px,#0001ff 0 167.52px,#0000ed 0 169.27px,#0000ec 0 171.01px,#0000e7 0 172.76px,#0004ff 0 174.50px,#0000e1 0 176.25px,#0000df 0 177.99px,#0000e4 0 179.74px,#0000ff 0 181.48px,#0000fc 0 183.23px,#0000e5 0 184.97px,#0000fb 0 186.72px,#0000fc 0 188.46px,#0000e8 0 190.21px,#0000de 0 191.95px,#0000f6 0 193.70px,#0000e5 0 195.44px,#0000d9 0 197.19px,#0000fa 0 198.93px,#0000e6 0 200.68px,#0000e4 0 202.42px,#0000ec 0 204.17px,#0000dd 0 205.91px,#0000d3 0 207.66px,#0000e2 0 209.40px,#0000e1 0 211.15px,#0000d1 0 212.89px,#0000e0 0 214.64px,#0000f0 0 216.38px,#0000de 0 218.12px,#0000ec 0 219.87px,#0000e9 0 221.62px,#0000d6 0 223.36px,#0000cf 0 225.11px,#0000ea 0 226.85px,#0000e7 0 228.60px,#0000d9 0 230.34px,#0000d5 0 232.09px,#0000f0 0 233.83px,#0000f2 0 235.58px,#0000d5 0 237.32px,#0000e4 0 239.07px,#0000e3 0 240.81px,#0000d8 0 242.56px,#0000cb 0 244.30px,#0000d7 0 246.05px,#0000e4 0 247.79px,#0000e2 0 249.54px,#0000de 0 251.28px,#0000cd 0 253.03px,#0000d0 0 254.77px,#0000d4 0 256.52px,#0000d8 0 258.26px,#0000d5 0 260.00px,#0000ec 0 261.75px,#0000ca 0 263.50px,#0000ef 0 265.24px,#0000cf 0 266.99px,#0000e8 0 268.73px,#0000ce 0 270.48px,#0000dc 0 272.22px,#0000d3 0 273.97px,#0000c4 0 275.71px,#0000e4 0 279.20px,#0000cd 0 280.94px,#0000e2 0 282.69px,#0000d5 0 284.44px,#0000ea 0 286.18px,#0000c2 0 287.93px,#0000cf 0 289.67px,#0000c9 0 291.42px,#0000d9 0 293.16px,#0000df 0 294.91px,#0000e1 0 296.65px,#0000d5 0 298.40px,#0000cd 0 300.14px,#0000de 0 301.88px,#0000c1 0 303.63px,#0000c7 0 305.38px,#0000db 0 307.12px,#0000ce 0 308.87px,#0000e5 0 310.61px,#0000be 0 312.36px,#0000cd 0 314.10px,#0000c2 0 315.85px,#0000b9 0 317.59px,#0000bd 0 319.34px,#0000bc 0 321.08px,#0000c7 0 322.83px,#0000ca 0 324.57px,#0000cd 0 326.31px,#0000c3 0 328.06px,#0000d4 0 329.81px,#0000cc 0 331.55px,#0000df 0 333.30px,#0000bc 0 335.04px,#0000ca 0 336.79px,#0000c9 0 338.53px,#0000c4 0 340.28px,#0000d8 0 342.02px,#0000bc 0 343.77px,#0000d8 0 345.51px,#0000c1 0 347.25px,#0000c0 0 349.00px)"></div>
<div class="r" style="top:532px;background:linear-gradient(90deg,#00009b 0 1.75px,#00009a 0 3.49px,#000095 0 5.24px,#000092 0 6.98px,#0000a0 0 8.73px,#000097 0 10.47px,#000093 0 12.21px,#00009c 0 13.96px,#00009a 0 15.71px,#000096 0 19.20px,#00009f 0 20.94px,#000096 0 22.69px,#000098 0 24.43px,#0000a0 0 26.18px,#000097 0 29.67px,#000093 0 31.41px,#00009c 0 34.90px,#000098 0 36.65px,#000097 0 38.39px,#000095 0 40.14px,#00009e 0 41.88px,#000098 0 43.62px,#00009e 0 45.37px,#000097 0 47.12px,#00009d 0 48.86px,#000091 0 50.61px,#000094 0 52.35px,#0000a1 0 54.10px,#00009c 0 57.59px,#000099 0 61.08px,#000094 0 64.56px,#00009b 0 66.31px,#00009c 0 68.06px,#000095 0 69.80px,#00009b 0 71.55px,#000093 0 73.29px,#00009b 0 75.04px,#000094 0 76.78px,#000099 0 78.53px,#000096 0 80.27px,#00009a 0 82.02px,#000093 0 83.76px,#000099 0 85.51px,#00009b 0 87.25px,#000093 0 89.00px,#000096 0 90.74px,#00009c 0 92.48px,#00009a 0 94.23px,#00009b 0 95.98px,#00009e 0 97.72px,#00009a 0 99.47px,#000094 0 101.21px,#000098 0 102.96px,#00009e 0 104.70px,#00009a 0 106.45px,#00009d 0 108.19px,#000097 0 109.94px,#000098 0 111.68px,#0000a1 0 113.43px,#00009e 0 115.17px,#00009b 0 116.92px,#000093 0 118.66px,#00009b 0 120.41px,#000091 0 122.15px,#0000a0 0 123.90px,#0000a1 0 125.64px,#00009d 0 127.39px,#000095 0 129.13px,#00009f 0 130.88px,#000094 0 132.62px,#00009e 0 134.37px,#000099 0 136.11px,#000091 0 137.86px,#00009f 0 139.60px,#000098 0 141.34px,#00009e 0 143.09px,#00009c 0 144.84px,#00009a 0 146.58px,#00009f 0 148.33px,#000094 0 150.07px,#0000a0 0 151.81px,#000096 0 153.56px,#000091 0 155.31px,#000096 0 157.05px,#000092 0 160.54px,#00009b 0 162.28px,#000093 0 165.78px,#000096 0 167.52px,#000095 0 169.27px,#0000a0 0 172.76px,#00009f 0 174.50px,#0000a1 0 176.25px,#000098 0 177.99px,#00009e 0 179.74px,#000095 0 181.48px,#0000a0 0 183.23px,#00009e 0 184.97px,#00009d 0 186.72px,#000095 0 188.46px,#000092 0 190.21px,#0000a0 0 191.95px,#00009a 0 193.70px,#00009b 0 195.44px,#00009f 0 197.19px,#000093 0 198.93px,#00009c 0 200.68px,#000098 0 202.42px,#00009e 0 204.17px,#000098 0 205.91px,#000094 0 207.66px,#0000a0 0 209.40px,#000095 0 211.15px,#00009d 0 212.89px,#00009e 0 214.64px,#000095 0 216.38px,#00009c 0 218.12px,#000097 0 219.87px,#000094 0 223.36px,#0000a0 0 225.11px,#000097 0 226.85px,#000099 0 230.34px,#000091 0 232.09px,#00009d 0 235.58px,#00009f 0 237.32px,#000097 0 239.07px,#000094 0 240.81px,#000097 0 242.56px,#00009d 0 244.30px,#00009c 0 246.05px,#000097 0 247.79px,#000099 0 249.54px,#000093 0 251.28px,#0000a0 0 253.03px,#000099 0 256.52px,#00009e 0 258.26px,#000094 0 260.00px,#00009d 0 261.75px,#000097 0 263.50px,#00009e 0 265.24px,#000092 0 266.99px,#000095 0 268.73px,#00009b 0 270.48px,#000099 0 272.22px,#000097 0 273.97px,#00009a 0 275.71px,#000094 0 277.46px,#000098 0 279.20px,#000091 0 280.94px,#00009e 0 282.69px,#000095 0 284.44px,#00009e 0 286.18px,#00009a 0 287.93px,#00009b 0 291.42px,#000093 0 293.16px,#00009e 0 294.91px,#000096 0 296.65px,#00009f 0 298.40px,#00009e 0 300.14px,#00009c 0 301.88px,#00009e 0 303.63px,#000098 0 305.38px,#00009c 0 307.12px,#0000a0 0 308.87px,#000094 0 310.61px,#000092 0 312.36px,#000098 0 314.10px,#000099 0 315.85px,#000093 0 317.59px,#000094 0 319.34px,#00009f 0 321.08px,#000097 0 322.83px,#000093 0 324.57px,#000094 0 326.31px,#00009a 0 328.06px,#000094 0 329.81px,#000099 0 331.55px,#00009a 0 333.30px,#000098 0 335.04px,#000099 0 336.79px,#00009e 0 338.53px,#000091 0 340.28px,#0000a0 0 342.02px,#000094 0 343.77px,#000091 0 345.51px,#00009d 0 347.25px,#00009a 0 349.00px)"></div>
<div class="r" style="top:544px;background:linear-gradient(90deg,#800000 0 15.71px,#a20000 0 17.45px,#ff1900 0 19.20px,#970000 0 20.94px,#8f0000 0 22.69px,#ff0e00 0 24.43px,#b60000 0 26.18px,#8f0000 0 27.92px,#ff2400 0 29.67px,#800000 0 33.16px,#ff3c00 0 34.90px,#ff8c00 0 36.65px,#ffbf00 0 38.39px,#ffa600 0 40.14px,#ffd900 0 41.88px,#ff8a00 0 43.62px,#ffce00 0 45.37px,#ffd000 0 47.12px,#ffb900 0 48.86px,#ffdb00 0 50.61px,#ff8900 0 52.35px,#ffa400 0 54.10px,#c2ff3d 0 55.84px,#ceff31 0 57.59px,#90ff6f 0 59.33px,#ccff33 0 61.08px,#8dff72 0 62.82px,#fff700 0 64.56px,#fff100 0 66.31px,#ffcd00 0 68.06px,#71ff8e 0 69.80px,#44ffbb 0 71.55px,#e3ff1c 0 73.29px,#8fff70 0 75.04px,#fffd00 0 76.78px,#81ff7e 0 78.53px,#69ff96 0 80.27px,#2dffd2 0 82.02px,#f0ff0f 0 83.76px,#88ff77 0 85.51px,#72ff8d 0 87.25px,#6cff93 0 89.00px,#b3ff4c 0 90.74px,#bcff43 0 92.48px,#66ff99 0 94.23px,#1dffe2 0 95.98px,#4cffb3 0 97.72px,#b6ff49 0 99.47px,#42ffbd 0 101.21px,#77ff88 0 102.96px,#5bffa4 0 104.70px,#40ffbf 0 106.45px,#57ffa8 0 108.19px,#08fff7 0 109.94px,#4cffb3 0 111.68px,#8eff71 0 113.43px,#00d6ff 0 115.17px,#16ffe9 0 116.92px,#87ff78 0 118.66px,#9aff65 0 120.41px,#00b9ff 0 122.15px,#43ffbc 0 123.90px,#40ffbf 0 125.64px,#6dff92 0 127.39px,#14ffeb 0 129.13px,#00c2ff 0 130.88px,#00e5ff 0 132.62px,#41ffbe 0 136.11px,#00c5ff 0 137.86px,#26ffd9 0 141.34px,#23ffdc 0 143.09px,#008dff 0 144.84px,#00e9ff 0 146.58px,#00cbff 0 148.33px,#07fff8 0 150.07px,#00c6ff 0 151.81px,#0093ff 0 153.56px,#0dfff2 0 155.31px,#00b0ff 0 157.05px,#21ffde 0 158.80px,#00aeff 0 160.54px,#00e1ff 0 162.28px,#1affe5 0 164.03px,#0077ff 0 165.78px,#02fffd 0 167.52px,#0065ff 0 169.27px,#29ffd6 0 171.01px,#0055ff 0 172.76px,#00f1ff 0 174.50px,#009cff 0 176.25px,#006dff 0 177.99px,#009bff 0 179.74px,#00b0ff 0 181.48px,#009aff 0 183.23px,#0055ff 0 184.97px,#00aeff 0 186.72px,#0078ff 0 188.46px,#0ffff0 0 190.21px,#0086ff 0 191.95px,#0090ff 0 193.70px,#005eff 0 195.44px,#05fffa 0 197.19px,#006eff 0 198.93px,#00b6ff 0 200.68px,#00deff 0 202.42px,#0077ff 0 204.17px,#00c7ff 0 205.91px,#0057ff 0 207.66px,#002eff 0 209.40px,#001cff 0 211.15px,#0077ff 0 212.89px,#00d5ff 0 214.64px,#0071ff 0 216.38px,#0078ff 0 218.12px,#0083ff 0 219.87px,#006cff 0 221.62px,#0064ff 0 223.36px,#0071ff 0 225.11px,#006bff 0 226.85px,#007eff 0 228.60px,#007aff 0 230.34px,#005bff 0 232.09px,#0066ff 0 233.83px,#005eff 0 235.58px,#004bff 0 237.32px,#005aff 0 239.07px,#006bff 0 240.81px,#004fff 0 242.56px,#0058ff 0 244.30px,#005bff 0 246.05px,#003dff 0 247.79px,#005fff 0 249.54px,#003cff 0 251.28px,#0043ff 0 253.03px,#0055ff 0 254.77px,#0037ff 0 256.52px,#0046ff 0 258.26px,#003bff 0 260.00px,#0049ff 0 261.75px,#0035ff 0 263.50px,#003bff 0 265.24px,#003dff 0 266.99px,#0037ff 0 270.48px,#003bff 0 272.22px,#0048ff 0 273.97px,#0038ff 0 275.71px,#0054ff 0 277.46px,#0043ff 0 279.20px,#003cff 0 280.94px,#003bff 0 282.69px,#0054ff 0 284.44px,#0032ff 0 286.18px,#004fff 0 287.93px,#0033ff 0 289.67px,#0057ff 0 291.42px,#0040ff 0 293.16px,#0047ff 0 294.91px,#0052ff 0 296.65px,#0032ff 0 298.40px,#0030ff 0 300.14px,#004aff 0 301.88px,#0045ff 0 303.63px,#004bff 0 305.38px,#0037ff 0 307.12px,#0040ff 0 308.87px,#0033ff 0 310.61px,#003dff 0 312.36px,#0036ff 0 314.10px,#0043ff 0 315.85px,#0036ff 0 317.59px,#0035ff 0 319.34px,#0044ff 0 321.08px,#002cff 0 322.83px,#004aff 0 324.57px,#003dff 0 326.31px,#0031ff 0 328.06px,#002cff 0 329.81px,#003cff 0 333.30px,#0044ff 0 335.04px,#0035ff 0 336.79px,#0037ff 0 338.53px,#004bff 0 340.28px,#0030ff 0 342.02px,#004eff 0 343.77px,#004aff 0 345.51px,#004dff 0 347.25px,#004bff 0 349.00px)"></div>
<div class="r" style="top:556px;background:linear-gradient(90deg,#800000 0 15.71px,#ba0000 0 17.45px,#ff6c00 0 19.20px,#ff6e00 0 20.94px,#ff4c00 0 22.69px,#ff8f00 0 24.43px,#ff7900 0 26.18px,#ff6500 0 27.92px,#ffc200 0 29.67px,#ff8500 0 31.41px,#ffda00 0 33.16px,#ffba00 0 34.90px,#c1ff3e 0 36.65px,#bbff44 0 38.39px,#5cffa3 0 40.14px,#64ff9b 0 41.88px,#bdff42 0 43.62px,#68ff97 0 45.37px,#61ff9e 0 47.12px,#4fffb0 0 48.86px,#6eff91 0 50.61px,#6aff95 0 52.35px,#57ffa8 0 54.10px,#30ffcf 0 55.84px,#3fffc0 0 57.59px,#31ffce 0 59.33px,#00feff 0 61.08px,#5cffa3 0 62.82px,#57ffa8 0 64.56px,#37ffc8 0 66.31px,#4dffb2 0 68.06px,#01fffe 0 69.80px,#2fffd0 0 71.55px,#00ddff 0 73.29px,#1dffe2 0 75.04px,#17ffe8 0 76.78px,#32ffcd 0 78.53px,#21ffde 0 80.27px,#25ffda 0 82.02px,#00d1ff 0 83.76px,#13ffec 0 85.51px,#00e7ff 0 87.25px,#00cfff 0 89.00px,#00d4ff 0 90.74px,#0bfff4 0 92.48px,#0efff1 0 94.23px,#0bfff4 0 95.98px,#00f1ff 0 97.72px,#00adff 0 99.47px,#00a9ff 0 101.21px,#00dcff 0 102.96px,#00abff 0 104.70px,#00b9ff 0 106.45px,#0097ff 0 108.19px,#009cff 0 109.94px,#00e2ff 0 111.68px,#009fff 0 113.43px,#00eeff 0 115.17px,#00a8ff 0 116.92px,#00e9ff 0 118.66px,#009fff 0 120.41px,#0098ff 0 122.15px,#00a6ff 0 123.90px,#0072ff 0 125.64px,#00a7ff 0 127.39px,#009dff 0 129.13px,#006bff 0 130.88px,#00d8ff 0 132.62px,#0096ff 0 134.37px,#0063ff 0 136.11px,#00deff 0 137.86px,#007cff 0 139.60px,#007dff 0 141.34px,#005dff 0 143.09px,#0064ff 0 144.84px,#00b2ff 0 146.58px,#009fff 0 148.33px,#0092ff 0 150.07px,#006eff 0 151.81px,#0071ff 0 153.56px,#00c8ff 0 155.31px,#0078ff 0 157.05px,#00c6ff 0 158.80px,#00b6ff 0 160.54px,#0051ff 0 162.28px,#008eff 0 164.03px,#0069ff 0 165.78px,#0084ff 0 167.52px,#0086ff 0 169.27px,#007fff 0 171.01px,#0076ff 0 172.76px,#007fff 0 174.50px,#0061ff 0 176.25px,#006fff 0 177.99px,#0061ff 0 179.74px,#0064ff 0 181.48px,#0059ff 0 183.23px,#006dff 0 184.97px,#0065ff 0 186.72px,#006bff 0 188.46px,#0063ff 0 190.21px,#005fff 0 191.95px,#006bff 0 193.70px,#0064ff 0 195.44px,#0057ff 0 197.19px,#004aff 0 198.93px,#0062ff 0 200.68px,#0048ff 0 202.42px,#003aff 0 204.17px,#0042ff 0 205.91px,#004fff 0 207.66px,#0056ff 0 209.40px,#0048ff 0 211.15px,#0046ff 0 212.89px,#0050ff 0 214.64px,#0047ff 0 216.38px,#0036ff 0 218.12px,#0035ff 0 219.87px,#003fff 0 221.62px,#002aff 0 223.36px,#001fff 0 225.11px,#0032ff 0 226.85px,#0038ff 0 228.60px,#001eff 0 230.34px,#002eff 0 232.09px,#0035ff 0 233.83px,#0012ff 0 235.58px,#0010ff 0 237.32px,#001dff 0 239.07px,#0014ff 0 240.81px,#002cff 0 244.30px,#0012ff 0 246.05px,#001eff 0 247.79px,#0015ff 0 249.54px,#0001ff 0 251.28px,#0023ff 0 253.03px,#0000ff 0 254.77px,#0000fb 0 256.52px,#000cff 0 258.26px,#0000f8 0 260.00px,#000cff 0 261.75px,#0009ff 0 263.50px,#001fff 0 265.24px,#0008ff 0 266.99px,#001aff 0 268.73px,#0017ff 0 270.48px,#000eff 0 272.22px,#0000fe 0 273.97px,#0002ff 0 275.71px,#0009ff 0 277.46px,#0005ff 0 279.20px,#000fff 0 280.94px,#0009ff 0 282.69px,#0001ff 0 284.44px,#000cff 0 286.18px,#001dff 0 287.93px,#0000fa 0 289.67px,#0000ff 0 291.42px,#0000f1 0 293.16px,#0000f4 0 294.91px,#0000f2 0 296.65px,#0002ff 0 298.40px,#0013ff 0 300.14px,#000dff 0 301.88px,#0018ff 0 303.63px,#0012ff 0 305.38px,#0007ff 0 308.87px,#0000ed 0 310.61px,#0000fd 0 312.36px,#0000f7 0 314.10px,#0007ff 0 315.85px,#0000ee 0 317.59px,#0003ff 0 319.34px,#0000fa 0 321.08px,#0000ff 0 322.83px,#0000fb 0 324.57px,#0000ee 0 326.31px,#0009ff 0 328.06px,#000cff 0 329.81px,#0003ff 0 331.55px,#0000ed 0 333.30px,#0002ff 0 335.04px,#000dff 0 336.79px,#0012ff 0 338.53px,#0008ff 0 340.28px,#0000e8 0 342.02px,#000cff 0 343.77px,#0003ff 0 345.51px,#0000f1 0 347.25px,#000dff 0 349.00px)"></div>
<div class="r" style="top:562px;background:linear-gradient(90deg,#800000 0 1.75px,#ff6300 0 3.49px,#39ffc6 0 5.24px,#0ffff0 0 6.98px,#00d2ff 0 8.73px,#009fff 0 10.47px,#0088ff 0 12.21px,#005dff 0 13.96px,#002eff 0 15.71px,#0019ff 0 17.45px,#001eff 0 19.20px,#000cff 0 20.94px,#0010ff 0 22.69px,#0000fd 0 24.43px,#0005ff 0 26.18px,#0000dd 0 27.92px,#0000e4 0 29.67px,#0000e1 0 31.41px,#0000df 0 33.16px,#0000e0 0 34.90px,#0000d5 0 36.65px,#0000d0 0 38.39px,#0000d5 0 40.14px,#0000d1 0 41.88px,#0000d7 0 43.62px,#0000de 0 45.37px,#0000c0 0 47.12px,#0000c9 0 48.86px,#0000db 0 50.61px,#0000c0 0 52.35px,#0000d8 0 54.10px,#0000bf 0 55.84px,#0000d3 0 57.59px,#0000d8 0 59.33px,#0000c5 0 61.08px,#0000ca 0 62.82px,#0000c4 0 64.56px,#0000d4 0 66.31px,#0000ce 0 68.06px,#0000d0 0 69.80px,#0000c7 0 71.55px,#0000cf 0 73.29px,#0000db 0 75.04px,#0000d5 0 76.78px,#0000da 0 78.53px,#0000c3 0 80.27px,#0000cc 0 82.02px,#0000c7 0 83.76px,#0000c6 0 85.51px,#0000d4 0 87.25px,#0000bf 0 89.00px,#0000cc 0 90.74px,#0000d3 0 92.48px,#0000d8 0 94.23px,#0000b9 0 95.98px,#0000c1 0 97.72px,#0000c9 0 99.47px,#0000d7 0 101.21px,#0000bd 0 102.96px,#0000d3 0 104.70px,#0000c4 0 106.45px,#0000c9 0 108.19px,#0000d5 0 109.94px,#0000b9 0 111.68px,#0000c1 0 113.43px,#0000bb 0 116.92px,#0000c0 0 118.66px,#0000cd 0 120.41px,#0000c8 0 122.15px,#0000b9 0 123.90px,#0000cf 0 125.64px,#0000c5 0 127.39px,#0000b9 0 129.13px,#0000cf 0 132.62px,#0000bb 0 134.37px,#0000d2 0 136.11px,#0000ce 0 137.86px,#0000bb 0 139.60px,#0000b3 0 141.34px,#0000cf 0 143.09px,#0000cd 0 144.84px,#0000b5 0 146.58px,#0000cb 0 150.07px,#0000c6 0 151.81px,#0000cd 0 153.56px,#0000d1 0 155.31px,#0000bc 0 157.05px,#0000cc 0 158.80px,#0000cf 0 160.54px,#0000bb 0 162.28px,#0000c6 0 165.78px,#0000cb 0 167.52px,#0000c2 0 169.27px,#0000b8 0 171.01px,#0000b7 0 172.76px,#0000c0 0 174.50px,#0000b3 0 176.25px,#0000ca 0 177.99px,#0000cb 0 179.74px,#0000b6 0 181.48px,#0000c4 0 183.23px,#0000c3 0 184.97px,#0000b1 0 186.72px,#0000c6 0 190.21px,#0000b6 0 191.95px,#0000af 0 193.70px,#0000b5 0 195.44px,#0000c5 0 197.19px,#0000bb 0 198.93px,#0000c6 0 200.68px,#0000b0 0 202.42px,#0000ae 0 204.17px,#0000b6 0 205.91px,#0000c7 0 207.66px,#0000af 0 209.40px,#0000ac 0 211.15px,#0000c2 0 212.89px,#0000ac 0 214.64px,#0000bf 0 216.38px,#0000ac 0 218.12px,#0000b1 0 219.87px,#0000be 0 221.62px,#0000c5 0 223.36px,#0000b5 0 225.11px,#0000b7 0 226.85px,#0000a9 0 228.60px,#0000b3 0 230.34px,#0000af 0 232.09px,#0000c1 0 233.83px,#0000be 0 235.58px,#0000c0 0 237.32px,#0000b8 0 239.07px,#0000bd 0 240.81px,#0000aa 0 242.56px,#0000b2 0 244.30px,#0000af 0 246.05px,#0000ae 0 247.79px,#0000bd 0 249.54px,#0000ac 0 251.28px,#0000af 0 253.03px,#0000ae 0 254.77px,#0000c0 0 256.52px,#0000b9 0 258.26px,#0000b3 0 260.00px,#0000b0 0 261.75px,#0000c1 0 263.50px,#0000c2 0 265.24px,#0000b1 0 266.99px,#0000b5 0 268.73px,#0000be 0 270.48px,#0000aa 0 273.97px,#0000a5 0 275.71px,#0000b2 0 277.46px,#0000ba 0 279.20px,#0000a6 0 280.94px,#0000af 0 282.69px,#0000c1 0 284.44px,#0000b0 0 286.18px,#0000ac 0 287.93px,#0000bb 0 289.67px,#0000bd 0 291.42px,#0000ac 0 293.16px,#0000a3 0 294.91px,#0000b4 0 296.65px,#0000b7 0 298.40px,#0000bd 0 300.14px,#0000b4 0 301.88px,#0000a8 0 303.63px,#0000af 0 305.38px,#0000a7 0 307.12px,#0000ac 0 310.61px,#0000bb 0 312.36px,#0000ba 0 314.10px,#0000bb 0 315.85px,#0000ac 0 317.59px,#0000bb 0 319.34px,#0000a0 0 321.08px,#0000ba 0 322.83px,#0000b0 0 324.57px,#0000b8 0 326.31px,#0000a8 0 328.06px,#0000bb 0 329.81px,#00009b 0 331.55px,#0000b6 0 333.30px,#0000b5 0 335.04px,#0000a6 0 336.79px,#0000b4 0 338.53px,#0000a0 0 340.28px,#0000b2 0 342.02px,#0000a8 0 343.77px,#0000a6 0 345.51px,#00009f 0 347.25px,#0000b2 0 349.00px)"></div>
<div class="r" style="top:610px;background:linear-gradient(90deg,#800000 0 8.73px,#d40000 0 10.47px,#ff9700 0 12.21px,#dfff20 0 13.96px,#80ff7f 0 15.71px,#31ffce 0 17.45px,#0efff1 0 19.20px,#00f9ff 0 20.94px,#00f3ff 0 22.69px,#0efff1 0 24.43px,#0ffff0 0 26.18px,#03fffc 0 27.92px,#23ffdc 0 29.67px,#00f9ff 0 31.41px,#00f2ff 0 33.16px,#00f3ff 0 34.90px,#00e0ff 0 36.65px,#0ffff0 0 38.39px,#00f4ff 0 40.14px,#00eeff 0 41.88px,#00e3ff 0 43.62px,#00d2ff 0 45.37px,#00caff 0 48.86px,#00bbff 0 50.61px,#00d2ff 0 52.35px,#00abff 0 54.10px,#0088ff 0 55.84px,#0072ff 0 57.59px,#006dff 0 59.33px,#0076ff 0 61.08px,#0083ff 0 64.56px,#0063ff 0 66.31px,#0075ff 0 68.06px,#0062ff 0 69.80px,#0061ff 0 71.55px,#005cff 0 73.29px,#0043ff 0 75.04px,#003fff 0 76.78px,#0054ff 0 78.53px,#0050ff 0 80.27px,#003eff 0 82.02px,#0050ff 0 83.76px,#0047ff 0 85.51px,#002dff 0 87.25px,#001eff 0 89.00px,#0030ff 0 90.74px,#0034ff 0 92.48px,#0022ff 0 94.23px,#001aff 0 95.98px,#002cff 0 97.72px,#0019ff 0 99.47px,#0036ff 0 101.21px,#0031ff 0 102.96px,#0022ff 0 104.70px,#0029ff 0 106.45px,#0020ff 0 108.19px,#001dff 0 111.68px,#0038ff 0 113.43px,#0028ff 0 115.17px,#0033ff 0 116.92px,#0023ff 0 118.66px,#0036ff 0 120.41px,#002dff 0 122.15px,#002fff 0 123.90px,#0024ff 0 125.64px,#002bff 0 127.39px,#001bff 0 129.13px,#003cff 0 130.88px,#002eff 0 132.62px,#0028ff 0 134.37px,#002dff 0 136.11px,#0015ff 0 137.86px,#001fff 0 139.60px,#001aff 0 141.34px,#0034ff 0 143.09px,#0011ff 0 144.84px,#0023ff 0 146.58px,#0034ff 0 148.33px,#0030ff 0 150.07px,#002dff 0 151.81px,#001bff 0 153.56px,#0018ff 0 155.31px,#002cff 0 157.05px,#001bff 0 158.80px,#002cff 0 160.54px,#001cff 0 162.28px,#002dff 0 164.03px,#0025ff 0 165.78px,#002fff 0 167.52px,#0036ff 0 169.27px,#001cff 0 171.01px,#0036ff 0 172.76px,#000cff 0 174.50px,#0030ff 0 176.25px,#000cff 0 177.99px,#0022ff 0 179.74px,#001bff 0 181.48px,#002bff 0 183.23px,#0017ff 0 184.97px,#0012ff 0 186.72px,#002aff 0 188.46px,#0020ff 0 190.21px,#0029ff 0 191.95px,#001dff 0 193.70px,#000aff 0 195.44px,#0029ff 0 197.19px,#0011ff 0 198.93px,#001bff 0 200.68px,#0007ff 0 202.42px,#0012ff 0 204.17px,#0023ff 0 205.91px,#0027ff 0 207.66px,#0021ff 0 209.40px,#0018ff 0 211.15px,#0024ff 0 212.89px,#0021ff 0 214.64px,#000eff 0 216.38px,#001bff 0 218.12px,#001eff 0 219.87px,#0023ff 0 221.62px,#000cff 0 223.36px,#0011ff 0 225.11px,#0012ff 0 226.85px,#0007ff 0 228.60px,#0011ff 0 230.34px,#0021ff 0 232.09px,#001bff 0 233.83px,#0009ff 0 235.58px,#0021ff 0 237.32px,#0006ff 0 239.07px,#0021ff 0 240.81px,#0007ff 0 242.56px,#0005ff 0 244.30px,#000bff 0 246.05px,#0016ff 0 247.79px,#000bff 0 249.54px,#0025ff 0 251.28px,#0027ff 0 253.03px,#000bff 0 254.77px,#001eff 0 256.52px,#001cff 0 258.26px,#0016ff 0 260.00px,#0009ff 0 261.75px,#0026ff 0 265.24px,#0000fc 0 266.99px,#000bff 0 268.73px,#000aff 0 270.48px,#0004ff 0 272.22px,#000eff 0 273.97px,#0022ff 0 275.71px,#0000fb 0 277.46px,#001eff 0 279.20px,#0008ff 0 280.94px,#0000fa 0 282.69px,#0020ff 0 284.44px,#0005ff 0 286.18px,#0003ff 0 287.93px,#0000fd 0 289.67px,#0009ff 0 291.42px,#0000fd 0 293.16px,#0000ff 0 294.91px,#0003ff 0 296.65px,#0011ff 0 298.40px,#000bff 0 300.14px,#0004ff 0 301.88px,#000dff 0 303.63px,#0018ff 0 305.38px,#0015ff 0 307.12px,#0005ff 0 308.87px,#001dff 0 310.61px,#0017ff 0 312.36px,#000dff 0 314.10px,#0009ff 0 315.85px,#0003ff 0 317.59px,#0000f9 0 319.34px,#001aff 0 321.08px,#000eff 0 322.83px,#0000f7 0 324.57px,#001bff 0 326.31px,#0019ff 0 328.06px,#0000f3 0 329.81px,#0010ff 0 331.55px,#0000fc 0 333.30px,#0009ff 0 335.04px,#0015ff 0 336.79px,#0001ff 0 338.53px,#0007ff 0 340.28px,#000dff 0 342.02px,#0000f8 0 343.77px,#000bff 0 345.51px,#0002ff 0 347.25px,#001aff 0 349.00px)"></div>
<div class="r" style="top:646px;background:linear-gradient(90deg,#000094 0 1.75px,#00009c 0 3.49px,#000092 0 5.24px,#000095 0 6.98px,#000093 0 10.47px,#000099 0 12.21px,#000094 0 13.96px,#00009e 0 15.71px,#000092 0 17.45px,#00009b 0 19.20px,#00009f 0 20.94px,#000093 0 22.69px,#000094 0 24.43px,#00009d 0 26.18px,#000099 0 27.92px,#0000a0 0 29.67px,#000096 0 31.41px,#000097 0 33.16px,#0000a0 0 34.90px,#000096 0 36.65px,#0000a1 0 38.39px,#00009f 0 40.14px,#000094 0 41.88px,#00009a 0 43.62px,#0000a0 0 45.37px,#000093 0 47.12px,#00009f 0 48.86px,#00009d 0 52.35px,#00009b 0 54.10px,#000092 0 55.84px,#0000a0 0 57.59px,#000093 0 59.33px,#00009e 0 61.08px,#00009d 0 62.82px,#000096 0 64.56px,#00009c 0 66.31px,#000098 0 68.06px,#00009d 0 69.80px,#000092 0 71.55px,#0000a0 0 73.29px,#000097 0 75.04px,#00009e 0 76.78px,#000099 0 78.53px,#00009e 0 80.27px,#000096 0 82.02px,#00009a 0 83.76px,#000091 0 85.51px,#000099 0 87.25px,#000092 0 89.00px,#00009f 0 90.74px,#00009c 0 92.48px,#000098 0 94.23px,#0000a1 0 95.98px,#0000a0 0 99.47px,#000092 0 101.21px,#00009c 0 102.96px,#00009d 0 104.70px,#00009b 0 106.45px,#000091 0 108.19px,#0000a0 0 109.94px,#000098 0 111.68px,#00009b 0 113.43px,#00009e 0 115.17px,#000095 0 116.92px,#000091 0 118.66px,#0000a0 0 120.41px,#000095 0 122.15px,#000092 0 123.90px,#000093 0 125.64px,#0000a1 0 127.39px,#00009d 0 129.13px,#000094 0 130.88px,#000093 0 132.62px,#00009f 0 134.37px,#00009c 0 136.11px,#00009a 0 137.86px,#000093 0 139.60px,#000098 0 141.34px,#0000a0 0 143.09px,#000091 0 144.84px,#000098 0 146.58px,#000092 0 148.33px,#0000a1 0 150.07px,#000093 0 151.81px,#0000a0 0 153.56px,#00009f 0 155.31px,#00009d 0 157.05px,#000092 0 158.80px,#00009c 0 160.54px,#000099 0 164.03px,#000093 0 165.78px,#000099 0 167.52px,#00009e 0 169.27px,#000093 0 171.01px,#00009f 0 172.76px,#000098 0 174.50px,#000095 0 177.99px,#000098 0 179.74px,#00009b 0 181.48px,#00009a 0 183.23px,#00009f 0 184.97px,#000099 0 188.46px,#0000a1 0 190.21px,#000094 0 191.95px,#000091 0 193.70px,#000096 0 197.19px,#000093 0 198.93px,#000098 0 200.68px,#000091 0 202.42px,#0000a0 0 204.17px,#000099 0 205.91px,#00009f 0 207.66px,#00009c 0 209.40px,#00009d 0 212.89px,#000096 0 214.64px,#00009d 0 216.38px,#000094 0 218.12px,#00009a 0 219.87px,#00009b 0 221.62px,#00009d 0 223.36px,#000094 0 225.11px,#000096 0 226.85px,#00009e 0 230.34px,#0000a1 0 232.09px,#000093 0 233.83px,#000094 0 235.58px,#000093 0 237.32px,#00009d 0 240.81px,#00009b 0 242.56px,#00009e 0 244.30px,#000099 0 246.05px,#00009a 0 247.79px,#0000a0 0 249.54px,#00009b 0 251.28px,#00009c 0 253.03px,#00009a 0 254.77px,#000099 0 256.52px,#00009d 0 258.26px,#00009a 0 260.00px,#000093 0 261.75px,#000098 0 266.99px,#00009a 0 268.73px,#000097 0 272.22px,#000098 0 273.97px,#000097 0 275.71px,#0000a1 0 277.46px,#000092 0 279.20px,#000091 0 280.94px,#00009d 0 282.69px,#000097 0 284.44px,#000098 0 286.18px,#00009a 0 287.93px,#000097 0 289.67px,#000095 0 291.42px,#000091 0 293.16px,#00009f 0 294.91px,#0000a0 0 296.65px,#000096 0 298.40px,#000098 0 300.14px,#000096 0 301.88px,#000092 0 303.63px,#00009f 0 305.38px,#00009e 0 307.12px,#000095 0 310.61px,#00009c 0 312.36px,#00009e 0 314.10px,#000099 0 315.85px,#000097 0 317.59px,#000095 0 319.34px,#00009e 0 321.08px,#00009f 0 324.57px,#000093 0 326.31px,#00009b 0 328.06px,#0000a1 0 329.81px,#00009d 0 331.55px,#000098 0 333.30px,#000093 0 335.04px,#000092 0 336.79px,#00009d 0 338.53px,#000092 0 340.28px,#00009e 0 342.02px,#00009c 0 343.77px,#000099 0 345.51px,#00009f 0 347.25px,#0000a0 0 349.00px)"></div>
<div class="r" style="top:652px;background:linear-gradient(90deg,#800000 0 12.21px,#900000 0 13.96px,#ff9500 0 15.71px,#ff7900 0 17.45px,#ff3600 0 19.20px,#ff9000 0 20.94px,#ff7400 0 22.69px,#ff0300 0 24.43px,#ffda00 0 26.18px,#ff3300 0 27.92px,#ffbb00 0 29.67px,#fa0000 0 31.41px,#ff0200 0 33.16px,#ffdb00 0 34.90px,#d3ff2c 0 36.65px,#2cffd3 0 38.39px,#88ff77 0 40.14px,#c9ff36 0 41.88px,#c8ff37 0 43.62px,#63ff9c 0 45.37px,#00f8ff 0 47.12px,#11ffee 0 48.86px,#9aff65 0 50.61px,#16ffe9 0 52.35px,#3dffc2 0 54.10px,#9dff62 0 55.84px,#f4ff0b 0 57.59px,#71ff8e 0 59.33px,#17ffe8 0 61.08px,#7eff81 0 62.82px,#13ffec 0 64.56px,#b3ff4c 0 66.31px,#00e1ff 0 68.06px,#00feff 0 69.80px,#35ffca 0 71.55px,#caff35 0 73.29px,#00d3ff 0 75.04px,#00d8ff 0 76.78px,#00c0ff 0 78.53px,#00d7ff 0 80.27px,#00faff 0 82.02px,#0bfff4 0 83.76px,#7eff81 0 85.51px,#06fff9 0 87.25px,#1affe5 0 89.00px,#00fbff 0 90.74px,#74ff8b 0 92.48px,#9aff65 0 94.23px,#00f9ff 0 95.98px,#98ff67 0 97.72px,#00b8ff 0 99.47px,#a3ff5c 0 101.21px,#0bfff4 0 102.96px,#3affc5 0 104.70px,#00d3ff 0 106.45px,#00acff 0 108.19px,#007bff 0 109.94px,#6dff92 0 111.68px,#00bdff 0 113.43px,#29ffd6 0 115.17px,#00d6ff 0 116.92px,#00e8ff 0 118.66px,#007bff 0 120.41px,#006eff 0 122.15px,#009eff 0 123.90px,#0bfff4 0 125.64px,#00d9ff 0 127.39px,#0024ff 0 129.13px,#08fff7 0 130.88px,#00a9ff 0 132.62px,#002eff 0 134.37px,#0068ff 0 136.11px,#0054ff 0 137.86px,#18ffe7 0 139.60px,#00baff 0 141.34px,#006dff 0 143.09px,#004fff 0 144.84px,#0059ff 0 146.58px,#0051ff 0 148.33px,#0062ff 0 150.07px,#00efff 0 151.81px,#00eaff 0 153.56px,#00c8ff 0 155.31px,#02fffd 0 157.05px,#0086ff 0 158.80px,#006bff 0 160.54px,#0064ff 0 165.78px,#006bff 0 167.52px,#0074ff 0 169.27px,#0066ff 0 171.01px,#005bff 0 172.76px,#004fff 0 174.50px,#006aff 0 176.25px,#005cff 0 177.99px,#0046ff 0 179.74px,#0039ff 0 181.48px,#005fff 0 183.23px,#0040ff 0 184.97px,#0058ff 0 186.72px,#0039ff 0 188.46px,#004eff 0 190.21px,#0041ff 0 191.95px,#0057ff 0 193.70px,#003dff 0 195.44px,#0034ff 0 197.19px,#0037ff 0 198.93px,#0050ff 0 200.68px,#0057ff 0 202.42px,#0048ff 0 204.17px,#0049ff 0 205.91px,#0037ff 0 207.66px,#0036ff 0 209.40px,#002dff 0 211.15px,#0053ff 0 212.89px,#002aff 0 214.64px,#0041ff 0 216.38px,#0035ff 0 218.12px,#002eff 0 219.87px,#0038ff 0 221.62px,#004cff 0 223.36px,#002eff 0 225.11px,#002aff 0 226.85px,#003dff 0 230.34px,#0036ff 0 232.09px,#0027ff 0 233.83px,#0044ff 0 235.58px,#0023ff 0 237.32px,#0025ff 0 239.07px,#0027ff 0 240.81px,#0032ff 0 242.56px,#002fff 0 244.30px,#0032ff 0 246.05px,#0038ff 0 247.79px,#003fff 0 249.54px,#002cff 0 251.28px,#001aff 0 253.03px,#003bff 0 254.77px,#0018ff 0 256.52px,#0024ff 0 258.26px,#001dff 0 260.00px,#0030ff 0 261.75px,#0037ff 0 263.50px,#001bff 0 265.24px,#0022ff 0 266.99px,#0039ff 0 268.73px,#0032ff 0 270.48px,#0019ff 0 272.22px,#0031ff 0 273.97px,#0035ff 0 275.71px,#0024ff 0 277.46px,#0019ff 0 279.20px,#002eff 0 280.94px,#0020ff 0 282.69px,#0017ff 0 284.44px,#0018ff 0 286.18px,#0022ff 0 287.93px,#0016ff 0 289.67px,#0021ff 0 291.42px,#0027ff 0 294.91px,#0020ff 0 296.65px,#0031ff 0 298.40px,#0012ff 0 300.14px,#001cff 0 301.88px,#0035ff 0 303.63px,#0032ff 0 305.38px,#0034ff 0 307.12px,#002dff 0 308.87px,#0023ff 0 310.61px,#002dff 0 312.36px,#0024ff 0 314.10px,#0010ff 0 315.85px,#0016ff 0 317.59px,#000fff 0 319.34px,#002fff 0 321.08px,#0017ff 0 322.83px,#001bff 0 324.57px,#0020ff 0 326.31px,#000dff 0 328.06px,#0026ff 0 329.81px,#002aff 0 331.55px,#0029ff 0 333.30px,#002dff 0 335.04px,#0014ff 0 336.79px,#000dff 0 338.53px,#0027ff 0 340.28px,#0023ff 0 342.02px,#0015ff 0 343.77px,#0014ff 0 345.51px,#000bff 0 347.25px,#0028ff 0 349.00px)"></div>
<div class="r" style="top:658px;background:linear-gradient(90deg,#800000 0 34.90px,#830000 0 36.65px,#870000 0 38.39px,#8a0000 0 40.14px,#8e0000 0 41.88px,#910000 0 43.62px,#880000 0 45.37px,#b60000 0 47.12px,#890000 0 48.86px,#ff2600 0 50.61px,#800000 0 52.35px,#ff2900 0 54.10px,#ff2100 0 55.84px,#800000 0 57.59px,#830000 0 59.33px,#d30000 0 61.08px,#fd0000 0 62.82px,#b40000 0 64.56px,#ffd800 0 66.31px,#ffea00 0 68.06px,#ffa400 0 69.80px,#f70000 0 71.55px,#ffc800 0 73.29px,#ff5100 0 75.04px,#ff0800 0 76.78px,#ffd400 0 78.53px,#ff6000 0 80.27px,#e90000 0 82.02px,#ff2100 0 83.76px,#ff9700 0 85.51px,#ff8100 0 87.25px,#ffc700 0 89.00px,#eb0000 0 90.74px,#ff2b00 0 92.48px,#ff5100 0 94.23px,#ffd000 0 95.98px,#ff4800 0 97.72px,#ff9d00 0 99.47px,#ff3c00 0 101.21px,#ffce00 0 102.96px,#ff2900 0 104.70px,#ff6e00 0 106.45px,#ffbe00 0 108.19px,#ff9e00 0 109.94px,#ff5400 0 111.68px,#ffb300 0 113.43px,#ff2c00 0 115.17px,#96ff69 0 116.92px,#ff4a00 0 118.66px,#ff8b00 0 120.41px,#ffda00 0 122.15px,#ff6900 0 123.90px,#abff54 0 125.64px,#e3ff1c 0 127.39px,#ffa500 0 129.13px,#ff8600 0 130.88px,#e0ff1f 0 132.62px,#ff5900 0 134.37px,#ffce00 0 136.11px,#66ff99 0 137.86px,#7aff85 0 139.60px,#65ff9a 0 141.34px,#fffc00 0 143.09px,#abff54 0 144.84px,#93ff6c 0 146.58px,#caff35 0 148.33px,#4dffb2 0 150.07px,#ffa700 0 151.81px,#ffc300 0 153.56px,#daff25 0 155.31px,#b0ff4f 0 157.05px,#7eff81 0 158.80px,#d9ff26 0 160.54px,#81ff7e 0 162.28px,#ffb500 0 164.03px,#ffc100 0 165.78px,#edff12 0 167.52px,#fff500 0 169.27px,#0ffff0 0 171.01px,#19ffe6 0 172.76px,#5dffa2 0 174.50px,#10ffef 0 176.25px,#6cff93 0 177.99px,#ffdf00 0 179.74px,#eaff15 0 181.48px,#ffee00 0 183.23px,#1dffe2 0 184.97px,#1bffe4 0 186.72px,#00d6ff 0 188.46px,#27ffd8 0 190.21px,#00dcff 0 191.95px,#75ff8a 0 193.70px,#28ffd7 0 195.44px,#9fff60 0 197.19px,#78ff87 0 198.93px,#81ff7e 0 200.68px,#1dffe2 0 202.42px,#a9ff56 0 204.17px,#97ff68 0 205.91px,#9dff62 0 207.66px,#4bffb4 0 209.40px,#46ffb9 0 211.15px,#0afff5 0 212.89px,#00b6ff 0 214.64px,#3fffc0 0 216.38px,#6eff91 0 218.12px,#00deff 0 219.87px,#b8ff47 0 221.62px,#bcff43 0 223.36px,#b1ff4e 0 225.11px,#a2ff5d 0 226.85px,#35ffca 0 228.60px,#00cbff 0 230.34px,#00e8ff 0 232.09px,#7eff81 0 233.83px,#cdff32 0 235.58px,#00acff 0 237.32px,#0087ff 0 239.07px,#00f6ff 0 240.81px,#00f2ff 0 242.56px,#41ffbe 0 244.30px,#00a0ff 0 246.05px,#8dff72 0 247.79px,#00e4ff 0 249.54px,#9eff61 0 251.28px,#00dfff 0 253.03px,#00d7ff 0 254.77px,#00acff 0 256.52px,#aeff51 0 258.26px,#33ffcc 0 260.00px,#7fff80 0 261.75px,#0084ff 0 263.50px,#21ffde 0 265.24px,#5fffa0 0 266.99px,#b0ff4f 0 268.73px,#a0ff5f 0 270.48px,#008eff 0 272.22px,#00e5ff 0 273.97px,#b2ff4d 0 275.71px,#1affe5 0 277.46px,#a3ff5c 0 279.20px,#00bbff 0 280.94px,#0070ff 0 282.69px,#9dff62 0 284.44px,#00bdff 0 286.18px,#1effe1 0 287.93px,#00dbff 0 289.67px,#22ffdd 0 291.42px,#95ff6a 0 293.16px,#99ff66 0 294.91px,#81ff7e 0 296.65px,#00b5ff 0 298.40px,#6eff91 0 300.14px,#0066ff 0 301.88px,#00e7ff 0 303.63px,#94ff6b 0 305.38px,#00b1ff 0 307.12px,#00d5ff 0 308.87px,#1bffe4 0 310.61px,#00a9ff 0 312.36px,#43ffbc 0 314.10px,#30ffcf 0 315.85px,#0079ff 0 317.59px,#86ff79 0 319.34px,#0070ff 0 321.08px,#3cffc3 0 322.83px,#00c9ff 0 324.57px,#0085ff 0 326.31px,#006fff 0 328.06px,#9bff64 0 329.81px,#5affa5 0 331.55px,#00e9ff 0 333.30px,#57ffa8 0 335.04px,#8fff70 0 336.79px,#81ff7e 0 338.53px,#00feff 0 340.28px,#00a9ff 0 342.02px,#00f8ff 0 343.77px,#90ff6f 0 345.51px,#3dffc2 0 347.25px,#28ffd7 0 349.00px)"></div>
<div class="r" style="top:670px;background:linear-gradient(90deg,#00009f 0 1.75px,#000098 0 3.49px,#00009a 0 5.24px,#00009f 0 6.98px,#000094 0 8.73px,#00009f 0 10.47px,#000091 0 12.21px,#00009a 0 15.71px,#000093 0 17.45px,#0000a0 0 19.20px,#000098 0 20.94px,#000094 0 22.69px,#000098 0 24.43px,#00009a 0 26.18px,#000098 0 27.92px,#000091 0 29.67px,#000092 0 31.41px,#00009c 0 33.16px,#000093 0 34.90px,#000095 0 36.65px,#00009e 0 38.39px,#00009f 0 41.88px,#000094 0 43.62px,#000091 0 45.37px,#00009d 0 47.12px,#00009b 0 48.86px,#000097 0 50.61px,#000091 0 52.35px,#000098 0 54.10px,#000095 0 55.84px,#00009a 0 57.59px,#0000a1 0 59.33px,#000094 0 61.08px,#000092 0 62.82px,#00009c 0 64.56px,#000093 0 66.31px,#000094 0 68.06px,#000098 0 69.80px,#0000a1 0 71.55px,#000096 0 75.04px,#000099 0 76.78px,#000093 0 78.53px,#000097 0 80.27px,#00009c 0 82.02px,#000096 0 83.76px,#00009e 0 85.51px,#000094 0 87.25px,#000092 0 89.00px,#00009b 0 90.74px,#000098 0 92.48px,#0000a0 0 94.23px,#000093 0 95.98px,#00009d 0 97.72px,#00009c 0 99.47px,#000097 0 101.21px,#000093 0 102.96px,#00009b 0 104.70px,#00009d 0 106.45px,#000099 0 109.94px,#00009c 0 111.68px,#00009b 0 113.43px,#000098 0 115.17px,#000094 0 116.92px,#000098 0 118.66px,#00009a 0 120.41px,#00009f 0 122.15px,#0000a1 0 123.90px,#00009a 0 125.64px,#000096 0 127.39px,#000094 0 129.13px,#00009b 0 130.88px,#00009d 0 132.62px,#000095 0 134.37px,#00009c 0 136.11px,#0000a1 0 137.86px,#000097 0 139.60px,#0000a0 0 141.34px,#000098 0 143.09px,#00009b 0 144.84px,#00009f 0 146.58px,#000094 0 148.33px,#000096 0 150.07px,#0000a1 0 151.81px,#000092 0 153.56px,#000096 0 155.31px,#000099 0 157.05px,#00009d 0 158.80px,#00009b 0 160.54px,#0000a0 0 162.28px,#00009c 0 164.03px,#000091 0 165.78px,#000092 0 167.52px,#000091 0 169.27px,#000098 0 171.01px,#000091 0 172.76px,#000099 0 174.50px,#00009b 0 176.25px,#000094 0 177.99px,#00009f 0 179.74px,#000098 0 181.48px,#0000a1 0 183.23px,#000097 0 184.97px,#00009b 0 186.72px,#00009a 0 188.46px,#000095 0 190.21px,#00009e 0 191.95px,#000091 0 193.70px,#000095 0 195.44px,#000096 0 197.19px,#00009f 0 198.93px,#000099 0 200.68px,#000091 0 202.42px,#000096 0 204.17px,#00009b 0 205.91px,#00009e 0 207.66px,#000093 0 209.40px,#00009e 0 211.15px,#000097 0 212.89px,#000099 0 214.64px,#000098 0 218.12px,#0000a1 0 219.87px,#0000a0 0 223.36px,#00009d 0 225.11px,#00009c 0 226.85px,#000093 0 228.60px,#000091 0 230.34px,#00009e 0 232.09px,#00009c 0 233.83px,#00009b 0 235.58px,#000096 0 237.32px,#000095 0 239.07px,#0000a0 0 240.81px,#00009a 0 242.56px,#000091 0 244.30px,#000096 0 246.05px,#000097 0 247.79px,#000092 0 249.54px,#0000a1 0 251.28px,#0000a0 0 253.03px,#00009e 0 254.77px,#000091 0 256.52px,#000098 0 258.26px,#000093 0 260.00px,#00009d 0 261.75px,#00009e 0 266.99px,#000093 0 268.73px,#000091 0 270.48px,#000092 0 272.22px,#00009f 0 273.97px,#00009e 0 275.71px,#000099 0 277.46px,#000095 0 279.20px,#00009f 0 280.94px,#000093 0 282.69px,#000096 0 284.44px,#000091 0 286.18px,#0000a1 0 287.93px,#000098 0 289.67px,#00009d 0 291.42px,#00009e 0 293.16px,#00009a 0 294.91px,#0000a1 0 296.65px,#00009d 0 298.40px,#0000a0 0 300.14px,#0000a1 0 301.88px,#000092 0 303.63px,#00009d 0 305.38px,#000095 0 307.12px,#000096 0 310.61px,#0000a1 0 312.36px,#000092 0 314.10px,#000098 0 315.85px,#000093 0 317.59px,#0000a1 0 319.34px,#000099 0 321.08px,#00009c 0 322.83px,#000099 0 324.57px,#00009d 0 326.31px,#000096 0 328.06px,#000098 0 329.81px,#00009d 0 331.55px,#00009c 0 333.30px,#00009f 0 335.04px,#000096 0 336.79px,#00009f 0 338.53px,#00009d 0 340.28px,#00009a 0 342.02px,#000098 0 343.77px,#00009a 0 345.51px,#000092 0 349.00px)"></div>
<div class="r" style="top:676px;background:linear-gradient(90deg,#800000 0 83.76px,#ff0f00 0 85.51px,#ff3300 0 87.25px,#ff4600 0 89.00px,#ff5400 0 90.74px,#ffa800 0 92.48px,#d60000 0 94.23px,#f50000 0 95.98px,#ff3a00 0 97.72px,#ffbf00 0 99.47px,#ff8700 0 101.21px,#dd0000 0 102.96px,#ff5600 0 104.70px,#ff9c00 0 106.45px,#ff0000 0 108.19px,#f10000 0 109.94px,#ffc000 0 111.68px,#ff6100 0 113.43px,#ff5600 0 115.17px,#ffcf00 0 116.92px,#ff9e00 0 118.66px,#ff5500 0 120.41px,#ff4b00 0 122.15px,#ff5b00 0 123.90px,#ff6200 0 125.64px,#ffa500 0 127.39px,#fffa00 0 129.13px,#f2ff0d 0 130.88px,#ff3a00 0 132.62px,#ff3700 0 134.37px,#ff3100 0 136.11px,#f0ff0f 0 137.86px,#ff5d00 0 139.60px,#fffd00 0 141.34px,#ffd400 0 143.09px,#fffe00 0 144.84px,#ff5600 0 146.58px,#ff6500 0 150.07px,#ffdf00 0 151.81px,#ff5300 0 153.56px,#f6ff09 0 155.31px,#ffba00 0 157.05px,#ffa400 0 158.80px,#e3ff1c 0 160.54px,#fff900 0 162.28px,#b8ff47 0 164.03px,#ff9500 0 165.78px,#c5ff3a 0 167.52px,#b4ff4b 0 169.27px,#d5ff2a 0 171.01px,#ffce00 0 172.76px,#ffd300 0 174.50px,#fff500 0 176.25px,#ffa300 0 177.99px,#ffc200 0 179.74px,#acff53 0 181.48px,#feff01 0 183.23px,#9cff63 0 184.97px,#adff52 0 186.72px,#91ff6e 0 188.46px,#7cff83 0 190.21px,#c1ff3e 0 191.95px,#ffb300 0 193.70px,#fff200 0 195.44px,#75ff8a 0 197.19px,#95ff6a 0 198.93px,#f3ff0c 0 200.68px,#e1ff1e 0 202.42px,#5bffa4 0 204.17px,#6aff95 0 205.91px,#e3ff1c 0 207.66px,#e9ff16 0 209.40px,#5fffa0 0 211.15px,#ffed00 0 212.89px,#83ff7c 0 214.64px,#dcff23 0 216.38px,#caff35 0 218.12px,#96ff69 0 219.87px,#ffcc00 0 221.62px,#9fff60 0 223.36px,#a4ff5b 0 225.11px,#c0ff3f 0 226.85px,#fff200 0 228.60px,#ffce00 0 230.34px,#f4ff0b 0 232.09px,#b5ff4a 0 233.83px,#e1ff1e 0 235.58px,#caff35 0 237.32px,#ffe200 0 240.81px,#e2ff1d 0 242.56px,#52ffad 0 244.30px,#abff54 0 246.05px,#87ff78 0 247.79px,#4effb1 0 249.54px,#ddff22 0 251.28px,#49ffb6 0 253.03px,#c8ff37 0 254.77px,#8eff71 0 256.52px,#7dff82 0 258.26px,#c5ff3a 0 260.00px,#c9ff36 0 261.75px,#fff100 0 263.50px,#fff000 0 265.24px,#d9ff26 0 266.99px,#4dffb2 0 268.73px,#b6ff49 0 270.48px,#87ff78 0 272.22px,#fbff04 0 273.97px,#79ff86 0 275.71px,#61ff9e 0 277.46px,#09fff6 0 279.20px,#7cff83 0 280.94px,#8cff73 0 282.69px,#50ffaf 0 284.44px,#1affe5 0 286.18px,#7cff83 0 287.93px,#0ffff0 0 289.67px,#29ffd6 0 291.42px,#6fff90 0 293.16px,#55ffaa 0 294.91px,#7cff83 0 296.65px,#83ff7c 0 298.40px,#5dffa2 0 300.14px,#1affe5 0 301.88px,#00faff 0 303.63px,#87ff78 0 305.38px,#f1ff0e 0 307.12px,#3dffc2 0 308.87px,#4effb1 0 310.61px,#45ffba 0 312.36px,#b2ff4d 0 314.10px,#70ff8f 0 315.85px,#bfff40 0 317.59px,#00eeff 0 319.34px,#10ffef 0 321.08px,#22ffdd 0 322.83px,#4cffb3 0 324.57px,#53ffac 0 326.31px,#4effb1 0 328.06px,#e5ff1a 0 329.81px,#5affa5 0 331.55px,#7dff82 0 333.30px,#e1ff1e 0 335.04px,#8dff72 0 336.79px,#7fff80 0 338.53px,#bcff43 0 340.28px,#3affc5 0 342.02px,#00eaff 0 343.77px,#dbff24 0 345.51px,#6bff94 0 347.25px,#77ff88 0 349.00px)"></div>
<div class="r" style="top:682px;background:linear-gradient(90deg,#800000 0 1.75px,#ff7400 0 3.49px,#b3ff4c 0 5.24px,#81ff7e 0 6.98px,#39ffc6 0 8.73px,#16ffe9 0 10.47px,#00d0ff 0 12.21px,#009aff 0 13.96px,#007bff 0 15.71px,#0040ff 0 17.45px,#0038ff 0 19.20px,#0035ff 0 20.94px,#003bff 0 22.69px,#0015ff 0 24.43px,#000eff 0 26.18px,#0018ff 0 27.92px,#0000f5 0 29.67px,#0000f6 0 31.41px,#0000f8 0 33.16px,#0000ec 0 34.90px,#0000e9 0 36.65px,#0000cd 0 38.39px,#0000e0 0 40.14px,#0000c9 0 41.88px,#0000d2 0 43.62px,#0000c1 0 45.37px,#0000c9 0 47.12px,#0000b5 0 48.86px,#0000ab 0 50.61px,#0000a7 0 52.35px,#0000b2 0 54.10px,#0000a4 0 55.84px,#0000a7 0 57.59px,#0000be 0 59.33px,#0000b5 0 61.08px,#0000be 0 62.82px,#0000a7 0 64.56px,#0000b1 0 68.06px,#0000a5 0 69.80px,#0000aa 0 71.55px,#0000bf 0 73.29px,#0000b9 0 75.04px,#0000b2 0 76.78px,#0000b5 0 78.53px,#0000bd 0 80.27px,#0000c0 0 82.02px,#0000b4 0 83.76px,#0000a3 0 85.51px,#0000bd 0 87.25px,#0000a6 0 89.00px,#0000a9 0 90.74px,#0000a5 0 92.48px,#0000b1 0 94.23px,#0000b4 0 95.98px,#0000b0 0 99.47px,#0000a5 0 101.21px,#0000b8 0 102.96px,#0000b2 0 104.70px,#0000aa 0 106.45px,#0000bb 0 108.19px,#0000bf 0 109.94px,#0000be 0 111.68px,#0000c0 0 113.43px,#0000a2 0 115.17px,#0000ad 0 116.92px,#0000af 0 118.66px,#0000a8 0 120.41px,#0000b8 0 122.15px,#0000bd 0 123.90px,#0000a4 0 125.64px,#0000b0 0 127.39px,#0000bf 0 129.13px,#0000bc 0 130.88px,#0000ae 0 132.62px,#0000a3 0 134.37px,#0000ae 0 136.11px,#0000b0 0 137.86px,#0000b9 0 139.60px,#0000a5 0 141.34px,#0000a8 0 143.09px,#0000bf 0 144.84px,#00009f 0 146.58px,#0000b3 0 148.33px,#0000a2 0 150.07px,#0000b7 0 151.81px,#0000ac 0 153.56px,#0000bd 0 155.31px,#0000a6 0 157.05px,#0000bb 0 158.80px,#0000a6 0 160.54px,#0000a0 0 162.28px,#0000a1 0 165.78px,#0000ab 0 167.52px,#0000be 0 169.27px,#0000aa 0 171.01px,#0000b5 0 172.76px,#00009f 0 174.50px,#0000af 0 177.99px,#0000a1 0 179.74px,#0000b1 0 181.48px,#0000ac 0 183.23px,#0000a8 0 184.97px,#0000b9 0 186.72px,#0000b4 0 188.46px,#0000a1 0 191.95px,#00009f 0 193.70px,#0000a6 0 195.44px,#0000b2 0 197.19px,#0000bd 0 200.68px,#0000b9 0 202.42px,#0000a1 0 204.17px,#0000b7 0 205.91px,#0000b6 0 207.66px,#0000ac 0 209.40px,#0000bd 0 211.15px,#0000b0 0 212.89px,#0000a0 0 214.64px,#0000a4 0 216.38px,#0000a1 0 218.12px,#0000b0 0 219.87px,#0000b1 0 221.62px,#0000b8 0 223.36px,#00009d 0 225.11px,#00009c 0 226.85px,#0000bc 0 228.60px,#0000a5 0 232.09px,#0000b8 0 233.83px,#0000a0 0 235.58px,#0000b6 0 237.32px,#0000b9 0 239.07px,#0000ae 0 240.81px,#0000af 0 242.56px,#00009c 0 244.30px,#0000af 0 247.79px,#0000b5 0 249.54px,#0000ac 0 251.28px,#00009f 0 253.03px,#0000a2 0 254.77px,#0000b0 0 256.52px,#00009e 0 258.26px,#00009f 0 260.00px,#0000a3 0 261.75px,#0000b5 0 263.50px,#0000ad 0 265.24px,#0000a6 0 266.99px,#0000ba 0 268.73px,#0000ae 0 270.48px,#0000a2 0 272.22px,#0000ad 0 273.97px,#0000b6 0 275.71px,#0000a6 0 277.46px,#0000a9 0 279.20px,#0000ad 0 280.94px,#0000ba 0 282.69px,#0000af 0 284.44px,#0000a0 0 286.18px,#0000ad 0 287.93px,#0000a5 0 289.67px,#0000a9 0 291.42px,#0000b1 0 293.16px,#00009b 0 294.91px,#0000aa 0 296.65px,#0000a4 0 298.40px,#0000ad 0 300.14px,#0000b4 0 301.88px,#0000a9 0 303.63px,#0000ae 0 305.38px,#0000a3 0 307.12px,#0000a2 0 308.87px,#0000aa 0 310.61px,#0000ab 0 312.36px,#0000a0 0 314.10px,#0000b2 0 315.85px,#0000a9 0 317.59px,#0000a5 0 319.34px,#0000a1 0 321.08px,#0000b4 0 322.83px,#0000b6 0 324.57px,#0000b7 0 326.31px,#0000a1 0 328.06px,#00009b 0 329.81px,#0000ad 0 331.55px,#000099 0 333.30px,#0000b4 0 335.04px,#0000af 0 336.79px,#0000a3 0 338.53px,#0000a7 0 340.28px,#0000af 0 342.02px,#00009d 0 343.77px,#0000a4 0 345.51px,#0000b2 0 347.25px,#0000ae 0 349.00px)"></div>
<div class="r" style="top:700px;background:linear-gradient(90deg,#800000 0 3.49px,#ff7700 0 5.24px,#bdff42 0 6.98px,#86ff79 0 8.73px,#77ff88 0 10.47px,#49ffb6 0 12.21px,#37ffc8 0 13.96px,#01fffe 0 15.71px,#00f3ff 0 17.45px,#00c6ff 0 19.20px,#00b2ff 0 20.94px,#0091ff 0 22.69px,#0083ff 0 24.43px,#0085ff 0 26.18px,#0060ff 0 27.92px,#0039ff 0 29.67px,#0037ff 0 31.41px,#001eff 0 33.16px,#001fff 0 34.90px,#001aff 0 36.65px,#0018ff 0 38.39px,#002bff 0 40.14px,#0024ff 0 41.88px,#0007ff 0 43.62px,#0004ff 0 45.37px,#0020ff 0 47.12px,#001bff 0 48.86px,#001dff 0 50.61px,#0017ff 0 52.35px,#0003ff 0 54.10px,#0014ff 0 55.84px,#0024ff 0 57.59px,#001aff 0 59.33px,#0002ff 0 61.08px,#0005ff 0 62.82px,#0026ff 0 64.56px,#0016ff 0 66.31px,#0006ff 0 68.06px,#001dff 0 69.80px,#0026ff 0 71.55px,#0023ff 0 73.29px,#0019ff 0 75.04px,#0020ff 0 76.78px,#0001ff 0 78.53px,#0011ff 0 80.27px,#001fff 0 82.02px,#000bff 0 83.76px,#0002ff 0 85.51px,#0021ff 0 87.25px,#0019ff 0 89.00px,#0000fb 0 90.74px,#0000fd 0 92.48px,#0012ff 0 94.23px,#0023ff 0 95.98px,#0014ff 0 97.72px,#001fff 0 99.47px,#0000fd 0 101.21px,#0012ff 0 102.96px,#0001ff 0 104.70px,#0007ff 0 106.45px,#0000fe 0 108.19px,#000cff 0 109.94px,#0000f9 0 111.68px,#0013ff 0 115.17px,#001dff 0 116.92px,#0017ff 0 118.66px,#0000f9 0 120.41px,#001bff 0 122.15px,#000dff 0 123.90px,#001dff 0 125.64px,#000aff 0 127.39px,#0000f7 0 129.13px,#0013ff 0 130.88px,#0000fb 0 132.62px,#001eff 0 134.37px,#000bff 0 136.11px,#001aff 0 137.86px,#0008ff 0 139.60px,#0001ff 0 141.34px,#000fff 0 143.09px,#0011ff 0 144.84px,#0006ff 0 146.58px,#0000fd 0 148.33px,#0003ff 0 150.07px,#0010ff 0 151.81px,#0000fa 0 153.56px,#0000f6 0 155.31px,#0005ff 0 157.05px,#000cff 0 158.80px,#0000f2 0 160.54px,#0000fa 0 162.28px,#0019ff 0 164.03px,#0000f9 0 165.78px,#0010ff 0 167.52px,#0000fa 0 169.27px,#0000f1 0 171.01px,#0003ff 0 172.76px,#0013ff 0 174.50px,#000eff 0 176.25px,#0000ee 0 177.99px,#000bff 0 179.74px,#0007ff 0 181.48px,#0001ff 0 183.23px,#0008ff 0 184.97px,#0002ff 0 186.72px,#0000f2 0 188.46px,#0009ff 0 190.21px,#0000ef 0 191.95px,#0000f7 0 193.70px,#000eff 0 195.44px,#0002ff 0 197.19px,#0000fe 0 198.93px,#0008ff 0 200.68px,#0000fd 0 202.42px,#0000f8 0 204.17px,#0000ff 0 205.91px,#0000e8 0 207.66px,#0000f6 0 209.40px,#0000e8 0 211.15px,#0012ff 0 212.89px,#000eff 0 214.64px,#0003ff 0 216.38px,#0000ec 0 218.12px,#000bff 0 219.87px,#0000f1 0 221.62px,#0008ff 0 223.36px,#0001ff 0 225.11px,#0000fe 0 226.85px,#0004ff 0 228.60px,#0000ef 0 230.34px,#0008ff 0 232.09px,#0000fa 0 233.83px,#0004ff 0 235.58px,#0007ff 0 237.32px,#0000ed 0 239.07px,#0000f3 0 240.81px,#0000f1 0 242.56px,#0000e5 0 244.30px,#0007ff 0 246.05px,#0000fe 0 247.79px,#0000f5 0 249.54px,#0000f7 0 251.28px,#0006ff 0 253.03px,#0000e3 0 254.77px,#0000ef 0 256.52px,#0000fc 0 258.26px,#0000f6 0 260.00px,#0000f4 0 261.75px,#0000e9 0 263.50px,#0000e7 0 265.24px,#0000fa 0 266.99px,#0000ec 0 268.73px,#0006ff 0 270.48px,#0004ff 0 272.22px,#0007ff 0 273.97px,#0000e8 0 275.71px,#0000f2 0 277.46px,#0000e0 0 279.20px,#0000eb 0 280.94px,#0000de 0 282.69px,#0000f0 0 284.44px,#0004ff 0 286.18px,#0000fb 0 287.93px,#0000e9 0 289.67px,#0000e5 0 291.42px,#0002ff 0 293.16px,#0000db 0 294.91px,#0000fd 0 298.40px,#0000db 0 300.14px,#0001ff 0 301.88px,#0000f3 0 303.63px,#0000e8 0 305.38px,#0000e9 0 307.12px,#0000f1 0 308.87px,#0000ed 0 310.61px,#0000fb 0 312.36px,#0000fc 0 314.10px,#0000e4 0 315.85px,#0000d6 0 317.59px,#0000f6 0 319.34px,#0000f0 0 322.83px,#0000d8 0 324.57px,#0000d7 0 326.31px,#0000fa 0 328.06px,#0000e3 0 329.81px,#0000e7 0 331.55px,#0000fc 0 333.30px,#0000db 0 335.04px,#0000ed 0 336.79px,#0000d5 0 338.53px,#0000ea 0 340.28px,#0000f1 0 342.02px,#0000d8 0 343.77px,#0000f1 0 345.51px,#0000fa 0 347.25px,#0000f3 0 349.00px)"></div>
<div class="r" style="top:718px;background:linear-gradient(90deg,#800000 0 3.49px,#ff5e00 0 5.24px,#ccff33 0 6.98px,#adff52 0 8.73px,#7fff80 0 10.47px,#4cffb3 0 12.21px,#2affd5 0 13.96px,#00eeff 0 15.71px,#00d6ff 0 17.45px,#00bfff 0 19.20px,#00c3ff 0 20.94px,#00a9ff 0 22.69px,#007bff 0 24.43px,#0087ff 0 26.18px,#004eff 0 27.92px,#003cff 0 29.67px,#0036ff 0 31.41px,#0019ff 0 33.16px,#002dff 0 34.90px,#0013ff 0 36.65px,#0014ff 0 38.39px,#0028ff 0 40.14px,#001aff 0 41.88px,#001eff 0 43.62px,#0015ff 0 45.37px,#0016ff 0 47.12px,#002bff 0 48.86px,#000eff 0 50.61px,#0018ff 0 52.35px,#0015ff 0 54.10px,#0007ff 0 57.59px,#0016ff 0 59.33px,#0022ff 0 61.08px,#0012ff 0 62.82px,#0002ff 0 64.56px,#0027ff 0 66.31px,#0005ff 0 68.06px,#0024ff 0 69.80px,#0000ff 0 71.55px,#001aff 0 73.29px,#0004ff 0 75.04px,#0009ff 0 76.78px,#000fff 0 78.53px,#001dff 0 80.27px,#000fff 0 82.02px,#000eff 0 83.76px,#000dff 0 85.51px,#0012ff 0 87.25px,#0007ff 0 89.00px,#0024ff 0 90.74px,#0003ff 0 92.48px,#0000ff 0 94.23px,#0012ff 0 95.98px,#0009ff 0 97.72px,#0018ff 0 99.47px,#0000fa 0 101.21px,#0016ff 0 102.96px,#0008ff 0 104.70px,#0020ff 0 106.45px,#0005ff 0 108.19px,#000bff 0 109.94px,#0005ff 0 111.68px,#000eff 0 113.43px,#0003ff 0 115.17px,#0013ff 0 116.92px,#0008ff 0 118.66px,#0014ff 0 120.41px,#0003ff 0 122.15px,#0009ff 0 123.90px,#000dff 0 125.64px,#0014ff 0 127.39px,#0011ff 0 129.13px,#0007ff 0 130.88px,#0000f7 0 132.62px,#0000f8 0 134.37px,#0000f9 0 136.11px,#0000fa 0 139.60px,#000fff 0 141.34px,#0001ff 0 143.09px,#0019ff 0 144.84px,#0000fb 0 148.33px,#0000f8 0 150.07px,#0000f6 0 151.81px,#000eff 0 153.56px,#0009ff 0 155.31px,#0000fa 0 157.05px,#0013ff 0 158.80px,#000dff 0 160.54px,#0002ff 0 162.28px,#0009ff 0 164.03px,#000bff 0 165.78px,#0002ff 0 167.52px,#0000f1 0 169.27px,#0000fd 0 171.01px,#0016ff 0 172.76px,#0000fd 0 174.50px,#0009ff 0 176.25px,#0000f0 0 177.99px,#000eff 0 179.74px,#0011ff 0 181.48px,#0000fb 0 184.97px,#0001ff 0 186.72px,#0000f5 0 188.46px,#0000f3 0 190.21px,#0000ef 0 191.95px,#0008ff 0 193.70px,#0000ff 0 195.44px,#0013ff 0 198.93px,#000fff 0 200.68px,#0011ff 0 202.42px,#000cff 0 204.17px,#0000e9 0 205.91px,#0000ed 0 207.66px,#0011ff 0 209.40px,#000dff 0 211.15px,#0002ff 0 212.89px,#0001ff 0 214.64px,#0000f8 0 218.12px,#0000ec 0 219.87px,#0000fc 0 221.62px,#0000f0 0 223.36px,#0000ea 0 225.11px,#000aff 0 226.85px,#0000fc 0 228.60px,#000aff 0 230.34px,#0000f0 0 232.09px,#0000fc 0 233.83px,#0000ef 0 235.58px,#0007ff 0 237.32px,#0000eb 0 239.07px,#0000fd 0 240.81px,#0000f9 0 242.56px,#0000ef 0 244.30px,#0000e4 0 246.05px,#0000f5 0 247.79px,#0000f7 0 249.54px,#0004ff 0 251.28px,#0000e9 0 253.03px,#0000e8 0 254.77px,#0000ec 0 256.52px,#0002ff 0 258.26px,#0000e9 0 260.00px,#0000f9 0 261.75px,#0000e0 0 263.50px,#0000e1 0 265.24px,#0000fc 0 266.99px,#0000f3 0 268.73px,#0000e2 0 270.48px,#0000f1 0 272.22px,#0005ff 0 273.97px,#0000ed 0 275.71px,#0000f4 0 277.46px,#0000ee 0 279.20px,#0000f1 0 280.94px,#0000dd 0 282.69px,#0001ff 0 284.44px,#0000f3 0 286.18px,#0000e9 0 287.93px,#0000e6 0 289.67px,#0000e2 0 291.42px,#0002ff 0 293.16px,#0000fd 0 294.91px,#0000e9 0 296.65px,#0000f2 0 298.40px,#0000f0 0 300.14px,#0000e1 0 301.88px,#0000d9 0 303.63px,#0000f7 0 305.38px,#0000de 0 307.12px,#0000ef 0 308.87px,#0000d7 0 312.36px,#0000dd 0 314.10px,#0000f2 0 315.85px,#0000f0 0 317.59px,#0000ff 0 319.34px,#0000f1 0 321.08px,#0000eb 0 322.83px,#0000d5 0 324.57px,#0000fd 0 326.31px,#0000e9 0 328.06px,#0000f8 0 329.81px,#0000d5 0 331.55px,#0000f6 0 333.30px,#0000e7 0 335.04px,#0000dc 0 336.79px,#0000e3 0 338.53px,#0000d5 0 340.28px,#0000ea 0 342.02px,#0000db 0 343.77px,#0000ef 0 345.51px,#0000d8 0 347.25px,#0000ee 0 349.00px)"></div>
<div class="r" style="top:730px;background:linear-gradient(90deg,#800000 0 13.96px,#e40000 0 15.71px,#ff6200 0 17.45px,#ffa600 0 19.20px,#ffb300 0 20.94px,#ffd600 0 22.69px,#fffd00 0 24.43px,#d2ff2d 0 26.18px,#d3ff2c 0 27.92px,#bcff43 0 29.67px,#b0ff4f 0 31.41px,#9dff62 0 33.16px,#7dff82 0 34.90px,#6dff92 0 36.65px,#6eff91 0 38.39px,#5bffa4 0 40.14px,#48ffb7 0 41.88px,#47ffb8 0 43.62px,#18ffe7 0 45.37px,#09fff6 0 47.12px,#0cfff3 0 48.86px,#00f3ff 0 50.61px,#0efff1 0 52.35px,#00edff 0 54.10px,#0afff5 0 55.84px,#00ecff 0 57.59px,#00e5ff 0 59.33px,#00faff 0 61.08px,#00f4ff 0 62.82px,#00e7ff 0 64.56px,#00ebff 0 66.31px,#00e6ff 0 68.06px,#00f2ff 0 69.80px,#00deff 0 71.55px,#00dcff 0 73.29px,#00d6ff 0 75.04px,#00d1ff 0 76.78px,#00d9ff 0 78.53px,#00bfff 0 80.27px,#00d3ff 0 82.02px,#00d9ff 0 83.76px,#00cfff 0 85.51px,#00c4ff 0 87.25px,#00b9ff 0 89.00px,#00acff 0 90.74px,#00a9ff 0 92.48px,#00b7ff 0 94.23px,#00c1ff 0 95.98px,#00beff 0 97.72px,#00a0ff 0 99.47px,#00b3ff 0 101.21px,#00b2ff 0 102.96px,#00a2ff 0 104.70px,#00aeff 0 106.45px,#0091ff 0 108.19px,#0093ff 0 109.94px,#0097ff 0 111.68px,#009dff 0 113.43px,#008fff 0 115.17px,#0086ff 0 116.92px,#0099ff 0 118.66px,#0083ff 0 120.41px,#0081ff 0 122.15px,#0076ff 0 123.90px,#007eff 0 125.64px,#0086ff 0 127.39px,#0077ff 0 129.13px,#0081ff 0 130.88px,#0079ff 0 132.62px,#0065ff 0 134.37px,#0088ff 0 136.11px,#006dff 0 137.86px,#0075ff 0 139.60px,#0084ff 0 141.34px,#0065ff 0 143.09px,#005eff 0 144.84px,#0062ff 0 146.58px,#005fff 0 148.33px,#0079ff 0 150.07px,#006aff 0 151.81px,#0056ff 0 153.56px,#005eff 0 155.31px,#0066ff 0 157.05px,#0057ff 0 158.80px,#005bff 0 160.54px,#0071ff 0 162.28px,#005dff 0 164.03px,#0054ff 0 165.78px,#0061ff 0 167.52px,#004cff 0 169.27px,#005bff 0 171.01px,#005eff 0 172.76px,#0047ff 0 174.50px,#0057ff 0 176.25px,#004dff 0 177.99px,#005cff 0 179.74px,#0056ff 0 181.48px,#0060ff 0 183.23px,#0053ff 0 184.97px,#0041ff 0 186.72px,#003fff 0 188.46px,#0052ff 0 190.21px,#0055ff 0 191.95px,#0036ff 0 193.70px,#0043ff 0 195.44px,#003cff 0 197.19px,#0042ff 0 198.93px,#0050ff 0 200.68px,#0043ff 0 202.42px,#0048ff 0 205.91px,#0033ff 0 207.66px,#003fff 0 209.40px,#0034ff 0 211.15px,#0037ff 0 214.64px,#003bff 0 216.38px,#0026ff 0 218.12px,#003fff 0 219.87px,#0023ff 0 221.62px,#0028ff 0 223.36px,#003bff 0 225.11px,#003fff 0 226.85px,#0026ff 0 228.60px,#003bff 0 230.34px,#0016ff 0 232.09px,#0038ff 0 233.83px,#0019ff 0 235.58px,#0012ff 0 237.32px,#002dff 0 239.07px,#0014ff 0 240.81px,#0029ff 0 242.56px,#000bff 0 244.30px,#000eff 0 246.05px,#0016ff 0 247.79px,#0009ff 0 249.54px,#0018ff 0 251.28px,#0013ff 0 253.03px,#0022ff 0 254.77px,#0018ff 0 256.52px,#002aff 0 258.26px,#0025ff 0 260.00px,#000aff 0 261.75px,#0027ff 0 263.50px,#0026ff 0 265.24px,#0019ff 0 266.99px,#0017ff 0 268.73px,#0008ff 0 270.48px,#000eff 0 272.22px,#000aff 0 273.97px,#0008ff 0 275.71px,#0018ff 0 277.46px,#000dff 0 279.20px,#001eff 0 280.94px,#0016ff 0 282.69px,#001fff 0 284.44px,#0002ff 0 286.18px,#001fff 0 287.93px,#0012ff 0 289.67px,#0016ff 0 291.42px,#0006ff 0 293.16px,#0018ff 0 294.91px,#000cff 0 296.65px,#0018ff 0 298.40px,#0013ff 0 300.14px,#0001ff 0 301.88px,#0007ff 0 303.63px,#0018ff 0 305.38px,#0000fa 0 307.12px,#0013ff 0 308.87px,#000fff 0 310.61px,#0015ff 0 312.36px,#0006ff 0 314.10px,#000bff 0 317.59px,#0015ff 0 319.34px,#0000f9 0 321.08px,#000bff 0 322.83px,#0001ff 0 324.57px,#000dff 0 326.31px,#0000ff 0 328.06px,#0000fd 0 331.55px,#0018ff 0 333.30px,#0003ff 0 335.04px,#0017ff 0 336.79px,#0011ff 0 338.53px,#0000fd 0 340.28px,#0009ff 0 342.02px,#0000f2 0 343.77px,#0017ff 0 345.51px,#000bff 0 347.25px,#0000f5 0 349.00px)"></div>
<div class="r" style="top:754px;background:linear-gradient(90deg,#000099 0 3.49px,#00009c 0 5.24px,#000096 0 6.98px,#0000a0 0 8.73px,#00009b 0 10.47px,#000092 0 12.21px,#00009e 0 13.96px,#00009f 0 15.71px,#000096 0 17.45px,#00009c 0 19.20px,#00009f 0 22.69px,#000092 0 24.43px,#00009e 0 26.18px,#000095 0 27.92px,#00009e 0 29.67px,#00009c 0 31.41px,#000098 0 33.16px,#0000a0 0 34.90px,#00009e 0 36.65px,#0000a1 0 38.39px,#0000a0 0 40.14px,#00009a 0 41.88px,#00009d 0 43.62px,#00009c 0 45.37px,#000097 0 47.12px,#000099 0 50.61px,#000094 0 52.35px,#000095 0 54.10px,#00009f 0 57.59px,#00009c 0 61.08px,#000099 0 62.82px,#00009a 0 64.56px,#00009c 0 66.31px,#000091 0 68.06px,#000098 0 69.80px,#0000a1 0 71.55px,#000094 0 73.29px,#000098 0 75.04px,#000092 0 76.78px,#000095 0 78.53px,#00009e 0 80.27px,#000091 0 82.02px,#00009e 0 85.51px,#00009f 0 87.25px,#000095 0 89.00px,#0000a0 0 90.74px,#000097 0 92.48px,#000098 0 94.23px,#0000a0 0 95.98px,#00009a 0 97.72px,#00009c 0 99.47px,#000093 0 101.21px,#000091 0 102.96px,#000095 0 104.70px,#000093 0 106.45px,#00009e 0 108.19px,#000095 0 109.94px,#0000a0 0 111.68px,#00009c 0 113.43px,#000094 0 115.17px,#00009c 0 116.92px,#000096 0 118.66px,#000099 0 120.41px,#000092 0 122.15px,#00009e 0 125.64px,#00009a 0 127.39px,#00009c 0 129.13px,#000096 0 130.88px,#000093 0 132.62px,#000096 0 134.37px,#00009d 0 136.11px,#00009a 0 137.86px,#000093 0 139.60px,#000095 0 141.34px,#000099 0 143.09px,#000091 0 144.84px,#000092 0 146.58px,#000098 0 148.33px,#000093 0 150.07px,#00009f 0 151.81px,#000093 0 153.56px,#00009d 0 155.31px,#00009e 0 157.05px,#000096 0 158.80px,#00009a 0 160.54px,#0000a1 0 162.28px,#00009b 0 164.03px,#000097 0 165.78px,#0000a1 0 167.52px,#000095 0 169.27px,#0000a0 0 171.01px,#000096 0 172.76px,#000098 0 174.50px,#000096 0 176.25px,#00009b 0 177.99px,#00009f 0 179.74px,#00009c 0 181.48px,#000094 0 183.23px,#0000a1 0 184.97px,#00009d 0 186.72px,#000099 0 188.46px,#00009f 0 190.21px,#000093 0 191.95px,#00009b 0 193.70px,#00009e 0 197.19px,#00009c 0 198.93px,#000092 0 200.68px,#000099 0 202.42px,#000095 0 204.17px,#00009b 0 205.91px,#000097 0 207.66px,#000098 0 209.40px,#00009a 0 212.89px,#00009f 0 214.64px,#000095 0 218.12px,#000094 0 219.87px,#000093 0 221.62px,#00009f 0 223.36px,#0000a0 0 225.11px,#000093 0 226.85px,#000097 0 228.60px,#0000a0 0 230.34px,#00009f 0 232.09px,#0000a1 0 235.58px,#000096 0 237.32px,#000092 0 239.07px,#000095 0 240.81px,#000099 0 242.56px,#000091 0 244.30px,#000095 0 246.05px,#000099 0 247.79px,#00009c 0 249.54px,#000093 0 253.03px,#000096 0 254.77px,#000092 0 256.52px,#000093 0 260.00px,#00009e 0 261.75px,#00009f 0 263.50px,#000092 0 265.24px,#00009e 0 266.99px,#00009f 0 268.73px,#00009b 0 270.48px,#000096 0 272.22px,#00009e 0 273.97px,#000092 0 277.46px,#0000a0 0 279.20px,#000094 0 280.94px,#0000a0 0 282.69px,#00009d 0 284.44px,#000092 0 287.93px,#00009b 0 289.67px,#000093 0 291.42px,#00009c 0 294.91px,#000095 0 296.65px,#000099 0 298.40px,#000094 0 300.14px,#00009f 0 301.88px,#00009b 0 303.63px,#00009c 0 305.38px,#00009b 0 307.12px,#000092 0 308.87px,#00009f 0 310.61px,#00009e 0 312.36px,#000099 0 314.10px,#00009a 0 315.85px,#000099 0 317.59px,#00009d 0 319.34px,#00009a 0 321.08px,#000095 0 322.83px,#000099 0 324.57px,#000094 0 326.31px,#000091 0 328.06px,#000099 0 329.81px,#00009f 0 331.55px,#00009d 0 333.30px,#000094 0 335.04px,#000099 0 336.79px,#00009a 0 340.28px,#000098 0 342.02px,#000099 0 343.77px,#00009c 0 345.51px,#00009f 0 347.25px,#000099 0 349.00px)"></div>
<div class="r" style="top:766px;background:linear-gradient(90deg,#ff1000 0 1.75px,#00b8ff 0 3.49px,#0068ff 0 5.24px,#005dff 0 6.98px,#0050ff 0 8.73px,#003fff 0 10.47px,#002aff 0 12.21px,#000aff 0 13.96px,#0008ff 0 15.71px,#0000eb 0 17.45px,#0000d9 0 19.20px,#0000de 0 20.94px,#0000e0 0 22.69px,#0000c1 0 24.43px,#0000ca 0 26.18px,#0000cf 0 27.92px,#0000b6 0 29.67px,#0000c0 0 31.41px,#0000b8 0 33.16px,#0000a2 0 34.90px,#00009d 0 36.65px,#0000b2 0 38.39px,#0000a5 0 40.14px,#0000a3 0 41.88px,#0000a7 0 43.62px,#0000af 0 45.37px,#0000b5 0 48.86px,#0000b0 0 50.61px,#00009d 0 52.35px,#0000a3 0 54.10px,#000098 0 55.84px,#00009e 0 57.59px,#0000a2 0 59.33px,#00009d 0 61.08px,#0000a7 0 62.82px,#00009b 0 64.56px,#0000ac 0 66.31px,#0000a4 0 68.06px,#00009f 0 69.80px,#0000ad 0 71.55px,#0000a1 0 73.29px,#000097 0 75.04px,#0000b2 0 76.78px,#0000af 0 78.53px,#0000b3 0 80.27px,#0000a0 0 82.02px,#00009f 0 83.76px,#0000ad 0 85.51px,#00009b 0 87.25px,#0000b6 0 89.00px,#0000ab 0 90.74px,#0000a8 0 92.48px,#000098 0 94.23px,#00009f 0 95.98px,#0000a4 0 97.72px,#0000b6 0 99.47px,#00009b 0 101.21px,#0000a9 0 102.96px,#000098 0 104.70px,#0000b5 0 106.45px,#0000ae 0 108.19px,#0000b0 0 109.94px,#0000ae 0 111.68px,#00009b 0 113.43px,#00009d 0 115.17px,#000097 0 116.92px,#0000a7 0 118.66px,#000098 0 120.41px,#00009b 0 123.90px,#0000b3 0 125.64px,#0000af 0 127.39px,#00009e 0 129.13px,#0000b5 0 130.88px,#00009a 0 132.62px,#000099 0 134.37px,#0000a1 0 136.11px,#0000af 0 137.86px,#000098 0 139.60px,#0000ae 0 141.34px,#0000a6 0 143.09px,#0000ae 0 144.84px,#00009f 0 146.58px,#000096 0 148.33px,#000097 0 150.07px,#0000ac 0 151.81px,#0000a5 0 153.56px,#0000ad 0 155.31px,#00009b 0 157.05px,#00009d 0 158.80px,#00009b 0 160.54px,#0000b0 0 162.28px,#0000ab 0 164.03px,#000099 0 165.78px,#0000ab 0 167.52px,#000095 0 169.27px,#0000a3 0 171.01px,#00009c 0 172.76px,#0000ac 0 174.50px,#0000ab 0 176.25px,#0000aa 0 177.99px,#00009a 0 179.74px,#000095 0 181.48px,#0000a8 0 183.23px,#0000aa 0 184.97px,#000093 0 186.72px,#0000ae 0 188.46px,#0000b0 0 190.21px,#00009f 0 191.95px,#0000a4 0 193.70px,#0000a8 0 195.44px,#0000b1 0 197.19px,#0000a8 0 198.93px,#0000a3 0 200.68px,#0000ac 0 202.42px,#0000a2 0 204.17px,#000094 0 205.91px,#0000a4 0 207.66px,#0000a0 0 209.40px,#00009d 0 211.15px,#00009f 0 212.89px,#000099 0 214.64px,#00009c 0 216.38px,#0000aa 0 218.12px,#0000af 0 219.87px,#0000a1 0 221.62px,#0000ad 0 223.36px,#000096 0 225.11px,#0000a3 0 226.85px,#0000aa 0 228.60px,#0000ab 0 230.34px,#00009e 0 232.09px,#000097 0 233.83px,#0000b1 0 235.58px,#0000a5 0 237.32px,#0000a7 0 239.07px,#00009d 0 240.81px,#000095 0 242.56px,#0000a4 0 244.30px,#00009e 0 246.05px,#0000ae 0 247.79px,#0000a7 0 249.54px,#0000aa 0 251.28px,#0000a4 0 253.03px,#0000a9 0 254.77px,#000095 0 256.52px,#0000b1 0 258.26px,#0000a4 0 261.75px,#000097 0 263.50px,#000093 0 265.24px,#0000a7 0 266.99px,#0000a8 0 268.73px,#0000a6 0 270.48px,#000099 0 272.22px,#0000a0 0 273.97px,#0000a9 0 275.71px,#0000a5 0 277.46px,#0000ae 0 279.20px,#000093 0 280.94px,#0000a9 0 282.69px,#000090 0 284.44px,#0000a4 0 286.18px,#0000a1 0 287.93px,#000092 0 289.67px,#00009d 0 291.42px,#0000a5 0 293.16px,#0000ac 0 294.91px,#000092 0 296.65px,#0000a0 0 298.40px,#0000a9 0 300.14px,#000093 0 301.88px,#0000ac 0 303.63px,#0000ae 0 305.38px,#00009a 0 307.12px,#000096 0 308.87px,#000094 0 310.61px,#000096 0 312.36px,#00009d 0 314.10px,#0000a6 0 315.85px,#0000ad 0 317.59px,#0000a1 0 319.34px,#0000ae 0 321.08px,#00009d 0 322.83px,#0000a4 0 324.57px,#00008f 0 326.31px,#00009c 0 328.06px,#00008f 0 329.81px,#000093 0 331.55px,#0000a9 0 333.30px,#000092 0 335.04px,#000098 0 336.79px,#00009f 0 340.28px,#00008f 0 342.02px,#000092 0 343.77px,#0000a4 0 345.51px,#00009b 0 347.25px,#000091 0 349.00px)"></div>
<div class="k" style="left:51px;top:64px;width:349px"></div>
<div class="g" style="left:50px;top:64px;height:720px"></div>
<div class="g" style="left:67px;top:64px;height:720px"></div>
<div class="g" style="left:85px;top:64px;height:720px"></div>
<div class="g" style="left:102px;top:64px;height:720px"></div>
<div class="g" style="left:120px;top:64px;height:720px"></div>
<div class="g" style="left:137px;top:64px;height:720px"></div>
<div class="g" style="left:155px;top:64px;height:720px"></div>
<div class="g" style="left:172px;top:64px;height:720px"></div>
<div class="g" style="left:190px;top:64px;height:720px"></div>
<div class="g" style="left:207px;top:64px;height:720px"></div>
<div class="g" style="left:225px;top:64px;height:720px"></div>
<div class="g" style="left:242px;top:64px;height:720px"></div>
<div class="g" style="left:260px;top:64px;height:720px"></div>
<div class="g" style="left:277px;top:64px;height:720px"></div>
<div class="g" style="left:295px;top:64px;height:720px"></div>
<div class="g" style="left:312px;top:64px;height:720px"></div>
<div class="g" style="left:330px;top:64px;height:720px"></div>
<div class="g" style="left:347px;top:64px;height:720px"></div>
<div class="g" style="left:365px;top:64px;height:720px"></div>
<div class="g" style="left:382px;top:64px;height:720px"></div>
<div class="g" style="left:400px;top:64px;height:720px"></div>
<div class="k" style="left:38px;top:64px;width:12px"></div>
<div class="k" style="left:401px;top:64px;width:12px"></div>
<div class="k" style="left:44px;top:70px;width:6px"></div>
<div class="k" style="left:401px;top:70px;width:6px"></div>
<div class="k" style="left:44px;top:76px;width:6px"></div>
<div class="k" style="left:401px;top:76px;width:6px"></div>
<div class="k" style="left:44px;top:82px;width:6px"></div>
<div class="k" style="left:401px;top:82px;width:6px"></div>
<div class="k" style="left:44px;top:88px;width:6px"></div>
<div class="k" style="left:401px;top:88px;width:6px"></div>
<div class="k" style="left:44px;top:94px;width:6px"></div>
<div class="k" style="left:401px;top:94px;width:6px"></div>
<div class="k" style="left:44px;top:100px;width:6px"></div>
<div class="k" style="left:401px;top:100px;width:6px"></div>
<div class="k" style="left:44px;top:106px;width:6px"></div>
<div class="k" style="left:401px;top:106px;width:6px"></div>
<div class="k" style="left:44px;top:112px;width:6px"></div>
<div class="k" style="left:401px;top:112px;width:6px"></div>
<div class="k" style="left:44px;top:118px;width:6px"></div>
<div class="k" style="left:401px;top:118px;width:6px"></div>
<div class="k" style="left:38px;top:124px;width:12px"></div>
<div class="k" style="left:401px;top:124px;width:12px"></div>
<div class="k" style="left:44px;top:130px;width:6px"></div>
<div class="k" style="left:401px;top:130px;width:6px"></div>
<div class="k" style="left:44px;top:136px;width:6px"></div>
<div class="k" style="left:401px;top:136px;width:6px"></div>
<div class="k" style="left:44px;top:142px;width:6px"></div>
<div class="k" style="left:401px;top:142px;width:6px"></div>
<div class="k" style="left:44px;top:148px;width:6px"></div>
<div class="k" style="left:401px;top:148px;width:6px"></div>
<div class="k" style="left:44px;top:154px;width:6px"></div>
<div class="k" style="left:401px;top:154px;width:6px"></div>
<div class="k" style="left:44px;top:160px;width:6px"></div>
<div class="k" style="left:401px;top:160px;width:6px"></div>
<div class="k" style="left:44px;top:166px;width:6px"></div>
<div class="k" style="left:401px;top:166px;width:6px"></div>
<div class="k" style="left:44px;top:172px;width:6px"></div>
<div class="k" style="left:401px;top:172px;width:6px"></div>
<div class="k" style="left:44px;top:178px;width:6px"></div>
<div class="k" style="left:401px;top:178px;width:6px"></div>
<div class="k" style="left:38px;top:184px;width:12px"></div>
<div class="k" style="left:401px;top:184px;width:12px"></div>
<div class="k" style="left:44px;top:190px;width:6px"></div>
<div class="k" style="left:401px;top:190px;width:6px"></div>
<div class="k" style="left:44px;top:196px;width:6px"></div>
<div class="k" style="left:401px;top:196px;width:6px"></div>
<div class="k" style="left:44px;top:202px;width:6px"></div>
<div class="k" style="left:401px;top:202px;width:6px"></div>
<div class="k" style="left:44px;top:208px;width:6px"></div>
<div class="k" style="left:401px;top:208px;width:6px"></div>
<div class="k" style="left:44px;top:214px;width:6px"></div>
<div class="k" style="left:401px;top:214px;width:6px"></div>
<div class="k" style="left:44px;top:220px;width:6px"></div>
<div class="k" style="left:401px;top:220px;width:6px"></div>
<div class="k" style="left:44px;top:226px;width:6px"></div>
<div class="k" style="left:401px;top:226px;width:6px"></div>
<div class="k" style="left:44px;top:232px;width:6px"></div>
<div class="k" style="left:401px;top:232px;width:6px"></div>
<div class="k" style="left:44px;top:238px;width:6px"></div>
<div class="k" style="left:401px;top:238px;width:6px"></div>
<div class="k" style="left:38px;top:244px;width:12px"></div>
<div class="k" style="left:401px;top:244px;width:12px"></div>
<div class="k" style="left:44px;top:250px;width:6px"></div>
<div class="k" style="left:401px;top:250px;width:6px"></div>
<div class="k" style="left:44px;top:256px;width:6px"></div>
<div class="k" style="left:401px;top:256px;width:6px"></div>
<div class="k" style="left:44px;top:262px;width:6px"></div>
<div class="k" style="left:401px;top:262px;width:6px"></div>
<div class="k" style="left:44px;top:268px;width:6px"></div>
<div class="k" style="left:401px;top:268px;width:6px"></div>
<div class="k" style="left:44px;top:274px;width:6px"></div>
<div class="k" style="left:401px;top:274px;width:6px"></div>
<div class="k" style="left:44px;top:280px;width:6px"></div>
<div class="k" style="left:401px;top:280px;width:6px"></div>
<div class="k" style="left:44px;top:286px;width:6px"></div>
<div class="k" style="left:401px;top:286px;width:6px"></div>
<div class="k" style="left:44px;top:292px;width:6px"></div>
<div class="k" style="left:401px;top:292px;width:6px"></div>
<div class="k" style="left:44px;top:298px;width:6px"></div>
<div class="k" style="left:401px;top:298px;width:6px"></div>
<div class="k" style="left:38px;top:304px;width:12px"></div>
<div class="k" style="left:401px;top:304px;width:12px"></div>
<div class="k" style="left:44px;top:310px;width:6px"></div>
<div class="k" style="left:401px;top:310px;width:6px"></div>
<div class="k" style="left:44px;top:316px;width:6px"></div>
<div class="k" style="left:401px;top:316px;width:6px"></div>
<div class="k" style="left:44px;top:322px;width:6px"></div>
<div class="k" style="left:401px;top:322px;width:6px"></div>
<div class="k" style="left:44px;top:328px;width:6px"></div>
<div class="k" style="left:401px;top:328px;width:6px"></div>
<div class="k" style="left:44px;top:334px;width:6px"></div>
<div class="k" style="left:401px;top:334px;width:6px"></div>
<div class="k" style="left:44px;top:340px;width:6px"></div>
<div class="k" style="left:401px;top:340px;width:6px"></div>
<div class="k" style="left:44px;top:346px;width:6px"></div>
<div class="k" style="left:401px;top:346px;width:6px"></div>
<div class="k" style="left:44px;top:352px;width:6px"></div>
<div class="k" style="left:401px;top:352px;width:6px"></div>
<div class="k" style="left:44px;top:358px;width:6px"></div>
<div class="k" style="left:401px;top:358px;width:6px"></div>
<div class="k" style="left:38px;top:364px;width:12px"></div>
<div class="k" style="left:401px;top:364px;width:12px"></div>
<div class="k" style="left:44px;top:370px;width:6px"></div>
<div class="k" style="left:401px;top:370px;width:6px"></div>
<div class="k" style="left:44px;top:376px;width:6px"></div>
<div class="k" style="left:401px;top:376px;width:6px"></div>
<div class="k" style="left:44px;top:382px;width:6px"></div>
<div class="k" style="left:401px;top:382px;width:6px"></div>
<div class="k" style="left:44px;top:388px;width:6px"></div>
<div class="k" style="left:401px;top:388px;width:6px"></div>
<div class="k" style="left:44px;top:394px;width:6px"></div>
<div class="k" style="left:401px;top:394px;width:6px"></div>
<div class="k" style="left:44px;top:400px;width:6px"></div>
<div class="k" style="left:401px;top:400px;width:6px"></div>
<div class="k" style="left:44px;top:406px;width:6px"></div>
<div class="k" style="left:401px;top:406px;width:6px"></div>
<div class="k" style="left:44px;top:412px;width:6px"></div>
<div class="k" style="left:401px;top:412px;width:6px"></div>
<div class="k" style="left:44px;top:418px;width:6px"></div>
<div class="k" style="left:401px;top:418px;width:6px"></div>
<div class="k" style="left:38px;top:424px;width:12px"></div>
<div class="k" style="left:401px;top:424px;width:12px"></div>
<div class="k" style="left:44px;top:430px;width:6px"></div>
<div class="k" style="left:401px;top:430px;width:6px"></div>
<div class="k" style="left:44px;top:436px;width:6px"></div>
<div class="k" style="left:401px;top:436px;width:6px"></div>
<div class="k" style="left:44px;top:442px;width:6px"></div>
<div class="k" style="left:401px;top:442px;width:6px"></div>
<div class="k" style="left:44px;top:448px;width:6px"></div>
<div class="k" style="left:401px;top:448px;width:6px"></div>
<div class="k" style="left:44px;top:454px;width:6px"></div>
<div class="k" style="left:401px;top:454px;width:6px"></div>
<div class="k" style="left:44px;top:460px;width:6px"></div>
<div class="k" style="left:401px;top:460px;width:6px"></div>
<div class="k" style="left:44px;top:466px;width:6px"></div>
<div class="k" style="left:401px;top:466px;width:6px"></div>
<div class="k" style="left:44px;top:472px;width:6px"></div>
<div class="k" style="left:401px;top:472px;width:6px"></div>
<div class="k" style="left:44px;top:478px;width:6px"></div>
<div class="k" style="left:401px;top:478px;width:6px"></div>
<div class="k" style="left:38px;top:484px;width:12px"></div>
<div class="k" style="left:401px;top:484px;width:12px"></div>
<div class="k" style="left:44px;top:490px;width:6px"></div>
<div class="k" style="left:401px;top:490px;width:6px"></div>
<div class="k" style="left:44px;top:496px;width:6px"></div>
<div class="k" style="left:401px;top:496px;width:6px"></div>
<div class="k" style="left:44px;top:502px;width:6px"></div>
<div class="k" style="left:401px;top:502px;width:6px"></div>
<div class="k" style="left:44px;top:508px;width:6px"></div>
<div class="k" style="left:401px;top:508px;width:6px"></div>
<div class="k" style="left:44px;top:514px;width:6px"></div>
<div class="k" style="left:401px;top:514px;width:6px"></div>
<div class="k" style="left:44px;top:520px;width:6px"></div>
<div class="k" style="left:401px;top:520px;width:6px"></div>
<div class="k" style="left:44px;top:526px;width:6px"></div>
<div class="k" style="left:401px;top:526px;width:6px"></div>
<div class="k" style="left:44px;top:532px;width:6px"></div>
<div class="k" style="left:401px;top:532px;width:6px"></div>
<div class="k" style="left:44px;top:538px;width:6px"></div>
<div class="k" style="left:401px;top:538px;width:6px"></div>
<div class="k" style="left:38px;top:544px;width:12px"></div>
<div class="k" style="left:401px;top:544px;width:12px"></div>
<div class="k" style="left:44px;top:550px;width:6px"></div>
<div class="k" style="left:401px;top:550px;width:6px"></div>
<div class="k" style="left:44px;top:556px;width:6px"></div>
<div class="k" style="left:401px;top:556px;width:6px"></div>
<div class="k" style="left:44px;top:562px;width:6px"></div>
<div class="k" style="left:401px;top:562px;width:6px"></div>
<div class="k" style="left:44px;top:568px;width:6px"></div>
<div class="k" style="left:401px;top:568px;width:6px"></div>
<div class="k" style="left:44px;top:574px;width:6px"></div>
<div class="k" style="left:401px;top:574px;width:6px"></div>
<div class="k" style="left:44px;top:580px;width:6px"></div>
<div class="k" style="left:401px;top:580px;width:6px"></div>
<div class="k" style="left:44px;top:586px;width:6px"></div>
<div class="k" style="left:401px;top:586px;width:6px"></div>
<div class="k" style="left:44px;top:592px;width:6px"></div>
<div class="k" style="left:401px;top:592px;width:6px"></div>
<div class="k" style="left:44px;top:598px;width:6px"></div>
<div class="k" style="left:401px;top:598px;width:6px"></div>
<div class="k" style="left:38px;top:604px;width:12px"></div>
<div class="k" style="left:401px;top:604px;width:12px"></div>
<div class="k" style="left:44px;top:610px;width:6px"></div>
<div class="k" style="left:401px;top:610px;width:6px"></div>
<div class="k" style="left:44px;top:616px;width:6px"></div>
<div class="k" style="left:401px;top:616px;width:6px"></div>
<div class="k" style="left:44px;top:622px;width:6px"></div>
<div class="k" style="left:401px;top:622px;width:6px"></div>
<div class="k" style="left:44px;top:628px;width:6px"></div>
<div class="k" style="left:401px;top:628px;width:6px"></div>
<div class="k" style="left:44px;top:634px;width:6px"></div>
<div class="k" style="left:401px;top:634px;width:6px"></div>
<div class="k" style="left:44px;top:640px;width:6px"></div>
<div class="k" style="left:401px;top:640px;width:6px"></div>
<div class="k" style="left:44px;top:646px;width:6px"></div>
<div class="k" style="left:401px;top:646px;width:6px"></div>
<div class="k" style="left:44px;top:652px;width:6px"></div>
<div class="k" style="left:401px;top:652px;width:6px"></div>
<div class="k" style="left:44px;top:658px;width:6px"></div>
<div class="k" style="left:401px;top:658px;width:6px"></div>
<div class="k" style="left:38px;top:664px;width:12px"></div>
<div class="k" style="left:401px;top:664px;width:12px"></div>
<div class="k" style="left:44px;top:670px;width:6px"></div>
<div class="k" style="left:401px;top:670px;width:6px"></div>
<div class="k" style="left:44px;top:676px;width:6px"></div>
<div class="k" style="left:401px;top:676px;width:6px"></div>
<div class="k" style="left:44px;top:682px;width:6px"></div>
<div class="k" style="left:401px;top:682px;width:6px"></div>
<div class="k" style="left:44px;top:688px;width:6px"></div>
<div class="k" style="left:401px;top:688px;width:6px"></div>
<div class="k" style="left:44px;top:694px;width:6px"></div>
<div class="k" style="left:401px;top:694px;width:6px"></div>
<div class="k" style="left:44px;top:700px;width:6px"></div>
<div class="k" style="left:401px;top:700px;width:6px"></div>
<div class="k" style="left:44px;top:706px;width:6px"></div>
<div class="k" style="left:401px;top:706px;width:6px"></div>
<div class="k" style="left:44px;top:712px;width:6px"></div>
<div class="k" style="left:401px;top:712px;width:6px"></div>
<div class="k" style="left:44px;top:718px;width:6px"></div>
<div class="k" style="left:401px;top:718px;width:6px"></div>
<div class="k" style="left:38px;top:724px;width:12px"></div>
<div class="k" style="left:401px;top:724px;width:12px"></div>
<div class="k" style="left:44px;top:730px;width:6px"></div>
<div class="k" style="left:401px;top:730px;width:6px"></div>
<div class="k" style="left:44px;top:736px;width:6px"></div>
<div class="k" style="left:401px;top:736px;width:6px"></div>
<div class="k" style="left:44px;top:742px;width:6px"></div>
<div class="k" style="left:401px;top:742px;width:6px"></div>
<div class="k" style="left:44px;top:748px;width:6px"></div>
<div class="k" style="left:401px;top:748px;width:6px"></div>
<div class="k" style="left:44px;top:754px;width:6px"></div>
<div class="k" style="left:401px;top:754px;width:6px"></div>
<div class="k" style="left:44px;top:760px;width:6px"></div>
<div class="k" style="left:401px;top:760px;width:6px"></div>
<div class="k" style="left:44px;top:766px;width:6px"></div>
<div class="k" style="left:401px;top:766px;width:6px"></div>
<div class="k" style="left:44px;top:772px;width:6px"></div>
<div class="k" style="left:401px;top:772px;width:6px"></div>
<div class="k" style="left:44px;top:778px;width:6px"></div>
<div class="k" style="left:401px;top:778px;width:6px"></div>
<div class="k" style="left:50px;top:784px;width:351px"></div>
<div class="v" style="left:50px;top:784px;height:11px"></div>
<div class="v" style="left:53px;top:784px;height:8px"></div>
<div class="v" style="left:57px;top:784px;height:8px"></div>
<div class="v" style="left:60px;top:784px;height:8px"></div>
<div class="v" style="left:64px;top:784px;height:8px"></div>
<div class="v" style="left:67px;top:784px;height:11px"></div>
<div class="v" style="left:71px;top:784px;height:8px"></div>
<div class="v" style="left:74px;top:784px;height:8px"></div>
<div class="v" style="left:78px;top:784px;height:8px"></div>
<div class="v" style="left:81px;top:784px;height:8px"></div>
<div class="v" style="left:85px;top:784px;height:11px"></div>
<div class="v" style="left:88px;top:784px;height:8px"></div>
<div class="v" style="left:92px;top:784px;height:8px"></div>
<div class="v" style="left:95px;top:784px;height:8px"></div>
<div class="v" style="left:99px;top:784px;height:8px"></div>
<div class="v" style="left:102px;top:784px;height:11px"></div>
<div class="v" style="left:106px;top:784px;height:8px"></div>
<div class="v" style="left:109px;top:784px;height:8px"></div>
<div class="v" style="left:113px;top:784px;height:8px"></div>
<div class="v" style="left:116px;top:784px;height:8px"></div>
<div class="v" style="left:120px;top:784px;height:11px"></div>
<div class="v" style="left:123px;top:784px;height:8px"></div>
<div class="v" style="left:127px;top:784px;height:8px"></div>
<div class="v" style="left:130px;top:784px;height:8px"></div>
<div class="v" style="left:134px;top:784px;height:8px"></div>
<div class="v" style="left:137px;top:784px;height:11px"></div>
<div class="v" style="left:141px;top:784px;height:8px"></div>
<div class="v" style="left:144px;top:784px;height:8px"></div>
<div class="v" style="left:148px;top:784px;height:8px"></div>
<div class="v" style="left:151px;top:784px;height:8px"></div>
<div class="v" style="left:155px;top:784px;height:11px"></div>
<div class="v" style="left:158px;top:784px;height:8px"></div>
<div class="v" style="left:162px;top:784px;height:8px"></div>
<div class="v" style="left:165px;top:784px;height:8px"></div>
<div class="v" style="left:169px;top:784px;height:8px"></div>
<div class="v" style="left:172px;top:784px;height:11px"></div>
<div class="v" style="left:176px;top:784px;height:8px"></div>
<div class="v" style="left:179px;top:784px;height:8px"></div>
<div class="v" style="left:183px;top:784px;height:8px"></div>
<div class="v" style="left:186px;top:784px;height:8px"></div>
<div class="v" style="left:190px;top:784px;height:11px"></div>
<div class="v" style="left:193px;top:784px;height:8px"></div>
<div class="v" style="left:197px;top:784px;height:8px"></div>
<div class="v" style="left:200px;top:784px;height:8px"></div>
<div class="v" style="left:204px;top:784px;height:8px"></div>
<div class="v" style="left:207px;top:784px;height:11px"></div>
<div class="v" style="left:211px;top:784px;height:8px"></div>
<div class="v" style="left:214px;top:784px;height:8px"></div>
<div class="v" style="left:218px;top:784px;height:8px"></div>
<div class="v" style="left:221px;top:784px;height:8px"></div>
<div class="v" style="left:225px;top:784px;height:11px"></div>
<div class="v" style="left:228px;top:784px;height:8px"></div>
<div class="v" style="left:232px;top:784px;height:8px"></div>
<div class="v" style="left:235px;top:784px;height:8px"></div>
<div class="v" style="left:239px;top:784px;height:8px"></div>
<div class="v" style="left:242px;top:784px;height:11px"></div>
<div class="v" style="left:246px;top:784px;height:8px"></div>
<div class="v" style="left:249px;top:784px;height:8px"></div>
<div class="v" style="left:253px;top:784px;height:8px"></div>
<div class="v" style="left:256px;top:784px;height:8px"></div>
<div class="v" style="left:260px;top:784px;height:11px"></div>
<div class="v" style="left:263px;top:784px;height:8px"></div>
<div class="v" style="left:267px;top:784px;height:8px"></div>
<div class="v" style="left:270px;top:784px;height:8px"></div>
<div class="v" style="left:274px;top:784px;height:8px"></div>
<div class="v" style="left:277px;top:784px;height:11px"></div>
<div class="v" style="left:281px;top:784px;height:8px"></div>
<div class="v" style="left:284px;top:784px;height:8px"></div>
<div class="v" style="left:288px;top:784px;height:8px"></div>
<div class="v" style="left:291px;top:784px;height:8px"></div>
<div class="v" style="left:295px;top:784px;height:11px"></div>
<div class="v" style="left:298px;top:784px;height:8px"></div>
<div class="v" style="left:302px;top:784px;height:8px"></div>
<div class="v" style="left:305px;top:784px;height:8px"></div>
<div class="v" style="left:309px;top:784px;height:8px"></div>
<div class="v" style="left:312px;top:784px;height:11px"></div>
<div class="v" style="left:316px;top:784px;height:8px"></div>
<div class="v" style="left:319px;top:784px;height:8px"></div>
<div class="v" style="left:323px;top:784px;height:8px"></div>
<div class="v" style="left:326px;top:784px;height:8px"></div>
<div class="v" style="left:330px;top:784px;height:11px"></div>
<div class="v" style="left:333px;top:784px;height:8px"></div>
<div class="v" style="left:337px;top:784px;height:8px"></div>
<div class="v" style="left:340px;top:784px;height:8px"></div>
<div class="v" style="left:344px;top:784px;height:8px"></div>
<div class="v" style="left:347px;top:784px;height:11px"></div>
<div class="v" style="left:351px;top:784px;height:8px"></div>
<div class="v" style="left:354px;top:784px;height:8px"></div>
<div class="v" style="left:358px;top:784px;height:8px"></div>
<div class="v" style="left:361px;top:784px;height:8px"></div>
<div class="v" style="left:365px;top:784px;height:11px"></div>
<div class="v" style="left:368px;top:784px;height:8px"></div>
<div class="v" style="left:372px;top:784px;height:8px"></div>
<div class="v" style="left:375px;top:784px;height:8px"></div>
<div class="v" style="left:379px;top:784px;height:8px"></div>
<div class="v" style="left:382px;top:784px;height:11px"></div>
<div class="v" style="left:386px;top:784px;height:8px"></div>
<div class="v" style="left:389px;top:784px;height:8px"></div>
<div class="v" style="left:393px;top:784px;height:8px"></div>
<div class="v" style="left:396px;top:784px;height:8px"></div>
<div class="v" style="left:400px;top:784px;height:11px"></div>
<div class="t" style="left:-1px;top:59px"><span>1</span><span>2</span><span>:</span><span>0</span><span>0</span></div>
<div class="t" style="left:414px;top:59px"><span>2</span><span>0</span><span>:</span><span>0</span><span>0</span></div>
<div class="t" style="left:-1px;top:119px"><span>1</span><span>2</span><span>:</span><span>1</span><span>0</span></div>
<div class="t" style="left:414px;top:119px"><span>2</span><span>0</span><span>:</span><span>1</span><span>0</span></div>
<div class="t" style="left:-1px;top:179px"><span>1</span><span>2</span><span>:</span><span>2</span><span>0</span></div>
<div class="t" style="left:414px;top:179px"><span>2</span><span>0</span><span>:</span><span>2</span><span>0</span></div>
<div class="t" style="left:-1px;top:239px"><span>1</span><span>2</span><span>:</span><span>3</span><span>0</span></div>
<div class="t" style="left:414px;top:239px"><span>2</span><span>0</span><span>:</span><span>3</span><span>0</span></div>
<div class="t" style="left:-1px;top:299px"><span>1</span><span>2</span><span>:</span><span>4</span><span>0</span></div>
<div class="t" style="left:414px;top:299px"><span>2</span><span>0</span><span>:</span><span>4</span><span>0</span></div>
<div class="t" style="left:-1px;top:359px"><span>1</span><span>2</span><span>:</span><span>5</span><span>0</span></div>
<div class="t" style="left:414px;top:359px"><span>2</span><span>0</span><span>:</span><span>5</span><span>0</span></div>
<div class="t" style="left:-1px;top:419px"><span>1</span><span>3</span><span>:</span><span>0</span><span>0</span></div>
<div class="t" style="left:414px;top:419px"><span>2</span><span>1</span><span>:</span><span>0</span><span>0</span></div>
<div class="t" style="left:-1px;top:479px"><span>1</span><span>3</span><span>:</span><span>1</span><span>0</span></div>
<div class="t" style="left:414px;top:479px"><span>2</span><span>1</span><span>:</span><span>1</span><span>0</span></div>
<div class="t" style="left:-1px;top:539px"><span>1</span><span>3</span><span>:</span><span>2</span><span>0</span></div>
<div class="t" style="left:414px;top:539px"><span>2</span><span>1</span><span>:</span><span>2</span><span>0</span></div>
<div class="t" style="left:-1px;top:599px"><span>1</span><span>3</span><span>:</span><span>3</span><span>0</span></div>
<div class="t" style="left:414px;top:599px"><span>2</span><span>1</span><span>:</span><span>3</span><span>0</span></div>
<div class="t" style="left:-1px;top:659px"><span>1</span><span>3</span><span>:</span><span>4</span><span>0</span></div>
<div class="t" style="left:414px;top:659px"><span>2</span><span>1</span><span>:</span><span>4</span><span>0</span></div>
<div class="t" style="left:-1px;top:719px"><span>1</span><span>3</span><span>:</span><span>5</span><span>0</span></div>
<div class="t" style="left:414px;top:719px"><span>2</span><span>1</span><span>:</span><span>5</span><span>0</span></div>
<div class="t" style="left:47.0px;top:795px"><span>0</span></div>
<div class="t" style="left:64.5px;top:795px"><span>5</span></div>
<div class="t" style="left:78.5px;top:795px"><span>1</span><span>0</span></div>
<div class="t" style="left:96.0px;top:795px"><span>1</span><span>5</span></div>
<div class="t" style="left:113.5px;top:795px"><span>2</span><span>0</span></div>
<div class="t" style="left:131.0px;top:795px"><span>2</span><span>5</span></div>
<div class="t" style="left:148.5px;top:795px"><span>3</span><span>0</span></div>
<div class="t" style="left:166.0px;top:795px"><span>3</span><span>5</span></div>
<div class="t" style="left:183.5px;top:795px"><span>4</span><span>0</span></div>
<div class="t" style="left:201.0px;top:795px"><span>4</span><span>5</span></div>
<div class="t" style="left:218.5px;top:795px"><span>5</span><span>0</span></div>
<div class="t" style="left:236.0px;top:795px"><span>5</span><span>5</span></div>
<div class="t" style="left:253.5px;top:795px"><span>6</span><span>0</span></div>
<div class="t" style="left:271.0px;top:795px"><span>6</span><span>5</span></div>
<div class="t" style="left:288.5px;top:795px"><span>7</span><span>0</span></div>
<div class="t" style="left:306.0px;top:795px"><span>7</span><span>5</span></div>
<div class="t" style="left:323.5px;top:795px"><span>8</span><span>0</span></div>
<div class="t" style="left:341.0px;top:795px"><span>8</span><span>5</span></div>
<div class="t" style="left:358.5px;top:795px"><span>9</span><span>0</span></div>
<div class="t" style="left:376.0px;top:795px"><span>9</span><span>5</span></div>
<div class="t" style="left:390.0px;top:795px"><span>1</span><span>0</span><span>0</span></div>
<div class="h" style="left:189px;top:807px">FREQUENCY (HZ)</div>
<div class="h" style="left:179px;top:6px">SMNB DP1 BP 40</div>
<div class="h" style="left:13px;top:21px">PST  Feb19,2025(Stockdale Mountain, Parkfield, Ca)</div>
<div class="h" style="left:403px;top:21px">UTC</div>
<svg style="position:absolute;left:0;top:0" width="552" height="864" shape-rendering="crispEdges"><g fill="#000"><rect x="504" y="64" width="9" height="1"/><rect x="504" y="65" width="9" height="1"/><rect x="504" y="66" width="9" height="1"/><rect x="505" y="67" width="7" height="1"/><rect x="504" y="68" width="9" height="1"/><rect x="503" y="69" width="10" height="1"/><rect x="505" y="70" width="7" height="1"/><rect x="504" y="71" width="8" height="1"/><rect x="505" y="72" width="7" height="1"/><rect x="504" y="73" width="10" height="1"/><rect x="503" y="74" width="9" height="1"/><rect x="504" y="75" width="9" height="1"/><rect x="504" y="76" width="10" height="1"/><rect x="503" y="77" width="10" height="1"/><rect x="503" y="78" width="9" height="1"/><rect x="504" y="79" width="8" height="1"/><rect x="504" y="80" width="8" height="1"/><rect x="505" y="81" width="7" height="1"/><rect x="505" y="82" width="7" height="1"/><rect x="504" y="83" width="8" height="1"/><rect x="504" y="84" width="8" height="1"/><rect x="504" y="85" width="9" height="1"/><rect x="505" y="86" width="8" height="1"/><rect x="505" y="87" width="9" height="1"/><rect x="505" y="88" width="8" height="1"/><rect x="505" y="89" width="9" height="1"/><rect x="505" y="90" width="8" height="1"/><rect x="503" y="91" width="9" height="1"/><rect x="504" y="92" width="9" height="1"/><rect x="505" y="93" width="9" height="1"/><rect x="505" y="94" width="7" height="1"/><rect x="505" y="95" width="8" height="1"/><rect x="505" y="96" width="7" height="1"/><rect x="505" y="97" width="8" height="1"/><rect x="505" y="98" width="8" height="1"/><rect x="505" y="99" width="7" height="1"/><rect x="504" y="100" width="8" height="1"/><rect x="505" y="101" width="9" height="1"/><rect x="505" y="102" width="7" height="1"/><rect x="505" y="103" width="7" height="1"/><rect x="504" y="104" width="9" height="1"/><rect x="503" y="105" width="10" height="1"/><rect x="504" y="106" width="8" height="1"/><rect x="504" y="107" width="10" height="1"/><rect x="505" y="108" width="9" height="1"/><rect x="505" y="109" width="7" height="1"/><rect x="505" y="110" width="7" height="1"/><rect x="505" y="111" width="7" height="1"/><rect x="504" y="112" width="8" height="1"/><rect x="505" y="113" width="7" height="1"/><rect x="503" y="114" width="9" height="1"/><rect x="505" y="115" width="7" height="1"/><rect x="504" y="116" width="9" height="1"/><rect x="505" y="117" width="9" height="1"/><rect x="504" y="118" width="8" height="1"/><rect x="504" y="119" width="9" height="1"/><rect x="505" y="120" width="9" height="1"/><rect x="505" y="121" width="8" height="1"/><rect x="503" y="122" width="10" height="1"/><rect x="505" y="123" width="8" height="1"/><rect x="504" y="124" width="8" height="1"/><rect x="505" y="125" width="7" height="1"/><rect x="504" y="126" width="8" height="1"/><rect x="505" y="127" width="7" height="1"/><rect x="505" y="128" width="8" height="1"/><rect x="500" y="129" width="17" height="1"/><rect x="502" y="130" width="13" height="1"/><rect x="503" y="131" width="11" height="1"/><rect x="504" y="132" width="9" height="1"/><rect x="505" y="133" width="7" height="1"/><rect x="506" y="134" width="5" height="1"/><rect x="507" y="135" width="3" height="1"/><rect x="507" y="136" width="2" height="1"/><rect x="498" y="123" width="47" height="1"/><rect x="501" y="148" width="14" height="1"/><rect x="505" y="149" width="7" height="1"/><rect x="505" y="150" width="7" height="1"/><rect x="504" y="151" width="7" height="1"/><rect x="504" y="152" width="9" height="1"/><rect x="506" y="153" width="7" height="1"/><rect x="507" y="154" width="2" height="1"/><rect x="472" y="153" width="48" height="1"/><rect x="502" y="160" width="12" height="1"/><rect x="503" y="161" width="9" height="1"/><rect x="504" y="162" width="9" height="1"/><rect x="503" y="163" width="11" height="1"/><rect x="504" y="164" width="9" height="1"/><rect x="505" y="165" width="9" height="1"/><rect x="507" y="166" width="2" height="1"/><rect x="472" y="165" width="73" height="1"/><rect x="504" y="208" width="7" height="1"/><rect x="503" y="209" width="9" height="1"/><rect x="504" y="210" width="8" height="1"/><rect x="504" y="211" width="9" height="1"/><rect x="504" y="212" width="8" height="1"/><rect x="504" y="213" width="9" height="1"/><rect x="507" y="214" width="2" height="1"/><rect x="472" y="213" width="55" height="1"/><rect x="505" y="280" width="7" height="1"/><rect x="506" y="281" width="5" height="1"/><rect x="505" y="282" width="7" height="1"/><rect x="504" y="283" width="6" height="1"/><rect x="505" y="284" width="6" height="1"/><rect x="506" y="285" width="5" height="1"/><rect x="507" y="286" width="2" height="1"/><rect x="472" y="285" width="58" height="1"/><rect x="506" y="382" width="5" height="1"/><rect x="507" y="383" width="5" height="1"/><rect x="504" y="384" width="6" height="1"/><rect x="504" y="385" width="7" height="1"/><rect x="504" y="386" width="6" height="1"/><rect x="505" y="387" width="7" height="1"/><rect x="507" y="388" width="2" height="1"/><rect x="473" y="387" width="72" height="1"/><rect x="505" y="406" width="7" height="1"/><rect x="504" y="407" width="8" height="1"/><rect x="504" y="408" width="8" height="1"/><rect x="505" y="409" width="7" height="1"/><rect x="505" y="410" width="7" height="1"/><rect x="505" y="411" width="8" height="1"/><rect x="507" y="412" width="2" height="1"/><rect x="472" y="407" width="73" height="1"/><rect x="472" y="408" width="61" height="1"/><rect x="472" y="411" width="48" height="1"/><rect x="505" y="418" width="4" height="1"/><rect x="506" y="419" width="4" height="1"/><rect x="506" y="420" width="5" height="1"/><rect x="505" y="421" width="6" height="1"/><rect x="505" y="422" width="6" height="1"/><rect x="506" y="423" width="7" height="1"/><rect x="505" y="424" width="8" height="1"/><rect x="504" y="425" width="8" height="1"/><rect x="504" y="426" width="9" height="1"/><rect x="504" y="427" width="10" height="1"/><rect x="503" y="428" width="10" height="1"/><rect x="502" y="429" width="11" height="1"/><rect x="503" y="430" width="12" height="1"/><rect x="507" y="431" width="2" height="1"/><rect x="489" y="423" width="56" height="1"/><rect x="493" y="426" width="52" height="1"/><rect x="472" y="429" width="50" height="1"/><rect x="502" y="430" width="12" height="1"/><rect x="504" y="436" width="9" height="1"/><rect x="505" y="437" width="7" height="1"/><rect x="503" y="438" width="8" height="1"/><rect x="506" y="439" width="7" height="1"/><rect x="504" y="440" width="9" height="1"/><rect x="504" y="441" width="8" height="1"/><rect x="504" y="442" width="9" height="1"/><rect x="472" y="437" width="73" height="1"/><rect x="500" y="438" width="22" height="1"/><rect x="472" y="441" width="46" height="1"/><rect x="508" y="442" width="1" height="6"/><rect x="505" y="448" width="8" height="1"/><rect x="505" y="449" width="7" height="1"/><rect x="504" y="450" width="8" height="1"/><rect x="505" y="451" width="9" height="1"/><rect x="504" y="452" width="9" height="1"/><rect x="504" y="453" width="8" height="1"/><rect x="506" y="454" width="7" height="1"/><rect x="507" y="455" width="2" height="1"/><rect x="472" y="448" width="50" height="1"/><rect x="472" y="450" width="48" height="1"/><rect x="472" y="453" width="73" height="1"/><rect x="504" y="472" width="7" height="1"/><rect x="504" y="473" width="7" height="1"/><rect x="503" y="474" width="9" height="1"/><rect x="504" y="475" width="9" height="1"/><rect x="503" y="476" width="8" height="1"/><rect x="504" y="477" width="9" height="1"/><rect x="505" y="478" width="7" height="1"/><rect x="507" y="479" width="2" height="1"/><rect x="472" y="472" width="44" height="1"/><rect x="495" y="473" width="50" height="3"/><rect x="472" y="475" width="17" height="1"/><rect x="472" y="477" width="56" height="1"/><rect x="504" y="484" width="9" height="1"/><rect x="504" y="485" width="8" height="1"/><rect x="503" y="486" width="9" height="1"/><rect x="505" y="487" width="8" height="1"/><rect x="503" y="488" width="8" height="1"/><rect x="503" y="489" width="9" height="1"/><rect x="504" y="490" width="9" height="1"/><rect x="504" y="491" width="8" height="1"/><rect x="504" y="492" width="8" height="1"/><rect x="505" y="493" width="7" height="1"/><rect x="504" y="494" width="8" height="1"/><rect x="503" y="495" width="8" height="1"/><rect x="504" y="496" width="8" height="1"/><rect x="507" y="497" width="2" height="1"/><rect x="472" y="484" width="68" height="1"/><rect x="472" y="489" width="73" height="1"/><rect x="472" y="490" width="49" height="1"/><rect x="472" y="491" width="73" height="1"/><rect x="472" y="494" width="73" height="2"/><rect x="505" y="502" width="8" height="1"/><rect x="503" y="503" width="10" height="1"/><rect x="504" y="504" width="9" height="1"/><rect x="503" y="505" width="9" height="1"/><rect x="504" y="506" width="9" height="1"/><rect x="502" y="507" width="10" height="1"/><rect x="507" y="508" width="2" height="1"/><rect x="496" y="506" width="49" height="1"/><rect x="507" y="532" width="5" height="1"/><rect x="505" y="533" width="5" height="1"/><rect x="505" y="534" width="6" height="1"/><rect x="505" y="535" width="7" height="1"/><rect x="507" y="536" width="5" height="1"/><rect x="506" y="537" width="5" height="1"/><rect x="507" y="538" width="2" height="1"/><rect x="486" y="537" width="59" height="1"/><rect x="503" y="544" width="8" height="1"/><rect x="504" y="545" width="9" height="1"/><rect x="504" y="546" width="8" height="1"/><rect x="505" y="547" width="7" height="1"/><rect x="503" y="548" width="8" height="1"/><rect x="506" y="549" width="7" height="1"/><rect x="507" y="550" width="2" height="1"/><rect x="472" y="544" width="47" height="2"/><rect x="487" y="545" width="32" height="2"/><rect x="519" y="546" width="26" height="1"/><rect x="472" y="549" width="48" height="1"/><rect x="503" y="556" width="9" height="1"/><rect x="502" y="557" width="10" height="1"/><rect x="504" y="558" width="10" height="1"/><rect x="503" y="559" width="9" height="1"/><rect x="504" y="560" width="8" height="1"/><rect x="504" y="561" width="10" height="1"/><rect x="503" y="562" width="10" height="1"/><rect x="504" y="563" width="10" height="1"/><rect x="505" y="564" width="9" height="1"/><rect x="503" y="565" width="10" height="1"/><rect x="504" y="566" width="9" height="1"/><rect x="503" y="567" width="8" height="1"/><rect x="507" y="568" width="2" height="1"/><rect x="472" y="557" width="73" height="2"/><rect x="472" y="561" width="73" height="1"/><rect x="472" y="567" width="51" height="1"/><rect x="504" y="610" width="8" height="1"/><rect x="505" y="611" width="7" height="1"/><rect x="504" y="612" width="9" height="1"/><rect x="504" y="613" width="8" height="1"/><rect x="504" y="614" width="9" height="1"/><rect x="506" y="615" width="7" height="1"/><rect x="507" y="616" width="2" height="1"/><rect x="485" y="614" width="59" height="1"/><rect x="472" y="615" width="48" height="1"/><rect x="506" y="646" width="4" height="1"/><rect x="506" y="647" width="4" height="1"/><rect x="505" y="648" width="4" height="1"/><rect x="507" y="649" width="5" height="1"/><rect x="506" y="650" width="5" height="1"/><rect x="505" y="651" width="6" height="1"/><rect x="504" y="652" width="6" height="1"/><rect x="505" y="653" width="7" height="1"/><rect x="505" y="654" width="7" height="1"/><rect x="504" y="655" width="8" height="1"/><rect x="505" y="656" width="8" height="1"/><rect x="505" y="657" width="8" height="1"/><rect x="504" y="658" width="9" height="1"/><rect x="503" y="659" width="9" height="1"/><rect x="503" y="660" width="10" height="1"/><rect x="503" y="661" width="10" height="1"/><rect x="502" y="662" width="11" height="1"/><rect x="502" y="663" width="11" height="1"/><rect x="502" y="664" width="12" height="1"/><rect x="507" y="665" width="2" height="1"/><rect x="487" y="650" width="58" height="1"/><rect x="472" y="652" width="73" height="1"/><rect x="472" y="653" width="56" height="1"/><rect x="472" y="657" width="73" height="2"/><rect x="472" y="660" width="73" height="1"/><rect x="472" y="663" width="73" height="1"/><rect x="503" y="670" width="9" height="1"/><rect x="503" y="671" width="10" height="1"/><rect x="504" y="672" width="9" height="1"/><rect x="505" y="673" width="9" height="1"/><rect x="504" y="674" width="10" height="1"/><rect x="504" y="675" width="8" height="1"/><rect x="504" y="676" width="8" height="1"/><rect x="504" y="677" width="9" height="1"/><rect x="504" y="678" width="9" height="1"/><rect x="505" y="679" width="9" height="1"/><rect x="504" y="680" width="9" height="1"/><rect x="504" y="681" width="8" height="1"/><rect x="503" y="682" width="9" height="1"/><rect x="503" y="683" width="9" height="1"/><rect x="503" y="684" width="8" height="1"/><rect x="504" y="685" width="8" height="1"/><rect x="503" y="686" width="8" height="1"/><rect x="503" y="687" width="10" height="1"/><rect x="504" y="688" width="10" height="1"/><rect x="507" y="689" width="2" height="1"/><rect x="472" y="671" width="73" height="2"/><rect x="472" y="675" width="73" height="3"/><rect x="472" y="679" width="73" height="1"/><rect x="472" y="681" width="73" height="1"/><rect x="472" y="687" width="47" height="1"/><rect x="502" y="700" width="12" height="1"/><rect x="505" y="701" width="7" height="1"/><rect x="504" y="702" width="9" height="1"/><rect x="504" y="703" width="7" height="1"/><rect x="505" y="704" width="7" height="1"/><rect x="503" y="705" width="9" height="1"/><rect x="507" y="706" width="2" height="1"/><rect x="472" y="705" width="63" height="1"/><rect x="502" y="718" width="12" height="1"/><rect x="505" y="719" width="9" height="1"/><rect x="504" y="720" width="9" height="1"/><rect x="506" y="721" width="7" height="1"/><rect x="503" y="722" width="9" height="1"/><rect x="505" y="723" width="7" height="1"/><rect x="507" y="724" width="2" height="1"/><rect x="472" y="723" width="73" height="1"/><rect x="503" y="730" width="11" height="1"/><rect x="504" y="731" width="9" height="1"/><rect x="505" y="732" width="9" height="1"/><rect x="504" y="733" width="7" height="1"/><rect x="503" y="734" width="9" height="1"/><rect x="504" y="735" width="9" height="1"/><rect x="507" y="736" width="2" height="1"/><rect x="472" y="735" width="73" height="1"/><rect x="503" y="754" width="10" height="1"/><rect x="504" y="755" width="9" height="1"/><rect x="504" y="756" width="7" height="1"/><rect x="504" y="757" width="9" height="1"/><rect x="503" y="758" width="9" height="1"/><rect x="505" y="759" width="7" height="1"/><rect x="507" y="760" width="2" height="1"/><rect x="472" y="759" width="73" height="1"/><rect x="503" y="766" width="10" height="1"/><rect x="504" y="767" width="9" height="1"/><rect x="505" y="768" width="7" height="1"/><rect x="504" y="769" width="7" height="1"/><rect x="504" y="770" width="7" height="1"/><rect x="505" y="771" width="7" height="1"/><rect x="507" y="772" width="2" height="1"/><rect x="472" y="771" width="56" height="1"/></g></svg>
<svg style="position:absolute;left:0;top:848px" width="12" height="10" shape-rendering="crispEdges"><g fill="#000"><rect x="2" y="5" width="1" height="1"/><rect x="3" y="6" width="1" height="1"/><rect x="4" y="3" width="1" height="3"/><rect x="5" y="4" width="1" height="1"/><rect x="6" y="3" width="1" height="4"/><rect x="6" y="6" width="2" height="1"/></g></svg>
</body></html>
